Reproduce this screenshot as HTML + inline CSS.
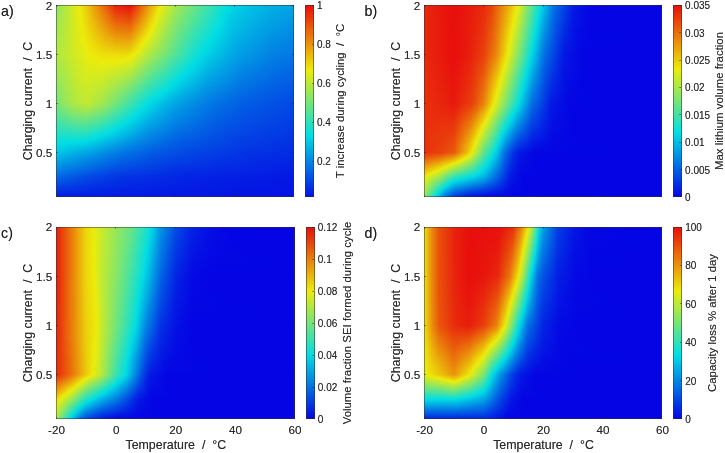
<!DOCTYPE html><html><head><meta charset="utf-8"><title>Figure</title><style>
html,body{margin:0;padding:0;background:#fff}
body{width:725px;height:453px;position:relative;overflow:hidden;text-shadow:0 0 .6px rgba(40,40,40,.55);font-family:"Liberation Sans",Arial,sans-serif;color:#262626}
.p{position:absolute;overflow:hidden;outline:1px solid rgba(50,50,50,.5);outline-offset:-1px}
.p i{display:block;height:1px;width:100%}
.cb{position:absolute;width:9px;outline:1px solid rgba(50,50,50,.55);outline-offset:-1px}
.t{position:absolute;font-size:11.7px;line-height:12px;white-space:nowrap;color:#2a2a2a}
.ct{font-size:10px}
.yt{text-align:right;width:30px}
.xt{text-align:center;width:40px}
.l{position:absolute;font-size:12.4px;line-height:14px;white-space:pre;color:#2a2a2a}

.cl{font-size:11.4px}
.yl{transform:translate(-50%,-50%) rotate(-90deg)}
.pl{position:absolute;font-size:14.2px;line-height:15px;color:#1a1a1a}
.tk{position:absolute;background:rgba(30,30,30,.45)}
</style></head><body>
<div class="pl" style="left:1.1px;top:3.9px">a)</div>
<div class="p" style="left:56.2px;top:5.2px;width:237.8px;height:191.8px">
<i style="background:linear-gradient(90deg,#8ce663,#e6ec0f 22px,#ecea0a 24px,#ebc20a 32px,#e8270c 59px,#e8170c 69px,#e8110c 74px,#e81c0c 76px,#ebb10b 96px,#ecea0a 104px,#c8ea2b 112px,#a3e84d 120px,#64e488 140px,#2fe1b8 157px,#00dee4 171px,#00cde4 183px,#01b2e4 213px,#01a4e4)"></i><i style="background:linear-gradient(90deg,#8ce662,#e6ec10 22px,#ecea0a 24px,#ebc30a 32px,#e92a0c 59px,#e8190c 71px,#e8150c 74px,#e8200c 76px,#ebac0b 95px,#ecec0a 104px,#a2e84f 120px,#62e48a 140px,#27e0c0 159px,#00dde4 171px,#00cce4 183px,#01b1e4 213px,#01a3e4)"></i><i style="background:linear-gradient(90deg,#8de662,#e6ec10 22px,#ecea0a 24px,#ebc40a 32px,#e92e0c 59px,#e8190c 74px,#e8250c 76px,#ebaf0b 95px,#eaec0c 104px,#a0e750 120px,#60e48b 140px,#1fe0c7 161px,#00dde4 171px,#00cbe4 183px,#01b0e4 213px,#01a2e4)"></i><i style="background:linear-gradient(90deg,#8ee661,#e5ec10 22px,#eceb0a 24px,#ebc50a 32px,#e9320c 59px,#e81d0c 74px,#e8290c 76px,#ebb20b 95px,#ece90a 103px,#e3eb12 105px,#9ee752 120px,#5ee48d 140px,#18dfce 163px,#01dee3 170px,#00cbe4 182px,#01afe4 213px,#01a1e4)"></i><i style="background:linear-gradient(90deg,#8ee660,#e5ec10 22px,#eceb0a 24px,#ebc60a 32px,#e9350c 59px,#e8210c 74px,#e92d0c 76px,#ebb40b 95px,#eceb0a 103px,#9ce753 120px,#5de48e 140px,#0ddfd8 166px,#00dee4 170px,#00cbe4 181px,#01aee4 213px,#01a0e4)"></i><i style="background:linear-gradient(90deg,#8fe660,#e9ec0d 23px,#ece70a 25px,#ebc20a 33px,#e9360c 60px,#e8260c 74px,#e9310c 76px,#ebb70a 95px,#ebec0b 103px,#d1ea23 108px,#9be755 120px,#5be390 140px,#00dde4 170px,#00cae4 181px,#01ade4 213px,#019fe4)"></i><i style="background:linear-gradient(90deg,#90e75f,#ecec0a 24px,#ebc30a 33px,#e93a0c 60px,#e82a0c 74px,#e9350c 76px,#ebba0a 95px,#ece80a 102px,#e9ec0d 103px,#cbea29 109px,#99e757 120px,#59e392 140px,#01dee3 169px,#00cbe4 179px,#01ace4 213px,#019ee4)"></i><i style="background:linear-gradient(90deg,#91e75e,#ecec0a 24px,#ebc40a 33px,#e93d0c 60px,#e92e0c 74px,#e9390c 76px,#ebb60a 94px,#ecea0a 102px,#c0e933 111px,#97e758 120px,#58e393 140px,#00dee4 169px,#00cce4 178px,#01abe4 213px,#019de4)"></i><i style="background:linear-gradient(90deg,#91e75e,#ebec0a 24px,#ebc50a 33px,#e9410c 60px,#e9320c 74px,#e93d0c 76px,#ebb80a 94px,#ecec0a 102px,#d9eb1b 105px,#96e75a 120px,#56e395 140px,#00dde4 169px,#00cbe4 178px,#01aae4 213px,#019ce4)"></i><i style="background:linear-gradient(90deg,#92e75d,#ebec0b 24px,#ebc60a 33px,#e9450c 60px,#e9360c 74px,#e9480b 77px,#ebbb0a 94px,#ece80a 101px,#eaec0c 102px,#d7eb1d 105px,#94e75b 120px,#54e396 140px,#01dee4 168px,#00cce4 177px,#01a9e4 213px,#019be4)"></i><i style="background:linear-gradient(90deg,#93e75c,#ebec0b 24px,#ebcb0a 32px,#e9490b 60px,#e93a0c 74px,#e94c0b 77px,#ebbe0a 94px,#ecea0a 101px,#ccea27 107px,#92e75d 120px,#52e398 140px,#00dde4 168px,#00cee4 175px,#01afe4 204px,#019ae4)"></i><i style="background:linear-gradient(90deg,#94e75c,#eaec0c 24px,#ebcc0a 32px,#e94c0b 60px,#e93f0c 74px,#e9500b 77px,#ebc10a 94px,#ecec0a 101px,#d3eb21 105px,#90e75f 120px,#51e39a 140px,#00dce4 168px,#00cbe4 176px,#01a8e4 212px,#019ae4)"></i><i style="background:linear-gradient(90deg,#94e75b,#eaec0c 24px,#ebcd0a 32px,#e9500b 60px,#e9430c 74px,#e9540b 77px,#ebc30a 94px,#ece80a 100px,#eaec0c 101px,#d1ea23 105px,#8fe660 120px,#4fe39b 140px,#00dee4 167px,#00cce4 175px,#01ade4 204px,#0199e4)"></i><i style="background:linear-gradient(90deg,#95e75a,#eaec0c 24px,#ecdb0a 29px,#e9560b 59px,#e9470b 74px,#e9580b 77px,#ebc60a 94px,#ecea0a 100px,#cbea29 106px,#8de662 120px,#4de39d 140px,#00dde4 167px,#00cbe4 175px,#01ace4 204px,#0198e4)"></i><i style="background:linear-gradient(90deg,#96e75a,#eceb0a 25px,#ebb40b 38px,#e9580b 60px,#e94b0b 74px,#e95c0b 77px,#ebc90a 94px,#ebec0b 100px,#cdea26 105px,#8be663 120px,#4be29e 140px,#01dee3 166px,#00cae4 175px,#01abe4 204px,#0197e4)"></i><i style="background:linear-gradient(90deg,#96e759,#eceb0a 25px,#ebb20b 39px,#e95b0b 60px,#e94f0b 74px,#e9600b 77px,#ebcb0a 94px,#ece90a 99px,#e3eb13 101px,#cbea28 105px,#86e668 121px,#4ae2a0 140px,#00dee4 166px,#00cbe4 174px,#01b9e4 189px,#01a3e4 214px,#0196e4)"></i><i style="background:linear-gradient(90deg,#97e758,#ecec0a 25px,#eba60b 42px,#e95f0b 60px,#e9540b 74px,#ea640b 77px,#ebc80a 93px,#eceb0a 99px,#c9ea2a 105px,#84e66a 121px,#48e2a1 140px,#00dde4 166px,#00c8e4 175px,#01a9e4 204px,#0195e4)"></i><i style="background:linear-gradient(90deg,#98e758,#ecec0a 25px,#ea630b 60px,#e9580b 74px,#ea680b 77px,#ebcb0a 93px,#eaec0c 99px,#c7ea2c 105px,#83e66b 121px,#46e2a3 140px,#00dee4 165px,#00c9e4 174px,#01b7e4 189px,#01a1e4 214px,#0194e4)"></i><i style="background:linear-gradient(90deg,#99e757,#ecec0a 25px,#ebb20b 40px,#ea660b 60px,#e95c0b 74px,#ea720b 78px,#ebce0a 93px,#ecea0a 98px,#c1e932 106px,#81e66d 121px,#45e2a5 140px,#00dde4 165px,#00c8e4 174px,#01b6e4 189px,#01a0e4 214px,#0193e4)"></i><i style="background:linear-gradient(90deg,#99e756,#ebec0b 25px,#ebbc0a 38px,#ea6a0b 60px,#e9600b 74px,#ea760b 78px,#ecd10a 93px,#ebec0b 98px,#c3ea30 105px,#7fe66e 121px,#43e2a6 140px,#00dee4 164px,#00c6e4 175px,#01a7e4 204px,#0192e4)"></i><i style="background:linear-gradient(90deg,#9ae756,#ebec0b 25px,#ebc50a 36px,#ea700b 59px,#ea640b 74px,#ea7a0b 78px,#ecd40a 93px,#ecea0a 97px,#d7eb1d 101px,#bde936 106px,#7de570 121px,#41e2a8 140px,#00dde4 164px,#00c5e4 175px,#01a6e4 204px,#0191e4)"></i><i style="background:linear-gradient(90deg,#9be755,#ecea0a 26px,#ea740b 59px,#ea690b 74px,#ea7e0b 78px,#ecd60a 93px,#ecec0a 97px,#bfe933 105px,#7ce572 121px,#3fe2a9 140px,#01dee4 163px,#00c4e4 175px,#01a5e4 204px,#0190e4)"></i><i style="background:linear-gradient(90deg,#9be754,#eceb0a 26px,#ea770b 59px,#ea6d0b 74px,#ea880b 79px,#ecd90a 93px,#ece90a 96px,#e4ec12 98px,#b9e939 106px,#7ae573 121px,#3ee2ab 140px,#00dde4 163px,#00c3e4 175px,#01a4e4 204px,#018fe4)"></i><i style="background:linear-gradient(90deg,#9ce754,#eceb0a 26px,#ea7e0b 58px,#ea780b 62px,#ea710b 74px,#ea8c0b 79px,#ecdc0a 93px,#ecec0a 96px,#b7e93b 106px,#78e575 121px,#3ce2ad 140px,#01dee3 162px,#01c2e4 175px,#01a3e4 204px,#018ee4)"></i><i style="background:linear-gradient(90deg,#9de753,#ecec0a 26px,#ea850b 57px,#ea7c0b 61px,#ea750b 74px,#ea960b 80px,#ecdf0a 93px,#eaec0c 96px,#b5e93d 106px,#77e576 121px,#3ae1ae 140px,#00dde4 162px,#01c1e4 175px,#01a2e4 204px,#018de4)"></i><i style="background:linear-gradient(90deg,#9ee752,#ecec0a 26px,#ea8c0b 56px,#ea810b 60px,#ea790b 74px,#eb990b 80px,#ece20a 93px,#ecec0a 95px,#b3e93f 106px,#75e578 121px,#38e1b0 140px,#00dee4 161px,#01c0e4 175px,#01a1e4 204px,#018ce4)"></i><i style="background:linear-gradient(90deg,#9ee752,#ebec0b 26px,#ea8f0b 56px,#ea840b 60px,#ea7d0b 74px,#eba30b 81px,#ece40a 93px,#e9ec0c 95px,#b1e841 106px,#73e57a 121px,#37e1b1 140px,#02dee2 160px,#01bce4 177px,#0199e4 213px,#028ce4)"></i><i style="background:linear-gradient(90deg,#9fe751,#ecea0a 27px,#eb9b0b 53px,#ea880b 60px,#ea820b 74px,#ebac0b 82px,#ece70a 93px,#ecec0a 94px,#afe842 106px,#71e57b 121px,#35e1b3 140px,#00dee4 160px,#01bde4 176px,#0199e4 212px,#028be4)"></i><i style="background:linear-gradient(90deg,#a0e750,#eceb0a 27px,#eba00b 52px,#ea8c0b 60px,#ea860b 74px,#ebb50a 83px,#ecea0a 93px,#a9e848 107px,#70e57d 121px,#33e1b5 140px,#01dee3 159px,#01bae4 177px,#0197e4 213px,#028ae4)"></i><i style="background:linear-gradient(90deg,#a0e850,#eceb0a 27px,#eba30b 52px,#ea900b 60px,#ea8a0b 74px,#ebc40a 85px,#ebec0b 93px,#a7e84a 107px,#6ee57e 121px,#32e1b6 140px,#02dee2 158px,#00d3e4 164px,#01b7e4 178px,#0197e4 213px,#0289e4)"></i><i style="background:linear-gradient(90deg,#a1e84f,#ecec0a 27px,#eba90b 51px,#ea930b 60px,#ea8e0b 74px,#ecd20a 87px,#eceb0a 92px,#a5e84c 107px,#6ce480 121px,#30e1b8 140px,#03dee1 157px,#00d6e4 162px,#01b8e4 177px,#0196e4 213px,#0288e4)"></i><i style="background:linear-gradient(90deg,#a2e84e,#ecec0a 27px,#ebac0b 51px,#ea970b 60px,#ea920b 74px,#ece90a 91px,#e0eb15 94px,#9fe751 108px,#67e485 122px,#2ee1b9 140px,#04dee0 156px,#00dbe4 159px,#01b7e4 177px,#0195e4 213px,#0287e4)"></i><i style="background:linear-gradient(90deg,#a3e84e,#ebec0b 27px,#ebae0b 51px,#eb9b0b 60px,#ea970b 74px,#ecec0a 91px,#9de753 108px,#65e486 122px,#2ce1bb 140px,#05dedf 155px,#00dce4 158px,#01b6e4 177px,#0194e4 213px,#0286e4)"></i><i style="background:linear-gradient(90deg,#a3e84d,#eceb0a 28px,#ebb30b 50px,#eb9f0b 60px,#eb9b0b 74px,#eceb0a 90px,#97e759 109px,#64e488 122px,#2be1bd 140px,#06dedf 154px,#00dbe4 158px,#01b5e4 177px,#0193e4 213px,#0285e4)"></i><i style="background:linear-gradient(90deg,#a4e84c,#eceb0a 28px,#ebb60a 50px,#eba20b 60px,#eb9f0b 74px,#ece90a 89px,#e1eb14 92px,#95e75a 109px,#62e48a 122px,#29e0be 140px,#04dee0 154px,#00dce4 157px,#01b3e4 178px,#0192e4 213px,#0284e4)"></i><i style="background:linear-gradient(90deg,#a5e84c,#ecec0a 28px,#ebb90a 50px,#eba60b 60px,#eba30b 74px,#ebec0b 89px,#8fe660 110px,#60e48b 122px,#27e0c0 140px,#05dee0 153px,#00dce4 156px,#01b2e4 178px,#0191e4 213px,#0283e4)"></i><i style="background:linear-gradient(90deg,#a6e84b,#ecec0a 28px,#ebbb0a 50px,#ebaa0b 60px,#eba70b 74px,#eceb0a 88px,#85e669 112px,#5be390 123px,#25e0c1 140px,#03dee1 153px,#00d7e4 158px,#01b0e4 179px,#0190e4 213px,#0282e4)"></i><i style="background:linear-gradient(90deg,#a6e84a,#ecea0a 29px,#ebc00a 49px,#ebad0b 61px,#ebab0b 74px,#eaec0c 88px,#87e667 111px,#59e391 123px,#24e0c3 140px,#02dee3 153px,#01afe4 179px,#018fe4 213px,#0281e4)"></i><i style="background:linear-gradient(90deg,#a7e84a,#eceb0a 29px,#ebc20a 49px,#ebb10b 61px,#ebb00b 74px,#ecec0a 87px,#81e66d 112px,#54e396 124px,#1fe0c7 141px,#00dee4 153px,#01aee4 179px,#018ee4 213px,#0280e4)"></i><i style="background:linear-gradient(90deg,#a8e849,#ecec0a 29px,#ebc50a 49px,#ebb50a 61px,#ebb40b 74px,#eceb0a 86px,#6be481 117px,#26e0c1 138px,#00dee4 152px,#01ade4 179px,#018de4 213px,#027fe4)"></i><i style="background:linear-gradient(90deg,#a8e848,#ecea0a 30px,#ebc70a 49px,#ebb90a 61px,#ebb80a 74px,#ecea0a 85px,#dbeb1a 89px,#58e393 122px,#1fe0c8 140px,#01dee3 151px,#01abe4 180px,#018ce4 213px,#027fe4)"></i><i style="background:linear-gradient(90deg,#a9e848,#eceb0a 30px,#ebca0a 49px,#ebbc0a 61px,#ebbc0a 74px,#ebec0b 85px,#c3ea30 94px,#56e395 122px,#1de0c9 140px,#00dde4 151px,#01abe4 179px,#028be4 213px,#027ee4)"></i><i style="background:linear-gradient(90deg,#aae847,#eceb0a 30px,#ebcd0a 49px,#ebc00a 61px,#ebc00a 74px,#ecec0a 84px,#c4ea2f 93px,#54e396 122px,#1be0cb 140px,#00dee4 150px,#01a9e4 180px,#028ae4 213px,#027de4)"></i><i style="background:linear-gradient(90deg,#abe846,#eceb0a 31px,#ebcf0a 49px,#ebc40a 61px,#ebc50a 74px,#eceb0a 83px,#bde935 94px,#4fe39b 123px,#19e0cd 140px,#00dee4 149px,#01a8e4 180px,#0289e4 213px,#027ce4)"></i><i style="background:linear-gradient(90deg,#abe846,#eceb0a 31px,#ecd20a 49px,#ebc80a 62px,#ebc90a 74px,#ecea0a 82px,#b7e93b 95px,#4de39d 123px,#18dfce 140px,#00dce4 149px,#01a7e4 180px,#0289e4 213px,#027be4)"></i><i style="background:linear-gradient(90deg,#ace845,#ecec0a 31px,#ecd40a 49px,#ebcc0a 62px,#ebcd0a 74px,#eaec0c 82px,#bfe934 92px,#48e2a1 124px,#13dfd2 141px,#00dde4 148px,#01a6e4 180px,#0288e4 213px,#027ae4)"></i><i style="background:linear-gradient(90deg,#ade844,#ecec0a 32px,#ecd70a 49px,#ebcf0a 62px,#ecd10a 74px,#ebec0b 81px,#bce936 92px,#43e2a6 125px,#0edfd7 142px,#00dee4 147px,#01a5e4 180px,#0287e4 213px,#0279e4)"></i><i style="background:linear-gradient(90deg,#ade844,#ecec0a 32px,#ecda0a 49px,#ecd30a 62px,#ecd50a 74px,#ebec0b 80px,#b9e939 92px,#69e483 114px,#24e0c3 134px,#00dde4 147px,#01a3e4 181px,#0286e4 213px,#0278e4)"></i><i style="background:linear-gradient(90deg,#aee843,#ecec0a 33px,#ecdc0a 49px,#ecd70a 63px,#ecda0a 74px,#ebec0a 79px,#b6e93c 92px,#72e57a 111px,#39e1af 127px,#02dee2 145px,#00d4e4 150px,#01a2e4 181px,#0285e4 213px,#0277e4)"></i><i style="background:linear-gradient(90deg,#aee843,#eaec0c 32px,#ece00a 45px,#ecdb0a 63px,#ecde0a 74px,#ecec0a 78px,#b6e93c 91px,#74e579 110px,#3ae1ae 126px,#06dede 143px,#00dce4 146px,#00c7e4 157px,#01a0e4 182px,#0284e4 213px,#0276e4)"></i><i style="background:linear-gradient(90deg,#ade844,#e9ec0d 32px,#ece80a 39px,#ece00a 51px,#ecde0a 64px,#ece10a 74px,#ecec0a 77px,#b2e93f 91px,#71e57c 110px,#38e1b1 126px,#04dee0 143px,#00dae4 146px,#00c5e4 157px,#019fe4 182px,#0283e4 213px,#0275e4)"></i><i style="background:linear-gradient(90deg,#ace845,#e8ec0e 32px,#ece90a 39px,#ece20a 51px,#ece10a 64px,#ece50a 74px,#eceb0a 76px,#afe843 91px,#6ae482 111px,#32e1b6 127px,#02dee2 143px,#00c7e4 155px,#019ee4 182px,#0282e4 213px,#0274e4)"></i><i style="background:linear-gradient(90deg,#abe846,#e6ec0f 31px,#ece90a 40px,#ece30a 52px,#ece40a 65px,#eceb0a 75px,#a8e849 92px,#63e489 112px,#2ce1bb 128px,#00dee4 143px,#00cae4 152px,#019ce4 182px,#0280e4 214px,#0273e4)"></i><i style="background:linear-gradient(90deg,#aae847,#e5ec10 31px,#ecea0a 41px,#ece50a 57px,#ecec0a 74px,#a4e84d 92px,#5ce38f 113px,#20e0c7 131px,#01dee3 142px,#00c8e4 152px,#019be4 182px,#027fe4 214px,#0272e4)"></i><i style="background:linear-gradient(90deg,#a9e848,#e5ec11 31px,#ece90a 43px,#ece90a 62px,#e8ec0e 74px,#a0e850 92px,#59e392 113px,#21e0c6 130px,#00dde4 142px,#00c7e4 152px,#019ae4 182px,#027ee4 214px,#0271e4)"></i><i style="background:linear-gradient(90deg,#a7e849,#e3eb12 30px,#ecea0a 44px,#eaec0c 66px,#e1eb14 75px,#a0e750 91px,#52e398 114px,#12dfd4 134px,#00dde4 141px,#00c5e4 152px,#0199e4 182px,#027de4 214px,#0271e4)"></i><i style="background:linear-gradient(90deg,#a6e84a,#e2eb13 30px,#eceb0a 47px,#e9ec0d 63px,#ddeb17 75px,#9ce754 91px,#4be29f 115px,#05dee0 138px,#00dbe4 141px,#00c3e4 152px,#0197e4 182px,#027ce4 214px,#0270e4)"></i><i style="background:linear-gradient(90deg,#a5e84c,#e1eb14 30px,#ebec0b 47px,#e6ec10 63px,#daeb1b 75px,#99e757 91px,#45e2a5 116px,#00dee4 139px,#00c3e4 151px,#0196e4 182px,#027be4 214px,#026fe4)"></i><i style="background:linear-gradient(90deg,#a4e84d,#dfeb16 29px,#e9ec0d 47px,#e3eb13 63px,#d6eb1f 75px,#95e75a 91px,#3be1ae 118px,#00dee4 138px,#01c0e4 152px,#0195e4 182px,#027ae4 214px,#026ee4)"></i><i style="background:linear-gradient(90deg,#a3e84e,#dbeb1a 27px,#e2eb14 33px,#e7ec0f 47px,#e0eb15 63px,#d2ea22 75px,#91e75e 91px,#23e0c4 125px,#01dee4 137px,#01bee4 152px,#0193e4 182px,#0279e4 214px,#026de4)"></i><i style="background:linear-gradient(90deg,#a2e84f,#d6eb1e 25px,#e0eb15 32px,#e5ec10 47px,#ddeb18 63px,#ceea26 75px,#8ee661 91px,#23e0c4 124px,#01dee3 136px,#01bce4 152px,#0192e4 182px,#0278e4 214px,#026ce4)"></i><i style="background:linear-gradient(90deg,#a0e850,#d3eb21 24px,#dfeb16 31px,#e3eb12 47px,#daeb1b 63px,#caea29 75px,#8ae664 91px,#20e0c6 124px,#00dde4 136px,#01bce4 151px,#0191e4 182px,#0277e4 214px,#026be4)"></i><i style="background:linear-gradient(90deg,#9fe751,#cfea25 22px,#deeb17 31px,#e2eb14 47px,#d6eb1e 63px,#c6ea2d 75px,#86e668 91px,#1de0c9 124px,#00dde4 135px,#01bae4 151px,#018fe4 182px,#0276e4 214px,#026ae4)"></i><i style="background:linear-gradient(90deg,#9ee752,#ceea26 22px,#ddeb18 31px,#e0eb15 47px,#d3eb21 63px,#c2ea31 75px,#83e66b 91px,#1ae0cc 124px,#00dde4 134px,#01b8e4 151px,#018ee4 182px,#0274e4 215px,#0269e4)"></i><i style="background:linear-gradient(90deg,#9de753,#ccea28 21px,#ddeb18 31px,#deeb17 47px,#d0ea24 63px,#bee934 75px,#7fe66f 91px,#18dfce 124px,#00dde4 133px,#01b7e4 151px,#018de4 182px,#0273e4 215px,#0268e4)"></i><i style="background:linear-gradient(90deg,#9ce754,#c9ea2a 20px,#dceb19 31px,#dceb19 47px,#cdea26 63px,#bbe938 75px,#7be572 91px,#18dfce 123px,#00dde4 132px,#01b5e4 151px,#028ce4 182px,#0272e4 215px,#0267e4)"></i><i style="background:linear-gradient(90deg,#9be755,#c8ea2b 20px,#dbeb1a 31px,#daeb1a 47px,#caea29 63px,#b7e93b 75px,#78e575 91px,#15dfd1 123px,#00dee4 131px,#01b3e4 151px,#028ae4 182px,#0271e4 215px,#0266e4)"></i><i style="background:linear-gradient(90deg,#9ae756,#c8ea2c 20px,#daeb1a 31px,#d8eb1c 47px,#c6ea2d 64px,#b3e93f 75px,#74e579 91px,#12dfd3 123px,#00dee4 130px,#01b1e4 151px,#0289e4 182px,#0270e4 215px,#0265e4)"></i><i style="background:linear-gradient(90deg,#98e757,#c5ea2e 19px,#d9eb1b 30px,#d7eb1e 47px,#c2ea30 64px,#afe842 75px,#71e57c 91px,#0fdfd6 123px,#00dee4 129px,#01b0e4 151px,#0288e4 182px,#026fe4 215px,#0264e4)"></i><i style="background:linear-gradient(90deg,#97e758,#c4ea2f 19px,#d9eb1c 30px,#d5eb1f 47px,#bfe933 64px,#abe846 75px,#6de47f 91px,#0cdfd9 123px,#00dee4 128px,#01aee4 151px,#0286e4 183px,#026ee4 215px,#0264e4)"></i><i style="background:linear-gradient(90deg,#96e759,#c3ea2f 19px,#d8eb1d 30px,#d4eb20 46px,#bce936 64px,#a7e84a 75px,#69e483 91px,#0adfdb 123px,#00dbe4 128px,#01ace4 151px,#0284e4 183px,#026de4 215px,#0263e4)"></i><i style="background:linear-gradient(90deg,#95e75a,#c1e932 18px,#d7eb1d 30px,#d2ea22 46px,#b9e939 64px,#a3e84d 75px,#66e486 91px,#07dede 123px,#00dbe4 127px,#01aae4 151px,#0283e4 183px,#026ce4 216px,#0262e4)"></i><i style="background:linear-gradient(90deg,#94e75b,#c0e933 18px,#d6eb1e 30px,#d1ea23 46px,#b6e93c 64px,#9fe751 75px,#62e48a 91px,#06dede 122px,#00dbe4 126px,#01a9e4 151px,#0282e4 183px,#026be4 216px,#0261e4)"></i><i style="background:linear-gradient(90deg,#93e75d,#bfe933 18px,#d6eb1f 30px,#cfea25 46px,#b3e93f 64px,#9ce754 75px,#5ee48d 91px,#04dee1 122px,#00d9e4 126px,#01a7e4 151px,#0280e4 183px,#026ae4 216px,#0260e4)"></i><i style="background:linear-gradient(90deg,#91e75e,#bfe934 18px,#d5eb1f 30px,#cdea27 46px,#b0e842 64px,#98e758 75px,#5be390 91px,#01dee3 122px,#01a5e4 151px,#027fe4 183px,#0268e4 216px,#025fe4)"></i><i style="background:linear-gradient(90deg,#90e75f,#bee935 18px,#d4eb20 30px,#cbea28 46px,#ade845 64px,#94e75b 75px,#57e394 91px,#00dee4 121px,#01a4e4 150px,#027ee4 183px,#0267e4 216px,#025ee4)"></i><i style="background:linear-gradient(90deg,#8fe660,#bde935 18px,#d3eb21 30px,#c9ea2a 46px,#a9e848 64px,#90e75f 75px,#53e397 91px,#00dee4 120px,#01a3e4 150px,#027de4 183px,#0266e4 216px,#025de4)"></i><i style="background:linear-gradient(90deg,#8ee661,#bbe938 17px,#d3eb21 30px,#c8ea2c 46px,#a6e84a 64px,#8ce663 75px,#50e39a 91px,#00dde4 119px,#01a1e4 150px,#027be4 183px,#0265e4 216px,#025ce4)"></i><i style="background:linear-gradient(90deg,#8de662,#bae938 17px,#d2ea22 30px,#c6ea2d 46px,#a3e84d 64px,#88e666 75px,#4ce39e 91px,#00dde4 118px,#01a0e4 149px,#027ae4 183px,#0264e4 217px,#025be4)"></i><i style="background:linear-gradient(90deg,#8ce663,#b9e939 17px,#d1ea23 30px,#c4ea2f 46px,#a0e750 64px,#80e66d 76px,#48e2a1 91px,#00dde4 117px,#019fe4 149px,#0279e4 183px,#0263e4 217px,#025ae4)"></i><i style="background:linear-gradient(90deg,#8be664,#b8e93a 17px,#d1ea23 30px,#c2ea30 46px,#9de753 64px,#7de571 76px,#45e2a4 91px,#00dde4 116px,#01a0e4 147px,#0277e4 183px,#0262e4 217px,#0259e4)"></i><i style="background:linear-gradient(90deg,#89e665,#b8e93a 17px,#d0ea24 30px,#c1e932 46px,#9ae756 64px,#79e575 76px,#41e2a8 91px,#00dce4 115px,#01b0e4 137px,#0196e4 153px,#0275e4 184px,#0261e4 217px,#0258e4)"></i><i style="background:linear-gradient(90deg,#88e666,#b7e93b 17px,#cfea25 30px,#bfe934 46px,#97e759 64px,#75e578 76px,#3de2ab 91px,#00dee4 113px,#01bee4 128px,#0196e4 152px,#0274e4 184px,#0260e4 217px,#0257e4)"></i><i style="background:linear-gradient(90deg,#87e667,#b6e93c 17px,#ceea25 30px,#bde935 46px,#93e75c 64px,#71e57c 76px,#3ae1af 91px,#00dee4 112px,#01c2e4 125px,#0194e4 152px,#0273e4 184px,#025ee4 218px,#0257e4)"></i><i style="background:linear-gradient(90deg,#86e668,#b6e93c 17px,#ceea26 30px,#bbe937 46px,#90e75f 64px,#69e483 77px,#36e1b2 91px,#00dde4 111px,#01c1e4 124px,#0192e4 152px,#0272e4 184px,#025de4 218px,#0356e4)"></i><i style="background:linear-gradient(90deg,#85e669,#b5e93d 17px,#cdea27 30px,#bae939 46px,#8de662 64px,#65e486 77px,#33e1b5 91px,#00dde4 110px,#01bee4 124px,#0191e4 152px,#0270e4 184px,#025ce4 218px,#0355e4)"></i><i style="background:linear-gradient(90deg,#84e66a,#b4e93e 17px,#ccea27 30px,#b8e93a 46px,#8ae664 64px,#62e48a 77px,#2fe1b9 91px,#00dee4 108px,#01bce4 124px,#018fe4 152px,#026fe4 184px,#025be4 218px,#0354e4)"></i><i style="background:linear-gradient(90deg,#83e66b,#b3e93e 17px,#cbea28 30px,#b6e93c 46px,#84e66a 65px,#5ae391 78px,#2be1bc 91px,#00dee4 107px,#01bbe4 123px,#018de4 152px,#026ee4 184px,#025ae4 219px,#0353e4)"></i><i style="background:linear-gradient(90deg,#81e66d,#b3e93f 17px,#cbea29 30px,#b4e93d 46px,#81e66d 65px,#53e398 79px,#28e0bf 91px,#00dde4 106px,#01b8e4 123px,#028be4 152px,#026ce4 184px,#0259e4 219px,#0352e4)"></i><i style="background:linear-gradient(90deg,#80e66e,#b0e841 16px,#caea29 30px,#b3e93f 46px,#7de570 65px,#47e2a2 81px,#21e0c5 92px,#00dee4 104px,#01b6e4 123px,#028ae4 152px,#026be4 185px,#0258e4 219px,#0351e4)"></i><i style="background:linear-gradient(90deg,#7fe66f,#afe842 16px,#c9ea2a 30px,#b1e841 46px,#7ae573 65px,#3ce2ac 83px,#1ee0c9 92px,#00dee4 103px,#01b5e4 122px,#0288e4 152px,#0269e4 185px,#0257e4 220px,#0350e4)"></i><i style="background:linear-gradient(90deg,#7ee570,#afe843 16px,#c8ea2b 30px,#afe842 46px,#77e576 65px,#1ae0cc 92px,#00dde4 102px,#01b2e4 122px,#0285e4 153px,#0268e4 185px,#0356e4 220px,#034fe4)"></i><i style="background:linear-gradient(90deg,#7de571,#aee843 16px,#c8ea2c 30px,#ade844 46px,#74e579 65px,#19dfcd 91px,#00dce4 101px,#01b0e4 122px,#0283e4 153px,#0267e4 185px,#0355e4 220px,#034ee4)"></i><i style="background:linear-gradient(90deg,#7ce572,#ade844 16px,#c7ea2c 30px,#ace846 46px,#71e57c 65px,#15dfd0 91px,#00dee4 99px,#01ade4 122px,#0282e4 153px,#0265e4 185px,#0353e4 221px,#034de4)"></i><i style="background:linear-gradient(90deg,#7ae573,#ace845 16px,#c6ea2d 30px,#aae847 46px,#6de47f 65px,#12dfd4 91px,#00dde4 98px,#01ace4 121px,#0280e4 153px,#0264e4 185px,#0352e4 221px,#034ce4)"></i><i style="background:linear-gradient(90deg,#79e574,#ace845 16px,#c6ea2e 30px,#a8e849 46px,#6ae482 65px,#0edfd7 91px,#00dce4 97px,#01ace4 119px,#027ee4 153px,#0262e4 186px,#0351e4 222px,#034be4)"></i><i style="background:linear-gradient(90deg,#78e575,#abe846 16px,#c5ea2e 30px,#a6e84a 46px,#67e485 65px,#0adfda 91px,#00dee4 95px,#01b1e4 115px,#0197e4 132px,#027ce4 154px,#0261e4 186px,#0350e4 222px,#034ae4)"></i><i style="background:linear-gradient(90deg,#77e576,#aae847 16px,#c4ea2f 30px,#a4e84c 46px,#64e488 65px,#07dede 91px,#00dbe4 95px,#01b1e4 114px,#019de4 126px,#027ae4 154px,#0260e4 186px,#034ee4 223px,#0349e4)"></i><i style="background:linear-gradient(90deg,#76e577,#a9e848 16px,#c3ea30 30px,#a2e84e 46px,#5de38e 66px,#03dee1 91px,#00d5e4 96px,#01aee4 114px,#019be4 126px,#0278e4 154px,#025fe4 186px,#034de4 224px,#0349e4)"></i><i style="background:linear-gradient(90deg,#73e57a,#a5e84c 16px,#bde935 30px,#9de753 46px,#58e392 66px,#00dee4 91px,#01b0e4 112px,#019ce4 124px,#0277e4 154px,#025ee4 186px,#034de4 224px,#0348e4)"></i><i style="background:linear-gradient(90deg,#70e57d,#a0e850 16px,#b8e93a 30px,#98e757 46px,#54e396 66px,#00dee4 90px,#01b0e4 111px,#019ae4 124px,#0276e4 154px,#025de4 186px,#034ce4 225px,#0347e4)"></i><i style="background:linear-gradient(90deg,#6de47f,#9ce754 16px,#b3e93f 30px,#93e75c 46px,#4de39d 67px,#00dee4 89px,#01aee4 111px,#0198e4 124px,#0274e4 155px,#025be4 187px,#034be4 226px,#0347e4)"></i><i style="background:linear-gradient(90deg,#6ae482,#98e758 16px,#aee843 30px,#8ee661 46px,#45e2a4 68px,#00dee4 88px,#01aee4 110px,#0198e4 123px,#0273e4 155px,#025be4 187px,#034ae4 227px,#0346e4)"></i><i style="background:linear-gradient(90deg,#67e485,#94e75c 16px,#a9e848 30px,#89e665 46px,#41e2a8 68px,#01dee4 87px,#01ade4 109px,#0196e4 123px,#0271e4 155px,#025ae4 187px,#0349e4 228px,#0346e4)"></i><i style="background:linear-gradient(90deg,#64e487,#8fe660 16px,#a4e84d 30px,#84e66a 46px,#39e1af 69px,#01dee3 86px,#01abe4 109px,#0194e4 123px,#0270e4 155px,#0259e4 187px,#0348e4 229px,#0345e4)"></i><i style="background:linear-gradient(90deg,#61e48a,#8be664 16px,#9ee752 30px,#7fe66f 46px,#32e1b6 70px,#01dee3 85px,#01b2e4 104px,#0193e4 123px,#026fe4 155px,#0258e4 187px,#0347e4 230px,#0344e4)"></i><i style="background:linear-gradient(90deg,#5fe48d,#87e668 16px,#99e756 30px,#7ae573 46px,#27e0c0 72px,#01dee3 84px,#01bfe4 97px,#0194e4 120px,#026ee4 155px,#0257e4 187px,#0346e4 231px,#0344e4)"></i><i style="background:linear-gradient(90deg,#5ce38f,#82e66c 16px,#94e75b 30px,#75e578 46px,#20e0c6 73px,#01dee3 83px,#01c1e4 95px,#0194e4 119px,#026de4 155px,#0256e4 187px,#0345e4 232px,#0343e4)"></i><i style="background:linear-gradient(90deg,#59e392,#7fe66f 17px,#8fe660 30px,#70e57d 46px,#00dee4 82px,#01c0e4 94px,#0195e4 117px,#026ce4 155px,#0355e4 187px,#0344e4 233px,#0343e4)"></i><i style="background:linear-gradient(90deg,#56e395,#7be573 17px,#8ae665 30px,#6be481 46px,#00dee4 81px,#01c0e4 93px,#0195e4 116px,#026be4 154px,#0355e4 187px,#0343e4 235px,#0342e4)"></i><i style="background:linear-gradient(90deg,#53e397,#76e577 17px,#85e66a 30px,#66e486 46px,#00dee4 80px,#01bde4 93px,#0192e4 117px,#0269e4 155px,#0354e4 187px,#0342e4 237px,#0341e4)"></i><i style="background:linear-gradient(90deg,#50e39a,#72e57b 17px,#7fe66e 30px,#61e48a 46px,#00dde4 79px,#01bae4 93px,#018ee4 118px,#0267e4 156px,#0352e4 188px,#0341e4)"></i><i style="background:linear-gradient(90deg,#4de39d,#6ee57f 17px,#7ae573 30px,#59e392 47px,#00dde4 78px,#01b8e4 93px,#028be4 119px,#0266e4 157px,#0351e4 188px,#0340e4)"></i><i style="background:linear-gradient(90deg,#4ae29f,#69e483 17px,#75e578 30px,#54e396 47px,#01dee3 76px,#01b5e4 93px,#0289e4 119px,#0264e4 157px,#0351e4 188px,#0340e4)"></i><i style="background:linear-gradient(90deg,#48e2a2,#65e487 17px,#70e57d 30px,#4fe39b 47px,#00dee4 75px,#01b5e4 92px,#0287e4 119px,#0263e4 157px,#0350e4 188px,#033fe4)"></i><i style="background:linear-gradient(90deg,#45e2a5,#61e48b 17px,#6be482 30px,#4ae2a0 47px,#00dde4 74px,#01b2e4 92px,#0285e4 119px,#0261e4 158px,#034fe4 189px,#033ee4)"></i><i style="background:linear-gradient(90deg,#42e2a7,#5ce38f 17px,#65e486 30px,#45e2a4 47px,#00dce4 73px,#01afe4 92px,#0284e4 119px,#0260e4 158px,#034ee4 189px,#033ee4)"></i><i style="background:linear-gradient(90deg,#3fe2aa,#58e393 17px,#60e48b 30px,#40e2a9 47px,#00dee4 71px,#01ade4 92px,#0282e4 119px,#025ee4 159px,#034de4 189px,#033de4)"></i><i style="background:linear-gradient(90deg,#3ce2ad,#53e397 17px,#5be390 30px,#3be2ad 47px,#00dde4 70px,#01aae4 92px,#027fe4 120px,#025de4 159px,#034ce4 189px,#033de4)"></i><i style="background:linear-gradient(90deg,#39e1af,#4fe39b 17px,#56e395 30px,#36e1b2 47px,#00dee4 68px,#01a7e4 92px,#027de4 120px,#025be4 160px,#034be4 190px,#033ce4)"></i><i style="background:linear-gradient(90deg,#36e1b2,#4be29f 18px,#51e399 30px,#31e1b7 47px,#00dce4 67px,#01a5e4 92px,#027ce4 120px,#025ae4 160px,#034ae4 190px,#033be4)"></i><i style="background:linear-gradient(90deg,#33e1b5,#47e2a3 18px,#4ce29e 30px,#2ae0bd 48px,#00dde4 65px,#01a2e4 92px,#027ae4 120px,#0259e4 161px,#0349e4 191px,#033be4)"></i><i style="background:linear-gradient(90deg,#30e1b7,#42e2a7 18px,#46e2a3 30px,#25e0c2 48px,#00dee4 63px,#01a0e4 92px,#0277e4 121px,#0257e4 162px,#0347e4 192px,#033ae4)"></i><i style="background:linear-gradient(90deg,#2ee1ba,#3ee2ab 18px,#41e2a8 30px,#20e0c7 48px,#00dce4 62px,#019de4 92px,#0275e4 121px,#0355e4 163px,#0346e4 193px,#033ae4)"></i><i style="background:linear-gradient(90deg,#2be1bd,#39e1af 18px,#3ce2ad 30px,#1be0cb 48px,#00dce4 60px,#019ae4 92px,#0274e4 121px,#0353e4 164px,#0345e4 194px,#0339e4)"></i><i style="background:linear-gradient(90deg,#28e0bf,#35e1b3 18px,#37e1b1 30px,#16dfd0 48px,#00dde4 58px,#0198e4 92px,#0271e4 122px,#0352e4 165px,#0344e4 196px,#0338e4)"></i><i style="background:linear-gradient(90deg,#25e0c2,#31e1b7 19px,#30e1b8 31px,#0fdfd6 49px,#00dde4 56px,#0195e4 92px,#026fe4 122px,#0350e4 166px,#0342e4 198px,#0338e4)"></i><i style="background:linear-gradient(90deg,#22e0c5,#2ce1bb 19px,#2be1bd 31px,#0adfdb 49px,#00dce4 54px,#0192e4 92px,#026de4 123px,#034ee4 168px,#033fe4 207px,#0337e4)"></i><i style="background:linear-gradient(90deg,#1fe0c7,#28e0bf 19px,#26e0c1 31px,#05dee0 49px,#00dce4 52px,#0190e4 92px,#026be4 123px,#034ce4 170px,#033be4 219px,#0337e4)"></i><i style="background:linear-gradient(90deg,#1ce0ca,#23e0c4 20px,#20e0c6 31px,#00dce4 50px,#018ee4 91px,#0269e4 123px,#0349e4 173px,#0336e4)"></i><i style="background:linear-gradient(90deg,#19e0cc,#1ee0c8 20px,#1be0cb 31px,#00dde4 47px,#028ce4 91px,#0268e4 123px,#0346e4 176px,#0335e4)"></i><i style="background:linear-gradient(90deg,#17dfcf,#1ae0cc 21px,#16dfd0 31px,#00dde4 45px,#028ae4 90px,#0266e4 123px,#0344e4 178px,#0335e4)"></i><i style="background:linear-gradient(90deg,#14dfd2,#15dfd1 21px,#11dfd4 31px,#00dde4 42px,#0286e4 91px,#0264e4 124px,#0343e4 179px,#0334e4)"></i><i style="background:linear-gradient(90deg,#11dfd4,#10dfd5 22px,#0cdfd9 31px,#00dde4 39px,#0284e4 91px,#0262e4 124px,#0342e4 180px,#0334e4)"></i><i style="background:linear-gradient(90deg,#0edfd7,#0bdfda 23px,#05dedf 32px,#00dbe4 37px,#0281e4 91px,#0260e4 124px,#0341e4 181px,#0333e4)"></i><i style="background:linear-gradient(90deg,#0bdfda,#06dedf 24px,#00dce4 33px,#01b2e4 58px,#027ce4 93px,#025ee4 124px,#033fe4 182px,#0332e4)"></i><i style="background:linear-gradient(90deg,#08dedc,#01dee3 25px,#00d9e4 32px,#027ee4 89px,#025de4 124px,#033ee4 184px,#0332e4)"></i><i style="background:linear-gradient(90deg,#05dedf,#00dce4 22px,#00d4e4 32px,#0283e4 84px,#0264e4 112px,#034de4 148px,#033ce4 189px,#0331e4)"></i><i style="background:linear-gradient(90deg,#02dee2,#00d7e4 22px,#00cee4 33px,#0287e4 79px,#0270e4 98px,#0258e4 126px,#033ce4 186px,#0331e4)"></i><i style="background:linear-gradient(90deg,#00dee4,#00cee4 30px,#0288e4 76px,#026fe4 96px,#0257e4 126px,#033be4 187px,#0330e4)"></i><i style="background:linear-gradient(90deg,#00dbe4,#00c7e4 31px,#0288e4 73px,#026de4 96px,#0355e4 126px,#033ae4 187px,#032fe4)"></i><i style="background:linear-gradient(90deg,#00d8e4,#01c3e4 31px,#0289e4 70px,#026ae4 96px,#0353e4 126px,#0339e4 187px,#032fe4)"></i><i style="background:linear-gradient(90deg,#00d6e4,#01bce4 32px,#0286e4 69px,#0268e4 96px,#0351e4 127px,#0338e4 188px,#032ee4)"></i><i style="background:linear-gradient(90deg,#00d3e4,#01b6e4 33px,#0284e4 68px,#0265e4 96px,#034fe4 127px,#0337e4 188px,#032ee4)"></i><i style="background:linear-gradient(90deg,#00d0e4,#01b1e4 33px,#0281e4 67px,#0263e4 96px,#034de4 128px,#0336e4 188px,#032de4)"></i><i style="background:linear-gradient(90deg,#00cee4,#01abe4 34px,#027ee4 66px,#0260e4 96px,#034ce4 128px,#0335e4 189px,#032ce4)"></i><i style="background:linear-gradient(90deg,#00cbe4,#01a5e4 35px,#027ce4 65px,#025de4 97px,#034ae4 129px,#0334e4 189px,#032ce4)"></i><i style="background:linear-gradient(90deg,#00c8e4,#019de4 37px,#0278e4 65px,#025be4 97px,#0348e4 129px,#0333e4 189px,#032be4)"></i><i style="background:linear-gradient(90deg,#00c4e4,#0198e4 38px,#0275e4 65px,#0259e4 97px,#0346e4 130px,#0332e4 190px,#032ae4)"></i><i style="background:linear-gradient(90deg,#01c0e4,#0193e4 39px,#0272e4 65px,#0256e4 98px,#0345e4 130px,#0331e4 191px,#032ae4)"></i><i style="background:linear-gradient(90deg,#01bce4,#018de4 41px,#026fe4 65px,#0353e4 99px,#0343e4 131px,#0330e4 191px,#0329e4)"></i><i style="background:linear-gradient(90deg,#01b8e4,#0288e4 42px,#026ce4 66px,#0352e4 99px,#0342e4 131px,#032fe4 192px,#0328e4)"></i><i style="background:linear-gradient(90deg,#01b4e4,#0281e4 45px,#0269e4 66px,#034fe4 100px,#0340e4 132px,#032ee4 193px,#0327e4)"></i><i style="background:linear-gradient(90deg,#01b0e4,#0279e4 49px,#0265e4 68px,#034ce4 102px,#033ee4 134px,#032de4 195px,#0326e4)"></i><i style="background:linear-gradient(90deg,#01ace4,#026de4 56px,#034ce4 98px,#033de4 132px,#032ce4 196px,#0326e4)"></i><i style="background:linear-gradient(90deg,#01a8e4,#0262e4 65px,#0348e4 103px,#033ae4 136px,#032be4 198px,#0325e4)"></i><i style="background:linear-gradient(90deg,#01a4e4,#025fe4 65px,#0345e4 105px,#0338e4 140px,#0329e4 201px,#0324e4)"></i><i style="background:linear-gradient(90deg,#01a0e4,#025ce4 65px,#0342e4 107px,#0334e4 150px,#0327e4 212px,#0323e4)"></i><i style="background:linear-gradient(90deg,#019ce4,#0259e4 65px,#033fe4 109px,#032ae4 181px,#0322e4)"></i><i style="background:linear-gradient(90deg,#0198e4,#0257e4 64px,#033de4 111px,#0327e4 196px,#0322e4)"></i><i style="background:linear-gradient(90deg,#0194e4,#0354e4 64px,#0339e4 115px,#0326e4 201px,#0321e4)"></i><i style="background:linear-gradient(90deg,#0191e4,#0352e4 64px,#0336e4 119px,#0324e4 211px,#0320e4)"></i><i style="background:linear-gradient(90deg,#018de4,#034fe4 64px,#0334e4 121px,#0322e4 218px,#031fe4)"></i><i style="background:linear-gradient(90deg,#0289e4,#034de4 62px,#0332e4 122px,#0320e4 227px,#041fe4)"></i><i style="background:linear-gradient(90deg,#0285e4,#034be4 60px,#0330e4 123px,#041ee4)"></i><i style="background:linear-gradient(90deg,#0281e4,#034ee4 53px,#033de4 83px,#032de4 131px,#041de4)"></i><i style="background:linear-gradient(90deg,#027de4,#034fe4 48px,#0341e4 69px,#032ce4 130px,#041ce4)"></i><i style="background:linear-gradient(90deg,#0279e4,#034fe4 44px,#0340e4 67px,#032ae4 130px,#041be4)"></i><i style="background:linear-gradient(90deg,#0275e4,#034de4 42px,#033de4 66px,#0329e4 131px,#041be4)"></i><i style="background:linear-gradient(90deg,#0271e4,#034be4 40px,#033ae4 66px,#0327e4 131px,#041ae4)"></i><i style="background:linear-gradient(90deg,#026de4,#0348e4 39px,#0338e4 66px,#0326e4 132px,#0419e4)"></i><i style="background:linear-gradient(90deg,#0269e4,#0345e4 38px,#0335e4 66px,#0324e4 133px,#0418e4)"></i><i style="background:linear-gradient(90deg,#0265e4,#0343e4 37px,#0333e4 66px,#0323e4 135px,#0418e4)"></i><i style="background:linear-gradient(90deg,#0261e4,#0340e4 38px,#0331e4 67px,#0322e4 136px,#0417e4)"></i><i style="background:linear-gradient(90deg,#025de4,#033ee4 39px,#0330e4 68px,#0321e4 137px,#0417e4)"></i><i style="background:linear-gradient(90deg,#0259e4,#033ce4 39px,#032ee4 68px,#0320e4 139px,#0417e4)"></i><i style="background:linear-gradient(90deg,#0355e4,#0339e4 40px,#032ce4 70px,#0320e4 141px,#0416e4)"></i><i style="background:linear-gradient(90deg,#0352e4,#0336e4 41px,#032be4 71px,#041fe4 144px,#0416e4)"></i><i style="background:linear-gradient(90deg,#034ee4,#0334e4 42px,#0329e4 73px,#041ee4 148px,#0416e4)"></i><i style="background:linear-gradient(90deg,#034ae4,#0331e4 44px,#0327e4 78px,#041ce4 155px,#0416e4)"></i><i style="background:linear-gradient(90deg,#0346e4,#032ee4 46px,#0324e4 88px,#041ae4 185px,#0415e4)"></i><i style="background:linear-gradient(90deg,#0342e4,#032be4 49px,#041de4 133px,#0415e4)"></i><i style="background:linear-gradient(90deg,#033ee4,#0329e4 52px,#041be4 148px,#0415e4)"></i><i style="background:linear-gradient(90deg,#033be4,#0325e4 58px,#0419e4 168px,#0415e4)"></i><i style="background:linear-gradient(90deg,#0337e4,#0323e4 61px,#0417e4 193px,#0414e4)"></i><i style="background:linear-gradient(90deg,#0333e4,#0321e4 64px,#0414e4)"></i><i style="background:linear-gradient(90deg,#032fe4,#031fe4 70px,#0414e4)"></i><i style="background:linear-gradient(90deg,#032be4,#041de4 80px,#0414e4)"></i><i style="background:linear-gradient(90deg,#0328e4,#041be4 93px,#0413e4)"></i><i style="background:linear-gradient(90deg,#0324e4,#0418e4 122px,#0413e4)"></i><i style="background:linear-gradient(90deg,#0320e4,#0413e4)"></i><i style="background:linear-gradient(90deg,#041ce4,#0412e4)"></i>
</div>
<div class="t yt" style="left:22.2px;top:-0.4px">2</div>
<div class="tk" style="left:56.2px;top:5.2px;width:2px;height:1px"></div>
<div class="tk" style="left:292px;top:5.2px;width:2px;height:1px"></div>
<div class="t yt" style="left:22.2px;top:48.7795px">1.5</div>
<div class="tk" style="left:56.2px;top:54px;width:2px;height:1px"></div>
<div class="tk" style="left:292px;top:54px;width:2px;height:1px"></div>
<div class="t yt" style="left:22.2px;top:97.959px">1</div>
<div class="tk" style="left:56.2px;top:103px;width:2px;height:1px"></div>
<div class="tk" style="left:292px;top:103px;width:2px;height:1px"></div>
<div class="t yt" style="left:22.2px;top:147.138px">0.5</div>
<div class="tk" style="left:56.2px;top:152px;width:2px;height:1px"></div>
<div class="tk" style="left:292px;top:152px;width:2px;height:1px"></div>
<div class="tk" style="left:56.2px;top:5.2px;width:1px;height:2px"></div>
<div class="tk" style="left:56.2px;top:195px;width:1px;height:2px"></div>
<div class="tk" style="left:115px;top:5.2px;width:1px;height:2px"></div>
<div class="tk" style="left:115px;top:195px;width:1px;height:2px"></div>
<div class="tk" style="left:175px;top:5.2px;width:1px;height:2px"></div>
<div class="tk" style="left:175px;top:195px;width:1px;height:2px"></div>
<div class="tk" style="left:234px;top:5.2px;width:1px;height:2px"></div>
<div class="tk" style="left:234px;top:195px;width:1px;height:2px"></div>
<div class="tk" style="left:293px;top:5.2px;width:1px;height:2px"></div>
<div class="tk" style="left:293px;top:195px;width:1px;height:2px"></div>
<div class="l yl" style="left:28.1px;top:100.6px">Charging current  /  C</div>
<div class="cb" style="left:304.9px;top:5.2px;width:9.1px;height:191.8px;background:linear-gradient(0deg,#040fe4 0.00%,#00dee4 32.22%,#ecec0a 66.11%,#e80e0c 100.00%)"></div>
<div class="t ct" style="left:316.9px;top:0.2px">1</div>
<div class="tk" style="left:311.5px;top:5.2px;width:2px;height:1px"></div>
<div class="t ct" style="left:316.9px;top:39.1996px">0.8</div>
<div class="tk" style="left:311.5px;top:43.6996px;width:2px;height:1px"></div>
<div class="t ct" style="left:316.9px;top:78.1992px">0.6</div>
<div class="tk" style="left:311.5px;top:82.6992px;width:2px;height:1px"></div>
<div class="t ct" style="left:316.9px;top:117.199px">0.4</div>
<div class="tk" style="left:311.5px;top:121.699px;width:2px;height:1px"></div>
<div class="t ct" style="left:316.9px;top:156.198px">0.2</div>
<div class="tk" style="left:311.5px;top:160.698px;width:2px;height:1px"></div>
<div class="l yl cl" style="left:340px;top:101.1px">T increase during cycling  /  °C</div>
<div class="pl" style="left:364.6px;top:4.4px">b)</div>
<div class="p" style="left:424.3px;top:5.2px;width:237.6px;height:191.8px">
<i style="background:linear-gradient(90deg,#e8290c,#e8140c 21px,#e80f0c 31px,#e81f0c 51px,#e92a0c 60px,#e9450c 68px,#eb9d0b 82px,#ece80a 93px,#e8ec0d 94px,#05dedf 116px,#00dae4 117px,#026fe4 130px,#0417e4 150px,#0404e4 168px,#0404e4)"></i><i style="background:linear-gradient(90deg,#e8290c,#e8140c 21px,#e80f0c 31px,#e81f0c 51px,#e92b0c 60px,#e9460b 68px,#eb9f0b 82px,#ecea0a 93px,#e6ec0f 94px,#03dee1 116px,#00d0e4 118px,#026fe4 130px,#0417e4 150px,#0404e4 168px,#0404e4)"></i><i style="background:linear-gradient(90deg,#e8290c,#e8140c 21px,#e80f0c 31px,#e81e0c 50px,#e92b0c 60px,#e9460b 68px,#eba00b 82px,#eceb0a 93px,#d0ea24 96px,#02dee2 116px,#026ee4 130px,#0417e4 150px,#0404e4 168px,#0404e4)"></i><i style="background:linear-gradient(90deg,#e8290c,#e8130c 22px,#e80f0c 31px,#e81f0c 50px,#e92c0c 60px,#e9470b 68px,#eba10b 82px,#ebec0b 93px,#84e66a 103px,#00dee4 116px,#026de4 130px,#0416e4 150px,#0404e4 168px,#0404e4)"></i><i style="background:linear-gradient(90deg,#e8290c,#e8130c 22px,#e80f0c 31px,#e81f0c 50px,#e92c0c 60px,#e9480b 68px,#eb9b0b 81px,#ece80a 92px,#e9ec0d 93px,#00dce4 116px,#026ce4 130px,#0419e4 149px,#0404e4 167px,#0404e4)"></i><i style="background:linear-gradient(90deg,#e8290c,#e8130c 22px,#e80f0c 31px,#e81e0c 49px,#e92d0c 60px,#e9490b 68px,#eb9d0b 81px,#ecea0a 92px,#dfeb16 94px,#06dede 115px,#00dbe4 116px,#0272e4 129px,#0355e4 135px,#0416e4 150px,#0404e4 168px,#0404e4)"></i><i style="background:linear-gradient(90deg,#e8290c,#e8130c 22px,#e80f0c 31px,#e81e0c 49px,#e92d0c 60px,#e94a0b 68px,#eb9e0b 81px,#ecec0a 92px,#d2ea22 95px,#05dee0 115px,#00d9e4 116px,#0271e4 129px,#0354e4 135px,#0416e4 150px,#0404e4 168px,#0404e4)"></i><i style="background:linear-gradient(90deg,#e8290c,#e8130c 23px,#e80f0c 31px,#e81e0c 49px,#e92d0c 60px,#e94a0b 68px,#eb9f0b 81px,#ebec0b 92px,#d0ea23 95px,#03dee1 115px,#00c6e4 118px,#0269e4 130px,#0324e4 146px,#0416e4 150px,#0404e4 168px,#0404e4)"></i><i style="background:linear-gradient(90deg,#e8290c,#e8130c 23px,#e80f0c 31px,#e81e0c 49px,#e92e0c 60px,#e94b0b 68px,#eba00b 81px,#ece80a 91px,#e9ec0d 92px,#ceea25 95px,#01dee3 115px,#0195e4 124px,#0268e4 130px,#0328e4 145px,#0415e4 150px,#0404e4 168px,#0404e4)"></i><i style="background:linear-gradient(90deg,#e8290c,#e8130c 23px,#e80f0c 31px,#e81e0c 49px,#e92e0c 60px,#e94c0b 68px,#eba20b 81px,#ecea0a 91px,#dfeb16 93px,#00dde4 115px,#01a3e4 122px,#0267e4 130px,#032be4 144px,#0415e4 150px,#0404e4 168px,#0404e4)"></i><i style="background:linear-gradient(90deg,#e8290c,#e8120c 24px,#e80f0c 31px,#e81d0c 48px,#e92f0c 60px,#e94d0b 68px,#eb9c0b 80px,#eceb0a 91px,#d5eb1f 94px,#08dedd 114px,#00dce4 115px,#01a1e4 122px,#0266e4 130px,#032ee4 143px,#0415e4 150px,#0404e4 168px,#0404e4)"></i><i style="background:linear-gradient(90deg,#e8290c,#e8120c 24px,#e80f0c 31px,#e81d0c 48px,#e92f0c 60px,#e94e0b 68px,#ea960b 79px,#ebec0b 91px,#c9ea2b 95px,#06dedf 114px,#00dae4 115px,#01a0e4 122px,#0266e4 130px,#032ee4 143px,#0415e4 150px,#0404e4 168px,#0404e4)"></i><i style="background:linear-gradient(90deg,#e8290c,#e8110c 25px,#e8100c 32px,#e81e0c 48px,#e9300c 60px,#e9540b 69px,#eba50b 81px,#ece70a 90px,#e9ec0d 91px,#c7ea2c 95px,#04dee0 114px,#00cfe4 116px,#0197e4 123px,#0265e4 130px,#032de4 143px,#0414e4 150px,#0404e4 168px,#0404e4)"></i><i style="background:linear-gradient(90deg,#e8290c,#e8110c 25px,#e8100c 32px,#e81e0c 48px,#e9300c 60px,#e9550b 69px,#eba70b 81px,#ece90a 90px,#e0eb15 92px,#c5ea2e 95px,#02dee2 114px,#019de4 122px,#0264e4 130px,#0330e4 142px,#0414e4 150px,#0404e4 168px,#0404e4)"></i><i style="background:linear-gradient(90deg,#e8290c,#e8110c 26px,#e8100c 32px,#e81e0c 48px,#e9300c 60px,#e9560b 69px,#eba00b 80px,#eceb0a 90px,#cdea26 94px,#00dee4 114px,#01a3e4 121px,#0263e4 130px,#032fe4 142px,#0414e4 150px,#0404e4 168px,#0404e4)"></i><i style="background:linear-gradient(90deg,#e8290c,#e8110c 26px,#e8100c 32px,#e81e0c 48px,#e9310c 60px,#e9570b 69px,#eba20b 80px,#ecec0a 90px,#c1e932 95px,#08dedc 113px,#00dde4 114px,#01a1e4 121px,#0262e4 130px,#032ee4 142px,#0414e4 150px,#0404e4 168px,#0404e4)"></i><i style="background:linear-gradient(90deg,#e8290c,#e8100c 27px,#e8100c 32px,#e81e0c 48px,#e9310c 60px,#e9580b 69px,#eb9b0b 79px,#eaec0c 90px,#bfe933 95px,#07dede 113px,#00dbe4 114px,#01a0e4 121px,#0261e4 130px,#032ee4 142px,#0414e4 150px,#0404e4 167px,#0404e4)"></i><i style="background:linear-gradient(90deg,#e8290c,#e80f0c 28px,#e8130c 36px,#e81e0c 48px,#e9320c 60px,#e9580b 69px,#ea950b 78px,#ece80a 89px,#e8ec0d 90px,#bde935 95px,#05dee0 113px,#00d9e4 114px,#019ee4 121px,#0260e4 130px,#032de4 142px,#0413e4 150px,#0404e4 167px,#0404e4)"></i><i style="background:linear-gradient(90deg,#e8290c,#e80f0c 28px,#e8130c 36px,#e81e0c 48px,#e9320c 60px,#e9590b 69px,#ea960b 78px,#ece90a 89px,#d6eb1e 92px,#b1e940 96px,#03dee1 113px,#00cee4 115px,#019ce4 121px,#025fe4 130px,#032fe4 141px,#0413e4 150px,#0404e4 167px,#0404e4)"></i><i style="background:linear-gradient(90deg,#e8290c,#e80f0c 29px,#e81d0c 47px,#e9330c 60px,#e95a0b 69px,#ea900b 77px,#eceb0a 89px,#c4ea2f 94px,#01dee3 113px,#019be4 121px,#025ee4 130px,#032fe4 141px,#0413e4 150px,#0404e4 167px,#0404e4)"></i><i style="background:linear-gradient(90deg,#e8290c,#e80f0c 29px,#e81d0c 47px,#e9330c 60px,#e95b0b 69px,#ea910b 77px,#ebec0b 89px,#b8e93a 95px,#09dfdc 112px,#00dde4 113px,#01a0e4 120px,#025ee4 130px,#032ee4 141px,#0413e4 150px,#0404e4 167px,#0404e4)"></i><i style="background:linear-gradient(90deg,#e8290c,#e80f0c 29px,#e81d0c 47px,#e9330c 60px,#e95c0b 69px,#ea8b0b 76px,#ece60a 88px,#eaec0c 89px,#b6e93c 95px,#07dedd 112px,#00dce4 113px,#019ee4 120px,#025de4 130px,#032de4 141px,#0412e4 150px,#0404e4 166px,#0404e4)"></i><i style="background:linear-gradient(90deg,#e8290c,#e80f0c 29px,#e81d0c 47px,#e9340c 60px,#e95c0b 69px,#ea8c0b 76px,#ece80a 88px,#e8ec0e 89px,#b4e93e 95px,#05dedf 112px,#00dae4 113px,#019de4 120px,#025ce4 130px,#032ce4 141px,#0411e4 151px,#0404e4 167px,#0404e4)"></i><i style="background:linear-gradient(90deg,#e8290c,#e80e0c 30px,#e81e0c 47px,#e9340c 60px,#e95d0b 69px,#ea860b 75px,#ecea0a 88px,#d6eb1f 91px,#a8e849 96px,#04dee1 112px,#00cfe4 114px,#019be4 120px,#025be4 130px,#032be4 141px,#0411e4 151px,#0404e4 166px,#0404e4)"></i><i style="background:linear-gradient(90deg,#e8290c,#e80e0c 30px,#e81e0c 47px,#e9350c 60px,#e95e0b 69px,#ea870b 75px,#eceb0a 88px,#b0e842 95px,#02dee2 112px,#0199e4 120px,#025ae4 130px,#032ae4 141px,#0411e4 151px,#0404e4 166px,#0404e4)"></i><i style="background:linear-gradient(90deg,#e8290c,#e80e0c 30px,#e81e0c 47px,#e9350c 60px,#e95f0b 69px,#ea880b 75px,#ebec0b 88px,#aee843 95px,#0adfdb 111px,#00dee4 112px,#0198e4 120px,#0355e4 131px,#032ae4 141px,#0410e4 151px,#0405e4 165px,#0404e4)"></i><i style="background:linear-gradient(90deg,#e8290c,#e80e0c 30px,#e81e0c 47px,#e9360c 60px,#e9600b 69px,#ea890b 75px,#ece60a 87px,#eaec0c 88px,#ace845 95px,#08dedd 111px,#00dce4 112px,#0196e4 120px,#0354e4 131px,#0329e4 141px,#0410e4 151px,#0405e4 165px,#0404e4)"></i><i style="background:linear-gradient(90deg,#e8290c,#e80e0c 30px,#e81e0c 47px,#e9360c 60px,#e9600b 69px,#ea820b 74px,#ece80a 87px,#e8ec0e 88px,#aae847 95px,#06dede 111px,#00dbe4 112px,#0194e4 120px,#0353e4 131px,#0328e4 141px,#0410e4 151px,#0405e4 164px,#0404e4)"></i><i style="background:linear-gradient(90deg,#e8290c,#e80e0c 30px,#e81e0c 47px,#e9370c 60px,#ea670b 70px,#eba10b 78px,#ece90a 87px,#deeb17 89px,#9ee752 96px,#04dee0 111px,#00d9e4 112px,#0193e4 120px,#0352e4 131px,#0327e4 141px,#0410e4 151px,#0405e4 164px,#0404e4)"></i><i style="background:linear-gradient(90deg,#e8290c,#e80e0c 30px,#e81e0c 47px,#e9370c 60px,#ea680b 70px,#eba30b 78px,#eceb0a 87px,#a6e84a 95px,#02dee2 111px,#01aae4 117px,#028be4 121px,#0351e4 131px,#0326e4 141px,#0410e4 151px,#0406e4 163px,#0404e4)"></i><i style="background:linear-gradient(90deg,#e8290c,#e80e0c 30px,#e81e0c 47px,#e9370c 60px,#ea690b 70px,#eb9c0b 77px,#ecec0a 87px,#9ae755 96px,#01dee4 111px,#0190e4 120px,#0350e4 131px,#0326e4 141px,#040fe4 151px,#0406e4 163px,#0404e4)"></i><i style="background:linear-gradient(90deg,#e8290c,#e80e0c 30px,#e81e0c 47px,#e9380c 60px,#ea690b 70px,#eb9d0b 77px,#eaec0c 87px,#98e757 96px,#08dedc 110px,#00dde4 111px,#018ee4 120px,#034fe4 131px,#0327e4 140px,#040fe4 151px,#0405e4 163px,#0404e4)"></i><i style="background:linear-gradient(90deg,#e8290c,#e80e0c 30px,#e81d0c 46px,#e9380c 60px,#ea6a0b 70px,#ea960b 76px,#ece70a 86px,#e9ec0d 87px,#97e759 96px,#06dede 110px,#00dbe4 111px,#028ce4 120px,#034ee4 131px,#0326e4 140px,#040fe4 151px,#0406e4 162px,#0404e4)"></i><i style="background:linear-gradient(90deg,#e8290c,#e80e0c 30px,#e81d0c 46px,#e9390c 60px,#ea710b 71px,#ece80a 86px,#e7ec0f 87px,#95e75b 96px,#05dee0 110px,#00d9e4 111px,#028be4 120px,#034de4 131px,#0325e4 140px,#040ee4 152px,#0405e4 163px,#0404e4)"></i><i style="background:linear-gradient(90deg,#e8290c,#e80e0c 30px,#e81d0c 46px,#e9390c 60px,#ea720b 71px,#ecea0a 86px,#cbea29 90px,#88e666 97px,#03dee1 110px,#00c6e4 113px,#0289e4 120px,#0348e4 132px,#0324e4 140px,#040de4 152px,#0405e4 163px,#0404e4)"></i><i style="background:linear-gradient(90deg,#e8290c,#e80e0c 30px,#e81d0c 46px,#e93a0c 60px,#ea720b 71px,#eceb0a 86px,#91e75e 96px,#01dee3 110px,#0287e4 120px,#0347e4 132px,#0324e4 140px,#040de4 152px,#0405e4 162px,#0404e4)"></i><i style="background:linear-gradient(90deg,#e8290c,#e80e0c 30px,#e81d0c 46px,#e93a0c 60px,#ea730b 71px,#ebec0b 86px,#8fe660 96px,#09dfdc 109px,#00dde4 110px,#0286e4 120px,#0346e4 132px,#0323e4 140px,#040de4 152px,#0405e4 162px,#0404e4)"></i><i style="background:linear-gradient(90deg,#e8290c,#e80e0c 30px,#e81d0c 46px,#e93a0c 60px,#ea740b 71px,#ece50a 85px,#eaec0c 86px,#8de662 96px,#07dede 109px,#00dbe4 110px,#0284e4 120px,#0345e4 132px,#0322e4 140px,#040ce4 153px,#0405e4 163px,#0404e4)"></i><i style="background:linear-gradient(90deg,#e8290c,#e80e0c 30px,#e81d0c 46px,#e93b0c 60px,#ea750b 71px,#ece70a 85px,#e8ec0d 86px,#81e66d 97px,#05dee0 109px,#00dae4 110px,#0282e4 120px,#0340e4 133px,#0321e4 140px,#040be4 153px,#0405e4 162px,#0404e4)"></i><i style="background:linear-gradient(90deg,#e8290c,#e80e0c 30px,#e81d0c 46px,#e93b0c 60px,#ea750b 71px,#ece80a 85px,#e7ec0f 86px,#7fe66f 97px,#03dee1 109px,#00c6e4 112px,#0281e4 120px,#033fe4 133px,#0320e4 140px,#040ae4 154px,#0405e4 164px,#0404e4)"></i><i style="background:linear-gradient(90deg,#e8290c,#e80e0c 30px,#e81e0c 46px,#e93c0c 60px,#ea760b 71px,#ecea0a 85px,#c9ea2a 89px,#73e57a 98px,#01dee3 109px,#027fe4 120px,#033ae4 134px,#041fe4 140px,#0409e4 155px,#0404e4 168px,#0404e4)"></i><i style="background:linear-gradient(90deg,#e8290c,#e80e0c 30px,#e81e0c 46px,#e93c0c 60px,#ea770b 71px,#eceb0a 85px,#7be572 97px,#00dde4 109px,#027de4 120px,#0334e4 135px,#041ee4 140px,#0407e4 156px,#0404e4 181px,#0404e4)"></i><i style="background:linear-gradient(90deg,#e8290c,#e80e0c 30px,#e81e0c 46px,#e93d0c 60px,#ea780b 71px,#ebec0a 85px,#79e574 97px,#07dede 108px,#00dbe4 109px,#027ce4 120px,#032fe4 136px,#041de4 140px,#0406e4 157px,#0404e4)"></i><i style="background:linear-gradient(90deg,#e8290c,#e80e0c 30px,#e81e0c 46px,#e93d0c 60px,#ea800b 72px,#eaec0c 85px,#6de47f 98px,#05dedf 108px,#00dae4 109px,#027ae4 120px,#0325e4 138px,#041be4 141px,#0405e4 158px,#0404e4)"></i><i style="background:linear-gradient(90deg,#e8290c,#e80e0c 30px,#e81e0c 46px,#e93d0c 60px,#ea810b 72px,#ece60a 84px,#e8ec0d 85px,#6be481 98px,#03dee1 108px,#00cfe4 110px,#0278e4 120px,#0320e4 139px,#0417e4 143px,#0405e4 159px,#0404e4)"></i><i style="background:linear-gradient(90deg,#e8290c,#e80e0c 30px,#e81e0c 46px,#e93e0c 60px,#ea810b 72px,#ece80a 84px,#e7ec0f 85px,#69e483 98px,#01dee3 108px,#0277e4 120px,#041be4 140px,#0405e4 159px,#0404e4)"></i><i style="background:linear-gradient(90deg,#e8290c,#e80e0c 30px,#e81e0c 46px,#e93e0c 60px,#ea820b 72px,#ece90a 84px,#dceb19 86px,#5de38e 99px,#00dde4 108px,#0275e4 120px,#041ae4 140px,#0404e4 159px,#0404e4)"></i><i style="background:linear-gradient(90deg,#e8290c,#e80e0c 30px,#e81e0c 46px,#e93f0c 60px,#ea830b 72px,#ecea0a 84px,#65e486 98px,#07dedd 107px,#00dbe4 108px,#0274e4 120px,#0419e4 140px,#0404e4 159px,#0404e4)"></i><i style="background:linear-gradient(90deg,#e8290c,#e80e0c 30px,#e81e0c 46px,#e93f0c 60px,#ea840b 72px,#ecec0a 84px,#59e392 99px,#05dedf 107px,#00dae4 108px,#0272e4 120px,#0418e4 140px,#0404e4 159px,#0404e4)"></i><i style="background:linear-gradient(90deg,#e8290c,#e80e0c 30px,#e81f0c 46px,#e9400c 60px,#ea850b 72px,#eaec0c 84px,#57e394 99px,#03dee1 107px,#00cfe4 109px,#0270e4 120px,#0417e4 140px,#0404e4 159px,#0404e4)"></i><i style="background:linear-gradient(90deg,#e8290c,#e80e0c 30px,#e81f0c 46px,#e9410c 60px,#ea880b 72px,#ece70a 83px,#e8ec0e 84px,#54e396 99px,#01dee3 107px,#026fe4 120px,#0417e4 140px,#0404e4 159px,#0404e4)"></i><i style="background:linear-gradient(90deg,#e8290c,#e80f0c 30px,#e8200c 46px,#e9430c 60px,#ea8a0b 72px,#ecea0a 83px,#d2ea22 86px,#52e399 99px,#00dce4 107px,#026ee4 120px,#0417e4 140px,#0404e4 159px,#0404e4)"></i><i style="background:linear-gradient(90deg,#e8290c,#e80f0c 30px,#e8200c 46px,#e9440c 60px,#ea8c0b 72px,#ecec0a 83px,#4fe39b 99px,#06dede 106px,#00dae4 107px,#026de4 120px,#0417e4 140px,#0404e4 159px,#0404e4)"></i><i style="background:linear-gradient(90deg,#e8290c,#e80f0c 30px,#e8210c 46px,#e9450c 60px,#ea8f0b 72px,#ece60a 82px,#e9ec0d 83px,#4ce39d 99px,#04dee0 106px,#00cfe4 108px,#026ce4 120px,#0416e4 140px,#0404e4 159px,#0404e4)"></i><i style="background:linear-gradient(90deg,#e8290c,#e80f0c 30px,#e8210c 46px,#e9470b 60px,#ea910b 72px,#ece80a 82px,#ddeb18 84px,#40e2a9 100px,#02dee3 106px,#026be4 120px,#0416e4 140px,#0404e4 159px,#0404e4)"></i><i style="background:linear-gradient(90deg,#e8290c,#e8100c 30px,#e8220c 46px,#e9480b 60px,#ea940b 72px,#eceb0a 82px,#47e2a2 99px,#00dde4 106px,#026ae4 120px,#0419e4 139px,#0411e4 144px,#0404e4 160px,#0404e4)"></i><i style="background:linear-gradient(90deg,#e82a0c,#e8100c 30px,#e8230c 46px,#e94a0b 60px,#ea960b 72px,#ebec0b 82px,#45e2a4 99px,#07dede 105px,#00dbe4 106px,#0268e4 120px,#0325e4 136px,#0415e4 140px,#0404e4 160px,#0404e4)"></i><i style="background:linear-gradient(90deg,#e92a0c,#e8100c 30px,#e8230c 46px,#e94b0b 60px,#ea990b 72px,#ece70a 81px,#e8ec0e 82px,#38e1b0 100px,#05dee0 105px,#00d9e4 106px,#0267e4 120px,#032ce4 134px,#0415e4 140px,#0404e4 160px,#0404e4)"></i><i style="background:linear-gradient(90deg,#e92a0c,#e8100c 30px,#e8240c 46px,#e94c0b 60px,#eb9b0b 72px,#ecea0a 81px,#d3ea21 84px,#2be1bc 101px,#02dee2 105px,#0266e4 120px,#032fe4 133px,#0415e4 140px,#0404e4 160px,#0404e4)"></i><i style="background:linear-gradient(90deg,#e92a0c,#e8100c 30px,#e8240c 46px,#e94e0b 60px,#eb9d0b 72px,#ecec0a 81px,#33e1b5 100px,#00dee4 105px,#01abe4 111px,#0265e4 120px,#0332e4 132px,#0415e4 140px,#0404e4 160px,#0404e4)"></i><i style="background:linear-gradient(90deg,#e92a0c,#e8110c 30px,#e8250c 46px,#e94f0b 60px,#eba00b 72px,#ece60a 80px,#e9ec0c 81px,#30e1b7 100px,#07dedd 104px,#00dbe4 105px,#01b1e4 110px,#0264e4 120px,#0335e4 131px,#0414e4 140px,#0404e4 160px,#0404e4)"></i><i style="background:linear-gradient(90deg,#e92a0c,#e8110c 30px,#e8250c 46px,#e94c0b 59px,#eba20b 72px,#ece80a 80px,#e7ec0f 81px,#2ee1ba 100px,#05dedf 104px,#00d9e4 105px,#01afe4 110px,#0263e4 120px,#0338e4 130px,#0414e4 140px,#0404e4 160px,#0404e4)"></i><i style="background:linear-gradient(90deg,#e92a0c,#e8110c 30px,#e8260c 46px,#e94d0b 59px,#eba50b 72px,#eceb0a 80px,#71e57c 93px,#02dee2 104px,#01bce4 108px,#0262e4 120px,#0337e4 130px,#0414e4 140px,#0404e4 160px,#0404e4)"></i><i style="background:linear-gradient(90deg,#e92b0c,#e8110c 30px,#e8260c 46px,#e94e0b 59px,#eba70b 72px,#ebec0b 80px,#29e0be 100px,#00dee4 104px,#01b2e4 109px,#0260e4 120px,#0336e4 130px,#0414e4 140px,#0404e4 160px,#0404e4)"></i><i style="background:linear-gradient(90deg,#e92b0c,#e8110c 30px,#e8270c 46px,#e9500b 59px,#ebaa0b 72px,#ece70a 79px,#e8ec0e 80px,#1ce0ca 101px,#00dce4 104px,#01b0e4 109px,#025fe4 120px,#0335e4 130px,#0413e4 140px,#0404e4 160px,#0404e4)"></i><i style="background:linear-gradient(90deg,#e92b0c,#e8120c 30px,#e8280c 46px,#e94a0b 57px,#e9560b 60px,#ebac0b 72px,#ece90a 79px,#d3eb21 82px,#0fdfd6 102px,#05dedf 103px,#00d9e4 104px,#01aee4 109px,#025ee4 120px,#0338e4 129px,#0413e4 140px,#0404e4 160px,#0404e4)"></i><i style="background:linear-gradient(90deg,#e92b0c,#e8120c 30px,#e8280c 46px,#e9440c 55px,#e9580b 60px,#ebae0b 72px,#ecec0a 79px,#17dfcf 101px,#03dee1 103px,#00c5e4 106px,#0196e4 112px,#025de4 120px,#0337e4 129px,#0413e4 140px,#0404e4 159px,#0404e4)"></i><i style="background:linear-gradient(90deg,#e92b0c,#e8120c 30px,#e8290c 46px,#e9420c 54px,#e9590b 60px,#ebba0a 73px,#ece50a 78px,#eaec0c 79px,#14dfd1 101px,#00dee4 103px,#01b1e4 108px,#025ce4 120px,#0335e4 129px,#0412e4 140px,#0404e4 159px,#0404e4)"></i><i style="background:linear-gradient(90deg,#e92b0c,#e8120c 30px,#e8290c 46px,#e93f0c 53px,#e95a0b 60px,#ebbc0a 73px,#ece80a 78px,#e7ec0f 79px,#12dfd4 101px,#00dce4 103px,#01afe4 108px,#025be4 120px,#0334e4 129px,#0412e4 140px,#0404e4 159px,#0404e4)"></i><i style="background:linear-gradient(90deg,#e92b0c,#e8120c 30px,#e92a0c 46px,#e9400c 53px,#e95c0b 60px,#ebbe0a 73px,#ecea0a 78px,#7be572 90px,#05dedf 102px,#00dae4 103px,#01ade4 108px,#025ae4 120px,#0333e4 129px,#0411e4 141px,#0404e4 160px,#0404e4)"></i><i style="background:linear-gradient(90deg,#e92c0c,#e8150c 27px,#e8140c 31px,#e92a0c 46px,#e93d0c 52px,#e95d0b 60px,#ebc10a 73px,#ebec0b 78px,#03dee1 102px,#00c5e4 105px,#01a4e4 109px,#0258e4 120px,#0332e4 129px,#0411e4 141px,#0404e4 159px,#0404e4)"></i><i style="background:linear-gradient(90deg,#e92c0c,#e8160c 26px,#e8140c 31px,#e92b0c 46px,#e93e0c 52px,#e95f0b 60px,#ebc30a 73px,#ece60a 77px,#e9ec0d 78px,#00dee4 102px,#01a8e4 108px,#0257e4 120px,#0334e4 128px,#0410e4 141px,#0404e4 159px,#0404e4)"></i><i style="background:linear-gradient(90deg,#e92c0c,#e8170c 25px,#e8130c 30px,#e92c0c 46px,#e93f0c 52px,#e9600b 60px,#ebc60a 73px,#ece90a 77px,#ddeb18 79px,#00dce4 102px,#01a6e4 108px,#0256e4 120px,#0333e4 128px,#0410e4 141px,#0404e4 159px,#0404e4)"></i><i style="background:linear-gradient(90deg,#e92c0c,#e8180c 25px,#e8130c 30px,#e92c0c 46px,#e9400c 52px,#ea610b 60px,#ecd10a 74px,#eceb0a 77px,#2de1ba 97px,#05dedf 101px,#00dae4 102px,#01a4e4 108px,#0350e4 121px,#0332e4 128px,#0410e4 141px,#0404e4 158px,#0404e4)"></i><i style="background:linear-gradient(90deg,#e92c0c,#e8190c 24px,#e8140c 30px,#e92d0c 46px,#e93c0c 51px,#ea630b 60px,#ecd30a 74px,#eaec0c 77px,#03dee2 101px,#00c5e4 104px,#01a2e4 108px,#034fe4 121px,#0331e4 128px,#0410e4 141px,#0404e4 158px,#0404e4)"></i><i style="background:linear-gradient(90deg,#e92c0c,#e81a0c 23px,#e8140c 30px,#e92d0c 46px,#e93d0c 51px,#ea640b 60px,#ecdf0a 75px,#ece70a 76px,#e7ec0e 77px,#00dee4 101px,#01a0e4 108px,#034ee4 121px,#0330e4 128px,#040fe4 141px,#0404e4 158px,#0404e4)"></i><i style="background:linear-gradient(90deg,#e92c0c,#e81a0c 23px,#e8140c 30px,#e92e0c 46px,#e93e0c 51px,#ea660b 60px,#ece10a 75px,#ecea0a 76px,#a3e84d 84px,#08dedd 100px,#00dce4 101px,#019ee4 108px,#034de4 121px,#032fe4 128px,#040fe4 141px,#0404e4 157px,#0404e4)"></i><i style="background:linear-gradient(90deg,#e92c0c,#e81c0c 22px,#e8140c 30px,#e92e0c 46px,#e93f0c 51px,#ea670b 60px,#ecec0a 76px,#05dedf 100px,#00d9e4 101px,#019be4 108px,#034ce4 121px,#032ee4 128px,#040fe4 141px,#0405e4 156px,#0404e4)"></i><i style="background:linear-gradient(90deg,#e92d0c,#e81c0c 22px,#e8140c 30px,#e92f0c 46px,#e93f0c 51px,#ea680b 60px,#ece60a 75px,#e9ec0d 76px,#02dee2 100px,#01b3e4 105px,#0199e4 108px,#034be4 121px,#032de4 128px,#040ee4 141px,#0405e4 155px,#0404e4)"></i><i style="background:linear-gradient(90deg,#e92d0c,#e81c0c 22px,#e8150c 30px,#e92f0c 46px,#e9400c 51px,#ea6a0b 60px,#ece80a 75px,#ddeb18 77px,#00dee4 100px,#0197e4 108px,#034ae4 121px,#032ce4 128px,#040ee4 141px,#0406e4 154px,#0404e4)"></i><i style="background:linear-gradient(90deg,#e92d0c,#e81d0c 21px,#e8150c 30px,#e9300c 46px,#e93c0c 50px,#ea6b0b 60px,#eceb0a 75px,#41e2a8 93px,#07dedd 99px,#00dce4 100px,#0195e4 108px,#0348e4 121px,#032ae4 128px,#040ee4 141px,#0405e4 154px,#0404e4)"></i><i style="background:linear-gradient(90deg,#e92d0c,#e81e0c 21px,#e8150c 30px,#e9310c 46px,#e93d0c 50px,#ea6d0b 60px,#ebec0b 75px,#05dee0 99px,#00d9e4 100px,#0193e4 108px,#0347e4 121px,#0329e4 128px,#040de4 142px,#0404e4 157px,#0404e4)"></i><i style="background:linear-gradient(90deg,#e92d0c,#e81e0c 21px,#e8150c 30px,#e9310c 46px,#e93e0c 50px,#ea6e0b 60px,#ece70a 74px,#e8ec0e 75px,#02dee2 99px,#0191e4 108px,#0346e4 121px,#0328e4 128px,#040ce4 142px,#0404e4 157px,#0404e4)"></i><i style="background:linear-gradient(90deg,#e92d0c,#e81e0c 21px,#e8150c 30px,#e9320c 46px,#e93f0c 50px,#ea6f0b 60px,#ece90a 74px,#d3ea21 77px,#00dde4 99px,#018fe4 108px,#0345e4 121px,#0327e4 128px,#040ce4 142px,#0405e4 155px,#0404e4)"></i><i style="background:linear-gradient(90deg,#e92d0c,#e81f0c 20px,#e8160c 30px,#e9320c 46px,#e93f0c 50px,#ea710b 60px,#ecec0a 74px,#07dede 98px,#00dbe4 99px,#018ce4 108px,#0344e4 121px,#0326e4 128px,#040ce4 142px,#0405e4 155px,#0404e4)"></i><i style="background:linear-gradient(90deg,#e92e0c,#e8200c 20px,#e8160c 30px,#e9330c 46px,#e9400c 50px,#ea720b 60px,#ece50a 73px,#eaec0c 74px,#04dee0 98px,#00d9e4 99px,#028ae4 108px,#033ee4 122px,#0325e4 128px,#040be4 142px,#0405e4 154px,#0404e4)"></i><i style="background:linear-gradient(90deg,#e92e0c,#e8200c 20px,#e8160c 30px,#e9330c 46px,#e9410c 50px,#ea740b 60px,#ece80a 73px,#e7ec0f 74px,#01dee3 98px,#0288e4 108px,#033de4 122px,#0324e4 128px,#040ae4 143px,#0404e4 160px,#0404e4)"></i><i style="background:linear-gradient(90deg,#e92e0c,#e8200c 20px,#e8160c 30px,#e9340c 46px,#e9410c 50px,#ea750b 60px,#ecea0a 73px,#4ce39e 90px,#00dde4 98px,#0286e4 108px,#033ce4 122px,#0323e4 128px,#040ae4 143px,#0404e4 160px,#0404e4)"></i><i style="background:linear-gradient(90deg,#e92e0c,#e8200c 20px,#e8160c 30px,#e9350c 46px,#e9420c 50px,#ea760b 60px,#ebec0b 73px,#06dedf 97px,#00dae4 98px,#0284e4 108px,#0336e4 123px,#0322e4 128px,#040ae4 143px,#0404e4 159px,#0404e4)"></i><i style="background:linear-gradient(90deg,#e92e0c,#e8220c 19px,#e8170c 30px,#e9350c 46px,#e9430c 50px,#ea780b 60px,#ece60a 72px,#e9ec0d 73px,#03dee1 97px,#00cfe4 99px,#0282e4 108px,#0335e4 123px,#0321e4 128px,#0408e4 144px,#0404e4 170px,#0404e4)"></i><i style="background:linear-gradient(90deg,#e92e0c,#e8220c 19px,#e8170c 30px,#e9360c 46px,#e9430c 50px,#ea790b 60px,#ece90a 72px,#ddeb18 74px,#01dee3 97px,#027fe4 108px,#0330e4 124px,#0320e4 128px,#0407e4 145px,#0404e4 186px,#0404e4)"></i><i style="background:linear-gradient(90deg,#e92e0c,#e8220c 19px,#e8170c 30px,#e9390c 47px,#e9440c 50px,#ea7b0b 60px,#eceb0a 72px,#00dce4 97px,#0284e4 107px,#0333e4 123px,#041ee4 128px,#0407e4 145px,#0404e4 197px,#0404e4)"></i><i style="background:linear-gradient(90deg,#e92f0c,#e8230c 19px,#e8170c 30px,#e93a0c 47px,#e9450c 50px,#ea7c0b 60px,#ece50a 71px,#eaec0b 72px,#05dee0 96px,#00dae4 97px,#0282e4 107px,#032de4 124px,#041de4 128px,#0406e4 146px,#0404e4)"></i><i style="background:linear-gradient(90deg,#e92f0c,#e8230c 19px,#e8170c 30px,#e93a0c 47px,#e9450c 50px,#ea7d0b 60px,#ece70a 71px,#e8ec0e 72px,#02dee2 96px,#019ae4 104px,#0279e4 108px,#041fe4 127px,#0405e4 146px,#0404e4)"></i><i style="background:linear-gradient(90deg,#e92f0c,#e8230c 19px,#e8180c 30px,#e93b0c 47px,#e9460b 50px,#ea7f0b 60px,#ecea0a 71px,#d2ea22 74px,#00dee4 96px,#027de4 107px,#0322e4 126px,#041ae4 129px,#0405e4 147px,#0404e4)"></i><i style="background:linear-gradient(90deg,#e92f0c,#e8230c 19px,#e8180c 30px,#e93b0c 47px,#e9470b 50px,#ea800b 60px,#ecec0a 71px,#06dede 95px,#00dbe4 96px,#027be4 107px,#041ce4 127px,#0405e4 146px,#0404e4)"></i><i style="background:linear-gradient(90deg,#e92f0c,#e8250c 18px,#e8180c 30px,#e93c0c 47px,#e9470b 50px,#ea820b 60px,#ece50a 70px,#e9ec0c 71px,#04dee1 95px,#00d0e4 97px,#0279e4 107px,#041be4 127px,#0404e4 147px,#0404e4)"></i><i style="background:linear-gradient(90deg,#e92f0c,#e8250c 18px,#e8180c 30px,#e93d0c 47px,#e9480b 50px,#ea830b 60px,#ece80a 70px,#e7ec0f 71px,#01dee3 95px,#0277e4 107px,#041ae4 127px,#0404e4 147px,#0404e4)"></i><i style="background:linear-gradient(90deg,#e92f0c,#e8250c 18px,#e8190c 30px,#e93e0c 47px,#e9490b 50px,#ea850b 60px,#ecea0a 70px,#12dfd4 93px,#00dce4 95px,#0274e4 107px,#0419e4 127px,#0404e4 147px,#0404e4)"></i><i style="background:linear-gradient(90deg,#e92f0c,#e8250c 19px,#e81a0c 30px,#e9410c 47px,#e94d0b 50px,#ea8a0b 60px,#ece50a 69px,#e9ec0d 70px,#03dee1 94px,#00d0e4 96px,#0272e4 107px,#0419e4 127px,#0404e4 147px,#0404e4)"></i><i style="background:linear-gradient(90deg,#e92f0c,#e8250c 19px,#e81b0c 30px,#e9410c 46px,#e9510b 50px,#ea8f0b 60px,#ece90a 69px,#dbeb1a 71px,#00dde4 94px,#0270e4 107px,#0418e4 127px,#0404e4 147px,#0404e4)"></i><i style="background:linear-gradient(90deg,#e92f0c,#e8260c 19px,#e81d0c 30px,#e9440c 46px,#e9540b 50px,#ea940b 60px,#eaec0c 69px,#04dee0 93px,#00d9e4 94px,#026ee4 107px,#0418e4 127px,#0404e4 147px,#0404e4)"></i><i style="background:linear-gradient(90deg,#e92f0c,#e8270c 19px,#e81e0c 30px,#e9470b 46px,#e9580b 50px,#ea980b 60px,#ece80a 68px,#e6ec10 69px,#09dfdc 92px,#00dee4 93px,#026ce4 107px,#0417e4 127px,#0404e4 147px,#0404e4)"></i><i style="background:linear-gradient(90deg,#e92f0c,#e8270c 20px,#e81f0c 30px,#e94a0b 46px,#e95c0b 50px,#eb9d0b 60px,#ebec0b 68px,#20e0c7 89px,#04dee0 92px,#00d9e4 93px,#0269e4 107px,#0417e4 127px,#0404e4 148px,#0404e4)"></i><i style="background:linear-gradient(90deg,#e92f0c,#e8270c 20px,#e8210c 30px,#e94e0b 46px,#e9600b 50px,#eba20b 60px,#ece70a 67px,#e7ec0f 68px,#2ee1ba 87px,#00dee4 92px,#0267e4 107px,#0416e4 127px,#0404e4 148px,#0404e4)"></i><i style="background:linear-gradient(90deg,#e92f0c,#e8270c 21px,#e8220c 30px,#e9510b 46px,#ea630b 50px,#eba70b 60px,#ecec0a 67px,#3ce2ad 85px,#04dee0 91px,#00d1e4 93px,#0265e4 107px,#0416e4 127px,#0404e4 148px,#0404e4)"></i><i style="background:linear-gradient(90deg,#e92f0c,#e8270c 22px,#e8230c 30px,#e9540b 46px,#ea670b 50px,#ebac0b 60px,#ece70a 66px,#e7ec0e 67px,#40e2a9 84px,#00dde4 91px,#0279e4 104px,#025de4 108px,#0414e4 128px,#0404e4 148px,#0404e4)"></i><i style="background:linear-gradient(90deg,#e92f0c,#e8280c 23px,#e8250c 30px,#e9570b 46px,#ea6b0b 50px,#ebb10b 60px,#eceb0a 66px,#3be1ae 84px,#03dee1 90px,#00d1e4 92px,#0260e4 107px,#0415e4 127px,#0404e4 148px,#0404e4)"></i><i style="background:linear-gradient(90deg,#e92f0c,#e8280c 24px,#e8260c 30px,#e95a0b 46px,#ea6f0b 50px,#ebb60a 60px,#ece60a 65px,#e8ec0e 66px,#3fe2aa 83px,#00dce4 90px,#0198e4 99px,#0259e4 108px,#0413e4 128px,#0404e4 148px,#0404e4)"></i><i style="background:linear-gradient(90deg,#e92f0c,#e8280c 26px,#e8270c 30px,#e95d0b 46px,#ea720b 50px,#ebba0a 60px,#eceb0a 65px,#3ae1ae 83px,#02dee2 89px,#01a9e4 96px,#0257e4 108px,#0413e4 128px,#0404e4 148px,#0404e4)"></i><i style="background:linear-gradient(90deg,#e92f0c,#e8280c 28px,#e8280c 30px,#e9610b 46px,#ea760b 50px,#ebbf0a 60px,#ece60a 64px,#e8ec0d 65px,#35e1b3 83px,#07dede 88px,#00dce4 89px,#0198e4 98px,#0355e4 108px,#0412e4 128px,#0404e4 148px,#0404e4)"></i><i style="background:linear-gradient(90deg,#e92f0c,#e92a0c 30px,#ea640b 46px,#ea7a0b 50px,#ebc40a 60px,#ecea0a 64px,#30e1b8 83px,#02dee2 88px,#0194e4 98px,#0353e4 108px,#0412e4 128px,#0404e4 148px,#0404e4)"></i><i style="background:linear-gradient(90deg,#e92f0c,#e92b0c 30px,#ea670b 46px,#ea7d0b 50px,#ebc90a 60px,#ece60a 63px,#e9ec0d 64px,#34e1b4 82px,#06dedf 87px,#00dbe4 88px,#0197e4 97px,#0351e4 108px,#0411e4 128px,#0404e4 149px,#0404e4)"></i><i style="background:linear-gradient(90deg,#e92f0c,#e92c0c 30px,#ea6a0b 46px,#ea810b 50px,#ebce0a 60px,#ecea0a 63px,#26e0c1 83px,#01dee3 87px,#0193e4 97px,#034fe4 108px,#0411e4 128px,#0404e4 149px,#0404e4)"></i><i style="background:linear-gradient(90deg,#e92f0c,#e92e0c 30px,#ea6d0b 46px,#ea850b 50px,#ecd30a 60px,#ece60a 62px,#e9ec0d 63px,#2ae0be 82px,#05dedf 86px,#00dae4 87px,#0196e4 96px,#034ce4 108px,#0411e4 128px,#0404e4 149px,#0404e4)"></i><i style="background:linear-gradient(90deg,#e92f0c,#e92f0c 30px,#ea700b 46px,#ea890b 50px,#ece10a 61px,#ecea0a 62px,#60e48b 76px,#1be0cb 83px,#00dee4 86px,#0198e4 95px,#034ae4 108px,#0410e4 128px,#0404e4 149px,#0404e4)"></i><i style="background:linear-gradient(90deg,#e92f0c,#e9300c 30px,#ea740b 46px,#ea8c0b 50px,#ece60a 61px,#e9ec0d 62px,#3ce2ac 79px,#04dee0 85px,#00d9e4 86px,#019ce4 94px,#0348e4 108px,#0410e4 128px,#0404e4 149px,#0404e4)"></i><i style="background:linear-gradient(90deg,#e92f0c,#e9320c 30px,#ea770b 46px,#ea900b 50px,#eceb0a 61px,#6be481 74px,#1ae0cc 82px,#00dde4 85px,#01a6e4 92px,#027fe4 98px,#0346e4 108px,#0410e4 128px,#0404e4 149px,#0404e4)"></i><i style="background:linear-gradient(90deg,#e92f0c,#e9330c 30px,#ea7a0b 46px,#ea940b 50px,#ece60a 60px,#e8ec0d 61px,#5ce38f 75px,#15dfd1 82px,#03dee1 84px,#00d0e4 86px,#019be4 93px,#0270e4 100px,#0344e4 108px,#040fe4 128px,#0404e4 149px,#0404e4)"></i><i style="background:linear-gradient(90deg,#e92f0c,#e9340c 30px,#ea7d0b 46px,#ea980b 50px,#eceb0a 60px,#62e48a 74px,#10dfd5 82px,#00dce4 84px,#01a4e4 91px,#027de4 97px,#0342e4 108px,#040fe4 128px,#0404e4 150px,#0404e4)"></i><i style="background:linear-gradient(90deg,#e92f0c,#e9360c 30px,#ea800b 46px,#eb9b0b 50px,#ece70a 59px,#e8ec0e 60px,#5de48e 74px,#0bdfda 82px,#02dee2 83px,#0199e4 92px,#0279e4 97px,#0340e4 108px,#040ee4 128px,#0404e4 150px,#0404e4)"></i><i style="background:linear-gradient(90deg,#e92f0c,#e9370c 30px,#ea830b 46px,#eb9f0b 50px,#ecec0a 59px,#63e489 73px,#0edfd7 81px,#00dbe4 83px,#019ce4 91px,#0276e4 97px,#033ee4 108px,#040ee4 128px,#0404e4 150px,#0404e4)"></i><i style="background:linear-gradient(90deg,#e92f0c,#e9380c 30px,#ea870b 46px,#eba30b 50px,#ece80a 58px,#e7ec0f 59px,#5ee48d 73px,#09dfdc 81px,#00dee4 82px,#0197e4 91px,#0272e4 97px,#033ce4 108px,#040ee4 128px,#0404e4 150px,#0404e4)"></i><i style="background:linear-gradient(90deg,#e92f0c,#e93a0c 30px,#ea8a0b 46px,#eba70b 50px,#ebec0b 58px,#59e392 73px,#04dee0 81px,#00d1e4 83px,#0193e4 91px,#0273e4 96px,#0339e4 108px,#040de4 128px,#0404e4 150px,#0404e4)"></i><i style="background:linear-gradient(90deg,#e92f0c,#e93b0c 30px,#ea860b 45px,#ebaa0b 50px,#ece80a 57px,#ddeb18 59px,#5fe48c 72px,#00dde4 81px,#0195e4 90px,#026fe4 96px,#0337e4 108px,#040de4 128px,#0404e4 151px,#0404e4)"></i><i style="background:linear-gradient(90deg,#e92f0c,#e93b0c 29px,#e9410c 31px,#ea890b 45px,#ebae0b 50px,#ebec0b 57px,#5ae391 72px,#03dee1 80px,#00d0e4 82px,#0191e4 90px,#026ce4 96px,#0335e4 108px,#040ce4 128px,#0404e4 151px,#0404e4)"></i><i style="background:linear-gradient(90deg,#e92f0c,#e93c0c 29px,#e9430c 31px,#ea8c0b 45px,#ebb20b 50px,#ece90a 56px,#dceb18 58px,#55e395 72px,#00dce4 80px,#018ce4 90px,#0268e4 96px,#0333e4 108px,#040ce4 128px,#0404e4 151px,#0404e4)"></i><i style="background:linear-gradient(90deg,#e92f0c,#e93d0c 29px,#e9440c 31px,#ea8f0b 45px,#ebb60a 50px,#ebec0b 56px,#51e399 72px,#04dee0 79px,#00d8e4 80px,#0288e4 90px,#0264e4 96px,#0331e4 108px,#040ce4 128px,#0404e4 152px,#0404e4)"></i><i style="background:linear-gradient(90deg,#e92f0c,#e93e0c 28px,#e9400c 30px,#ea920b 45px,#ebb90a 50px,#ece80a 55px,#e6ec0f 56px,#4ce39e 72px,#00dde4 79px,#01bae4 83px,#0283e4 90px,#0260e4 96px,#032fe4 108px,#040be4 128px,#0404e4 152px,#0404e4)"></i><i style="background:linear-gradient(90deg,#e92f0c,#e93d0c 25px,#e9410c 30px,#ea950b 45px,#ebbd0a 50px,#ecec0a 55px,#65e487 69px,#31e1b7 74px,#05dedf 78px,#00d8e4 79px,#01b5e4 83px,#027fe4 90px,#025ce4 96px,#032de4 108px,#040be4 128px,#0404e4 153px,#0404e4)"></i><i style="background:linear-gradient(90deg,#e92f0c,#e93d0c 24px,#e9430c 30px,#ea990b 45px,#ebc10a 50px,#ece70a 54px,#e7ec0f 55px,#86e669 65px,#42e2a7 72px,#00dee4 78px,#01b8e4 82px,#027ae4 90px,#0258e4 96px,#0328e4 109px,#040ae4 129px,#0404e4 154px,#0404e4)"></i><i style="background:linear-gradient(90deg,#e92f0c,#e93d0c 23px,#e9440c 30px,#eb9c0b 45px,#ebc50a 50px,#eceb0a 54px,#8ae664 64px,#3ee2ab 72px,#06dedf 77px,#00d9e4 78px,#01b3e4 82px,#0276e4 90px,#0354e4 96px,#0326e4 109px,#040ae4 129px,#0404e4 154px,#0404e4)"></i><i style="background:linear-gradient(90deg,#e92f0c,#e93d0c 22px,#e9450c 30px,#eb9f0b 45px,#ebc80a 50px,#ece60a 53px,#e8ec0e 54px,#98e758 62px,#39e1af 72px,#01dee3 77px,#01afe4 82px,#0272e4 90px,#0351e4 96px,#0324e4 109px,#0409e4 129px,#0404e4 155px,#0404e4)"></i><i style="background:linear-gradient(90deg,#e92f0c,#e93d0c 21px,#e9470b 30px,#eba20b 45px,#ebcc0a 50px,#ecea0a 53px,#89e665 63px,#34e1b4 72px,#07dedd 76px,#00dae4 77px,#01b2e4 81px,#026de4 90px,#034de4 96px,#0322e4 109px,#0409e4 129px,#0404e4 156px,#0404e4)"></i><i style="background:linear-gradient(90deg,#e92f0c,#e93d0c 20px,#e9480b 30px,#eba50b 45px,#ebd00a 50px,#eaec0c 53px,#97e759 61px,#2fe1b8 72px,#02dee2 76px,#01a5e4 82px,#0269e4 90px,#0349e4 96px,#0320e4 109px,#0409e4 129px,#0404e4 158px,#0404e4)"></i><i style="background:linear-gradient(90deg,#e92f0c,#e93d0c 20px,#e9490b 30px,#eba80b 45px,#ecd40a 50px,#ece80a 52px,#e5ec10 53px,#91e75e 61px,#36e1b2 71px,#09dfdc 75px,#00dbe4 76px,#01a8e4 81px,#0264e4 90px,#0345e4 96px,#041ee4 109px,#0408e4 129px,#0404e4 160px,#0404e4)"></i><i style="background:linear-gradient(90deg,#e92f0c,#e93d0c 19px,#e94b0b 30px,#ebab0b 45px,#ecd70a 50px,#ecec0a 52px,#95e75a 60px,#31e1b6 71px,#04dee1 75px,#00cce4 77px,#01a3e4 81px,#0260e4 90px,#0341e4 96px,#041ae4 110px,#0408e4 130px,#0404e4 164px,#0404e4)"></i><i style="background:linear-gradient(90deg,#e92f0c,#e93d0c 19px,#e94c0b 30px,#ebae0b 45px,#ecdb0a 50px,#ece60a 51px,#e8ec0e 52px,#90e75f 60px,#2de1bb 71px,#00dde4 75px,#019fe4 81px,#025be4 90px,#033de4 96px,#0418e4 110px,#0407e4 130px,#0404e4 168px,#0404e4)"></i><i style="background:linear-gradient(90deg,#e92f0c,#e93e0c 19px,#e94d0b 30px,#ebb10b 45px,#ecdf0a 50px,#ece90a 51px,#cdea26 54px,#8be663 60px,#28e0bf 71px,#05dedf 74px,#00d8e4 75px,#019ae4 81px,#0257e4 90px,#0339e4 96px,#0416e4 110px,#0407e4 131px,#0404e4 179px,#0404e4)"></i><i style="background:linear-gradient(90deg,#e92f0c,#e93d0c 18px,#e94f0b 30px,#ebb40b 45px,#ebec0b 51px,#86e668 60px,#23e0c3 71px,#01dee3 74px,#0195e4 81px,#0352e4 90px,#0336e4 96px,#0414e4 110px,#0407e4 131px,#0404e4 198px,#0404e4)"></i><i style="background:linear-gradient(90deg,#e92f0c,#e93e0c 18px,#e9500b 30px,#ebb70a 45px,#ece60a 50px,#e7ec0f 51px,#81e66d 60px,#1fe0c8 71px,#07dedd 73px,#00dae4 74px,#0190e4 81px,#034ee4 90px,#0332e4 96px,#0412e4 110px,#0406e4 132px,#0404e4)"></i><i style="background:linear-gradient(90deg,#e92f0c,#e93f0c 18px,#e9510b 30px,#ebba0a 45px,#ecea0a 50px,#7ce572 60px,#1ae0cc 71px,#03dee2 73px,#01b5e4 77px,#028be4 81px,#0349e4 90px,#032ee4 96px,#0410e4 110px,#0406e4 133px,#0404e4)"></i><i style="background:linear-gradient(90deg,#e92f0c,#e93f0c 18px,#e9530b 30px,#ebbd0a 45px,#eaec0c 50px,#76e577 60px,#15dfd0 71px,#00dce4 73px,#0287e4 81px,#0345e4 90px,#032ae4 96px,#040ee4 111px,#0405e4 136px,#0404e4)"></i><i style="background:linear-gradient(90deg,#e92f0c,#e9400c 18px,#e9540b 30px,#ebc00a 45px,#ece60a 49px,#e6ec0f 50px,#71e57b 60px,#10dfd5 71px,#05dee0 72px,#00d7e4 73px,#0282e4 81px,#0340e4 90px,#0326e4 96px,#040ce4 111px,#0405e4 140px,#0404e4)"></i><i style="background:linear-gradient(90deg,#e92f0c,#e9400c 18px,#e9550b 30px,#ebc30a 45px,#ecea0a 49px,#6ce480 60px,#0cdfd9 71px,#00dee4 72px,#027de4 81px,#033ce4 90px,#0322e4 96px,#040ae4 111px,#0404e4 148px,#0404e4)"></i><i style="background:linear-gradient(90deg,#e92f0c,#e93f0c 17px,#e9560b 30px,#ebc60a 45px,#eaec0c 49px,#67e485 60px,#07dede 71px,#00dae4 72px,#0278e4 81px,#0338e4 90px,#041ee4 96px,#0408e4 111px,#0404e4 172px,#0404e4)"></i><i style="background:linear-gradient(90deg,#e92f0c,#e9400c 17px,#e9580b 30px,#ebc90a 45px,#ece60a 48px,#e6ec0f 49px,#62e48a 60px,#02dee2 71px,#019ee4 77px,#0273e4 81px,#0333e4 90px,#041de4 95px,#0406e4 111px,#0404e4)"></i><i style="background:linear-gradient(90deg,#e92f0c,#e9400c 17px,#e9590b 30px,#ebcc0a 45px,#ecea0a 48px,#caea2a 51px,#5de38e 60px,#00dce4 71px,#026fe4 81px,#032fe4 90px,#0419e4 95px,#0404e4 111px,#0404e4)"></i><i style="background:linear-gradient(90deg,#e9370c,#e94a0b 17px,#ea660b 30px,#ecd60a 45px,#ece90a 47px,#e5ec11 48px,#57e394 60px,#02dee2 70px,#00d7e4 71px,#026ce4 81px,#032de4 90px,#0416e4 96px,#0404e4 111px,#0404e4)"></i><i style="background:linear-gradient(90deg,#e93e0c,#e9550b 17px,#ea730b 30px,#ece00a 45px,#ecea0a 46px,#dbeb1a 48px,#51e399 60px,#06dedf 69px,#00dbe4 70px,#0193e4 77px,#026ae4 81px,#0331e4 89px,#0417e4 95px,#0404e4 111px,#0404e4)"></i><i style="background:linear-gradient(90deg,#e9460b,#e95f0b 17px,#ea800b 30px,#ecea0a 45px,#c6ea2d 49px,#4ce29e 60px,#01dee3 69px,#00c4e4 72px,#0268e4 81px,#0330e4 89px,#0415e4 96px,#0404e4 111px,#0404e4)"></i><i style="background:linear-gradient(90deg,#e94e0b,#ea670b 16px,#ea8e0b 30px,#ebec0b 44px,#bce936 49px,#46e2a3 60px,#04dee0 68px,#00dae4 69px,#01c0e4 72px,#0265e4 81px,#032ee4 89px,#0414e4 96px,#0404e4 112px,#0404e4)"></i><i style="background:linear-gradient(90deg,#e9550b,#ea710b 16px,#eb9b0b 30px,#ecea0a 42px,#d8eb1c 45px,#a8e849 50px,#40e2a9 60px,#00dde4 68px,#01bce4 72px,#0263e4 81px,#032de4 89px,#0414e4 96px,#0404e4 112px,#0404e4)"></i><i style="background:linear-gradient(90deg,#e95d0b,#ea7b0b 16px,#eba80b 30px,#ece80a 40px,#e9ec0d 41px,#c4ea2f 46px,#80e66d 53px,#3ae1ae 60px,#02dee2 67px,#01c2e4 71px,#0261e4 81px,#032ce4 89px,#0413e4 96px,#0404e4 112px,#0404e4)"></i><i style="background:linear-gradient(90deg,#ea650b,#ea850b 16px,#ebb50a 30px,#ebec0b 39px,#bae938 46px,#65e487 55px,#2de1bb 61px,#05dee0 66px,#00dbe4 67px,#01b4e4 72px,#025fe4 81px,#032ae4 89px,#0412e4 96px,#0404e4 112px,#0404e4)"></i><i style="background:linear-gradient(90deg,#ea6c0b,#ea8f0b 16px,#ebc20a 30px,#ebec0b 37px,#afe842 46px,#4ae29f 57px,#17dfce 63px,#00dee4 66px,#01afe4 72px,#025ce4 81px,#032fe4 88px,#0414e4 95px,#0404e4 111px,#0404e4)"></i><i style="background:linear-gradient(90deg,#ea740b,#eb9a0b 16px,#ebd00a 30px,#ebec0b 35px,#a5e84c 46px,#21e0c5 61px,#02dee2 65px,#01b4e4 71px,#025ae4 81px,#032de4 88px,#0413e4 95px,#0404e4 111px,#0404e4)"></i><i style="background:linear-gradient(90deg,#ea7c0b,#eba40b 16px,#ece20a 31px,#eaec0c 33px,#9ae755 46px,#14dfd1 62px,#05dee0 64px,#00dbe4 65px,#01a7e4 72px,#0258e4 81px,#0331e4 87px,#041ce4 92px,#040fe4 97px,#0404e4 112px,#0404e4)"></i><i style="background:linear-gradient(90deg,#ea830b,#ebae0b 16px,#ecea0a 30px,#97e758 45px,#4fe39b 54px,#00dde4 64px,#01a3e4 72px,#0355e4 81px,#032fe4 87px,#041be4 92px,#040ee4 97px,#0404e4 113px,#0404e4)"></i><i style="background:linear-gradient(90deg,#ea8b0b,#ebb80a 16px,#ecea0a 27px,#e0eb15 30px,#85e669 46px,#01dee3 63px,#019fe4 72px,#0353e4 81px,#032de4 87px,#0417e4 93px,#040ce4 98px,#0404e4 113px,#0404e4)"></i><i style="background:linear-gradient(90deg,#ea930b,#ebc20a 16px,#ebec0b 25px,#7be573 46px,#03dee1 62px,#00d3e4 64px,#019be4 72px,#034ae4 82px,#032be4 87px,#0413e4 94px,#040ae4 100px,#0404e4 114px,#0404e4)"></i><i style="background:linear-gradient(90deg,#eb9a0b,#ebcc0a 16px,#ecea0a 22px,#70e57c 46px,#00dce4 62px,#0197e4 72px,#0348e4 82px,#0329e4 87px,#0410e4 95px,#0407e4 104px,#0404e4 118px,#0404e4)"></i><i style="background:linear-gradient(90deg,#eba20b,#ecd10a 15px,#eceb0a 20px,#98e757 36px,#66e486 46px,#00dee4 61px,#028ae4 73px,#0346e4 82px,#0328e4 87px,#040fe4 95px,#0408e4 103px,#0404e4 118px,#0404e4)"></i><i style="background:linear-gradient(90deg,#ebaa0b,#ecdb0a 15px,#eceb0a 18px,#9ee752 32px,#5be390 46px,#01dee3 60px,#0287e4 73px,#0344e4 82px,#0326e4 87px,#040de4 96px,#0404e4 111px,#0404e4)"></i><i style="background:linear-gradient(90deg,#ebb10b,#ece50a 15px,#eceb0a 16px,#95e75a 31px,#51e39a 46px,#02dee2 59px,#01b2e4 66px,#0274e4 75px,#033be4 83px,#0324e4 87px,#040be4 97px,#0404e4 115px,#0404e4)"></i><i style="background:linear-gradient(90deg,#ebb90a,#eceb0a 14px,#e3eb13 16px,#8ce663 30px,#41e2a8 47px,#02dee2 58px,#00cee4 61px,#0277e4 74px,#0339e4 83px,#0322e4 87px,#040ae4 97px,#0404e4 116px,#0404e4)"></i><i style="background:linear-gradient(90deg,#ebc10a,#ebec0b 12px,#d8eb1d 16px,#7ee570 30px,#36e1b2 47px,#01dee3 57px,#01c2e4 62px,#0266e4 76px,#0324e4 86px,#040de4 95px,#0407e4 101px,#0404e4 135px,#0404e4)"></i><i style="background:linear-gradient(90deg,#ebc80a,#eceb0a 9px,#d4eb20 15px,#70e57d 30px,#2ce1bb 47px,#00dde4 56px,#00c4e4 61px,#034ee4 79px,#0322e4 86px,#040ae4 96px,#0406e4 104px,#0404e4)"></i><i style="background:linear-gradient(90deg,#ebd00a,#ecec0a 7px,#c9ea2a 15px,#61e48a 30px,#22e0c5 47px,#02dee2 54px,#00c5e4 60px,#0320e4 86px,#0408e4 97px,#0404e4 122px,#0404e4)"></i><i style="background:linear-gradient(90deg,#ecd80a,#ebec0a 5px,#bfe934 15px,#53e397 30px,#14dfd2 48px,#00dce4 53px,#01bfe4 60px,#041ee4 86px,#0406e4 98px,#0404e4)"></i><i style="background:linear-gradient(90deg,#ecdf0a,#ecec0a 3px,#b4e93e 15px,#45e2a4 30px,#0adfdb 48px,#00dce4 51px,#01bae4 60px,#041ce4 86px,#0405e4 99px,#0404e4)"></i><i style="background:linear-gradient(90deg,#ece70a,#eceb0a 1px,#aae847 15px,#37e1b1 30px,#00dee4 48px,#01b5e4 60px,#041ae4 86px,#0404e4 99px,#0404e4)"></i><i style="background:linear-gradient(90deg,#ebec0b,#9fe751 15px,#2ae1bd 30px,#00dde4 45px,#01aee4 60px,#0419e4 86px,#0404e4 99px,#0404e4)"></i><i style="background:linear-gradient(90deg,#e6ec0f,#94e75b 15px,#1fe0c8 30px,#00dde4 41px,#01a5e4 60px,#0418e4 86px,#0404e4 99px,#0404e4)"></i><i style="background:linear-gradient(90deg,#e2eb13,#8ae665 15px,#21e0c5 28px,#13dfd2 30px,#00dde4 37px,#019de4 60px,#0417e4 86px,#0404e4 99px,#0404e4)"></i><i style="background:linear-gradient(90deg,#deeb17,#7fe66f 15px,#35e1b3 24px,#08dedd 30px,#00dae4 34px,#0194e4 60px,#0416e4 86px,#0404e4 99px,#0404e4)"></i><i style="background:linear-gradient(90deg,#daeb1b,#6be481 16px,#30e1b7 23px,#03dee2 29px,#00d2e4 33px,#028be4 60px,#0414e4 86px,#0404e4 99px,#0404e4)"></i><i style="background:linear-gradient(90deg,#d6eb1f,#60e48b 16px,#25e0c2 23px,#00dde4 28px,#00d0e4 30px,#0282e4 60px,#0413e4 86px,#0404e4 100px,#0404e4)"></i><i style="background:linear-gradient(90deg,#d1ea23,#55e395 16px,#20e0c6 22px,#02dee2 26px,#00c5e4 30px,#0279e4 60px,#0412e4 86px,#0404e4 100px,#0404e4)"></i><i style="background:linear-gradient(90deg,#cdea26,#5ce38f 14px,#14dfd1 22px,#00dce4 25px,#01bbe4 30px,#028be4 49px,#026de4 61px,#0410e4 87px,#0404e4 100px,#0404e4)"></i><i style="background:linear-gradient(90deg,#c9ea2a,#51e399 14px,#09dfdc 22px,#01dee3 23px,#01b0e4 30px,#0288e4 46px,#0264e4 61px,#040fe4 87px,#0404e4 100px,#0404e4)"></i><i style="background:linear-gradient(90deg,#c5ea2e,#4fe39b 13px,#17dfcf 19px,#04dee0 21px,#00dbe4 22px,#01a5e4 30px,#027fe4 45px,#025ce4 61px,#040ee4 87px,#0404e4 101px,#0404e4)"></i><i style="background:linear-gradient(90deg,#c1e932,#45e2a4 13px,#02dee2 20px,#019be4 30px,#0277e4 44px,#0350e4 62px,#040de4 87px,#0404e4 101px,#0404e4)"></i><i style="background:linear-gradient(90deg,#bce936,#3be2ad 13px,#00dee4 19px,#00c5e4 22px,#0190e4 30px,#026ce4 44px,#0343e4 64px,#040ce4 87px,#0404e4 102px,#0404e4)"></i><i style="background:linear-gradient(90deg,#b8e93a,#3ae1ae 12px,#00dde4 18px,#01c1e4 21px,#0285e4 30px,#0262e4 44px,#0335e4 67px,#040be4 87px,#0404e4 102px,#0404e4)"></i><i style="background:linear-gradient(90deg,#b4e93e,#31e1b7 12px,#00dce4 17px,#01b6e4 21px,#027be4 30px,#0259e4 43px,#040ae4 87px,#0404e4 104px,#0404e4)"></i><i style="background:linear-gradient(90deg,#b0e842,#27e0c0 12px,#00dce4 16px,#01abe4 21px,#0270e4 30px,#034ee4 43px,#0409e4 88px,#0404e4 106px,#0404e4)"></i><i style="background:linear-gradient(90deg,#ace846,#1de0c9 12px,#00dce4 15px,#01a0e4 21px,#0265e4 30px,#0344e4 43px,#0413e4 78px,#0407e4 89px,#0404e4 112px,#0404e4)"></i><i style="background:linear-gradient(90deg,#a7e849,#14dfd2 12px,#00dce4 14px,#0195e4 21px,#025be4 30px,#0339e4 43px,#041be4 66px,#0407e4 89px,#0404e4 135px,#0404e4)"></i><i style="background:linear-gradient(90deg,#a3e84d,#0adfdb 12px,#00dde4 13px,#0289e4 21px,#0350e4 30px,#032fe4 43px,#0416e4 63px,#0405e4 91px,#0404e4)"></i><i style="background:linear-gradient(90deg,#9fe751,#00dee4 12px,#027ee4 21px,#0345e4 30px,#0324e4 43px,#040fe4 62px,#0404e4 96px,#0404e4)"></i><i style="background:linear-gradient(90deg,#9be755,#03dee2 11px,#01c0e4 14px,#0273e4 21px,#033be4 30px,#0419e4 43px,#0407e4 61px,#0404e4 232px,#0404e4)"></i>
</div>
<div class="t yt" style="left:390.3px;top:-0.4px">2</div>
<div class="tk" style="left:424.3px;top:5.2px;width:2px;height:1px"></div>
<div class="tk" style="left:659.9px;top:5.2px;width:2px;height:1px"></div>
<div class="t yt" style="left:390.3px;top:48.7795px">1.5</div>
<div class="tk" style="left:424.3px;top:54px;width:2px;height:1px"></div>
<div class="tk" style="left:659.9px;top:54px;width:2px;height:1px"></div>
<div class="t yt" style="left:390.3px;top:97.959px">1</div>
<div class="tk" style="left:424.3px;top:103px;width:2px;height:1px"></div>
<div class="tk" style="left:659.9px;top:103px;width:2px;height:1px"></div>
<div class="t yt" style="left:390.3px;top:147.138px">0.5</div>
<div class="tk" style="left:424.3px;top:152px;width:2px;height:1px"></div>
<div class="tk" style="left:659.9px;top:152px;width:2px;height:1px"></div>
<div class="tk" style="left:424.3px;top:5.2px;width:1px;height:2px"></div>
<div class="tk" style="left:424.3px;top:195px;width:1px;height:2px"></div>
<div class="tk" style="left:483px;top:5.2px;width:1px;height:2px"></div>
<div class="tk" style="left:483px;top:195px;width:1px;height:2px"></div>
<div class="tk" style="left:543px;top:5.2px;width:1px;height:2px"></div>
<div class="tk" style="left:543px;top:195px;width:1px;height:2px"></div>
<div class="tk" style="left:602px;top:5.2px;width:1px;height:2px"></div>
<div class="tk" style="left:602px;top:195px;width:1px;height:2px"></div>
<div class="tk" style="left:660.9px;top:5.2px;width:1px;height:2px"></div>
<div class="tk" style="left:660.9px;top:195px;width:1px;height:2px"></div>
<div class="l yl" style="left:396.2px;top:100.6px">Charging current  /  C</div>
<div class="cb" style="left:673.1px;top:5.2px;width:8.8px;height:191.8px;background:linear-gradient(0deg,#0404e4 0.00%,#00dee4 33.33%,#ecec0a 66.67%,#e80e0c 100.00%)"></div>
<div class="t ct" style="left:685.1px;top:0.2px">0.035</div>
<div class="tk" style="left:679.4px;top:5.2px;width:2px;height:1px"></div>
<div class="t ct" style="left:685.1px;top:27.6px">0.03</div>
<div class="tk" style="left:679.4px;top:32.1px;width:2px;height:1px"></div>
<div class="t ct" style="left:685.1px;top:55px">0.025</div>
<div class="tk" style="left:679.4px;top:59.5px;width:2px;height:1px"></div>
<div class="t ct" style="left:685.1px;top:82.4px">0.02</div>
<div class="tk" style="left:679.4px;top:86.9px;width:2px;height:1px"></div>
<div class="t ct" style="left:685.1px;top:109.8px">0.015</div>
<div class="tk" style="left:679.4px;top:114.3px;width:2px;height:1px"></div>
<div class="t ct" style="left:685.1px;top:137.2px">0.01</div>
<div class="tk" style="left:679.4px;top:141.7px;width:2px;height:1px"></div>
<div class="t ct" style="left:685.1px;top:164.6px">0.005</div>
<div class="tk" style="left:679.4px;top:169.1px;width:2px;height:1px"></div>
<div class="t ct" style="left:685.1px;top:192px">0</div>
<div class="tk" style="left:679.4px;top:196px;width:2px;height:1px"></div>
<div class="l yl cl" style="left:719px;top:101.1px">Max lithium volume fraction</div>
<div class="pl" style="left:1.1px;top:225.7px">c)</div>
<div class="p" style="left:56.2px;top:227px;width:238.6px;height:192px">
<i style="background:linear-gradient(90deg,#e81b0c,#ecd60a 30px,#eceb0a 37px,#c0e932 48px,#61e48a 76px,#1ee0c8 90px,#04dee0 94px,#00dbe4 95px,#0191e4 105px,#034ae4 120px,#0322e4 136px,#040fe4 153px,#0406e4 172px,#0404e4)"></i><i style="background:linear-gradient(90deg,#e81b0c,#ecd60a 30px,#eceb0a 37px,#c0e933 48px,#61e48b 76px,#1de0c9 90px,#03dee1 94px,#00d3e4 96px,#0190e4 105px,#0349e4 120px,#0322e4 136px,#040ee4 153px,#0406e4 172px,#0404e4)"></i><i style="background:linear-gradient(90deg,#e81b0c,#ecd60a 30px,#eceb0a 37px,#c0e933 48px,#60e48c 76px,#1ce0ca 90px,#02dee2 94px,#01b4e4 100px,#018fe4 105px,#0349e4 120px,#0321e4 136px,#040ee4 153px,#0405e4 173px,#0404e4)"></i><i style="background:linear-gradient(90deg,#e81b0c,#ecd60a 30px,#eceb0a 37px,#c0e933 48px,#5fe48c 76px,#1be0cb 90px,#01dee4 94px,#018fe4 105px,#0348e4 120px,#0321e4 136px,#040ee4 153px,#0405e4 173px,#0404e4)"></i><i style="background:linear-gradient(90deg,#e81b0c,#ecd60a 30px,#eaec0c 38px,#c3ea30 47px,#5ee48d 76px,#1ae0cc 90px,#00dde4 94px,#018ee4 105px,#0347e4 120px,#0320e4 136px,#040ee4 153px,#0405e4 173px,#0404e4)"></i><i style="background:linear-gradient(90deg,#e81b0c,#ecd60a 30px,#eaec0c 38px,#c3ea30 47px,#5ee48e 76px,#19dfcd 90px,#00dce4 94px,#018de4 105px,#0346e4 120px,#0320e4 136px,#040ee4 153px,#0405e4 174px,#0404e4)"></i><i style="background:linear-gradient(90deg,#e81b0c,#ecd60a 30px,#eaec0c 38px,#c3ea30 47px,#5de48e 76px,#18dfce 90px,#04dee0 93px,#00d5e4 95px,#028ce4 105px,#0346e4 120px,#031fe4 136px,#040de4 153px,#0405e4 174px,#0404e4)"></i><i style="background:linear-gradient(90deg,#e81b0c,#ecd60a 30px,#eaec0c 38px,#c6ea2d 46px,#5ce38f 76px,#17dfcf 90px,#03dee1 93px,#00d4e4 95px,#028be4 105px,#0345e4 120px,#041fe4 136px,#040de4 153px,#0405e4 175px,#0404e4)"></i><i style="background:linear-gradient(90deg,#e81b0c,#ecd60a 30px,#eaec0c 38px,#c6ea2d 46px,#5be390 76px,#16dfd0 90px,#02dee2 93px,#00c4e4 97px,#028ae4 105px,#0344e4 120px,#041ee4 136px,#040de4 153px,#0405e4 175px,#0404e4)"></i><i style="background:linear-gradient(90deg,#e81b0c,#ecd60a 30px,#eaec0c 38px,#c6ea2e 46px,#5fe48c 75px,#15dfd1 90px,#01dee3 93px,#01a5e4 101px,#0289e4 105px,#0343e4 120px,#041ee4 136px,#040de4 153px,#0405e4 176px,#0404e4)"></i><i style="background:linear-gradient(90deg,#e81b0c,#ecd60a 30px,#eaec0b 38px,#c5ea2e 46px,#5fe48c 75px,#14dfd2 90px,#00dee4 93px,#0288e4 105px,#0342e4 120px,#041de4 136px,#040ce4 153px,#0405e4 176px,#0404e4)"></i><i style="background:linear-gradient(90deg,#e81b0c,#ecd60a 30px,#ebec0b 38px,#c5ea2e 46px,#5ee48d 75px,#13dfd3 90px,#00dde4 93px,#0287e4 105px,#0342e4 120px,#041de4 136px,#040ce4 153px,#0404e4 177px,#0404e4)"></i><i style="background:linear-gradient(90deg,#e81b0c,#ecd60a 30px,#ebec0b 38px,#c5ea2e 46px,#5de48e 75px,#12dfd3 90px,#00dce4 93px,#0286e4 105px,#0341e4 120px,#041ce4 136px,#040ce4 153px,#0404e4 178px,#0404e4)"></i><i style="background:linear-gradient(90deg,#e81b0c,#ecd60a 30px,#ebec0b 38px,#c5ea2e 46px,#61e48b 74px,#11dfd4 90px,#03dee1 92px,#00d4e4 94px,#0285e4 105px,#0340e4 120px,#041ce4 136px,#040be4 154px,#0404e4 180px,#0404e4)"></i><i style="background:linear-gradient(90deg,#e81b0c,#ecd60a 30px,#ebec0b 38px,#c5ea2e 46px,#60e48b 74px,#10dfd5 90px,#02dee2 92px,#00c5e4 96px,#0284e4 105px,#033fe4 120px,#041be4 136px,#040be4 154px,#0404e4 180px,#0404e4)"></i><i style="background:linear-gradient(90deg,#e81b0c,#ecd60a 30px,#ebec0b 38px,#c5ea2e 46px,#63e489 73px,#0fdfd6 90px,#01dee3 92px,#01b6e4 98px,#0283e4 105px,#033ee4 120px,#041be4 136px,#040be4 154px,#0404e4 181px,#0404e4)"></i><i style="background:linear-gradient(90deg,#e81b0c,#ecd60a 30px,#ebec0b 38px,#c4ea2f 46px,#6ae482 71px,#4be29e 78px,#0edfd7 90px,#00dee4 92px,#0282e4 105px,#033ee4 120px,#041ae4 136px,#040be4 154px,#0404e4 182px,#0404e4)"></i><i style="background:linear-gradient(90deg,#e81b0c,#ecd60a 30px,#ebec0b 38px,#c4ea2f 46px,#6de47f 70px,#50e39a 77px,#0ddfd8 90px,#00dde4 92px,#0282e4 105px,#033de4 120px,#041ae4 136px,#040ae4 154px,#0404e4 182px,#0404e4)"></i><i style="background:linear-gradient(90deg,#e81b0c,#ecd60a 30px,#ebec0b 38px,#c4ea2f 46px,#70e57c 69px,#4fe39b 77px,#0cdfd9 90px,#00dce4 92px,#0281e4 105px,#033ce4 120px,#0419e4 136px,#040ae4 154px,#0404e4 183px,#0404e4)"></i><i style="background:linear-gradient(90deg,#e81b0c,#ecd60a 30px,#ebec0b 38px,#c4ea2f 46px,#74e579 68px,#4ee39c 77px,#0bdfda 90px,#00dbe4 92px,#0280e4 105px,#033be4 120px,#0419e4 136px,#040ae4 154px,#0404e4 184px,#0404e4)"></i><i style="background:linear-gradient(90deg,#e81b0c,#ecd60a 30px,#ebec0b 38px,#c4ea2f 46px,#73e57a 68px,#4de39c 77px,#0adfdb 90px,#03dee1 91px,#00cde4 94px,#027fe4 105px,#033ae4 120px,#0418e4 136px,#040ae4 154px,#0404e4 185px,#0404e4)"></i><i style="background:linear-gradient(90deg,#e81b0c,#ecd60a 30px,#ecec0a 38px,#c4ea2f 46px,#77e576 67px,#4de39d 77px,#09dfdc 90px,#02dee2 91px,#01b7e4 97px,#027ee4 105px,#033ae4 120px,#0418e4 136px,#040ae4 154px,#0404e4 186px,#0404e4)"></i><i style="background:linear-gradient(90deg,#e81b0c,#ecd60a 30px,#ecec0a 38px,#c4ea2f 46px,#76e577 67px,#4ce39e 77px,#08dedd 90px,#01dee3 91px,#01a0e4 100px,#027de4 105px,#0339e4 120px,#0417e4 136px,#0409e4 154px,#0404e4 188px,#0404e4)"></i><i style="background:linear-gradient(90deg,#e81b0c,#ecd60a 30px,#ecec0a 38px,#c3ea30 46px,#7ae574 66px,#4be29f 77px,#07dede 90px,#00dee4 91px,#027ce4 105px,#0338e4 120px,#0417e4 136px,#0409e4 154px,#0404e4 189px,#0404e4)"></i><i style="background:linear-gradient(90deg,#e81b0c,#ecd60a 30px,#ecec0a 38px,#c3ea30 46px,#79e574 66px,#4ae29f 77px,#06dedf 90px,#00dde4 91px,#027be4 105px,#0337e4 120px,#0416e4 136px,#0409e4 154px,#0404e4 191px,#0404e4)"></i><i style="background:linear-gradient(90deg,#e81b0c,#ecd60a 30px,#ecec0a 38px,#c3ea30 46px,#7de571 65px,#4ae2a0 77px,#05dee0 90px,#00dce4 91px,#027ae4 105px,#0337e4 120px,#0416e4 136px,#0409e4 154px,#0404e4 193px,#0404e4)"></i><i style="background:linear-gradient(90deg,#e81b0c,#ecd60a 30px,#ecec0a 38px,#c3ea30 46px,#7ce571 65px,#49e2a1 77px,#04dee1 90px,#00d4e4 92px,#0279e4 105px,#0336e4 120px,#0415e4 136px,#0409e4 154px,#0404e4 196px,#0404e4)"></i><i style="background:linear-gradient(90deg,#e81b0c,#ecd60a 30px,#ecec0a 38px,#c3ea30 46px,#7ce572 65px,#48e2a1 77px,#03dee2 90px,#00cde4 93px,#0278e4 105px,#0335e4 120px,#0415e4 136px,#0408e4 154px,#0404e4 200px,#0404e4)"></i><i style="background:linear-gradient(90deg,#e81b0c,#ecd60a 30px,#ecec0a 38px,#c3ea30 46px,#7be572 65px,#47e2a2 77px,#02dee2 90px,#01a1e4 99px,#0277e4 105px,#0334e4 120px,#0414e4 136px,#0408e4 154px,#0404e4 201px,#0404e4)"></i><i style="background:linear-gradient(90deg,#e81b0c,#ecd60a 30px,#ecec0a 38px,#d1ea23 43px,#c2ea30 46px,#7fe66f 64px,#47e2a3 77px,#07dedd 89px,#01dee3 90px,#028be4 102px,#0272e4 106px,#0333e4 120px,#0414e4 136px,#0408e4 154px,#0404e4 204px,#0404e4)"></i><i style="background:linear-gradient(90deg,#e81b0c,#ecd60a 30px,#ecec0a 38px,#d7eb1d 42px,#c2ea31 46px,#7fe66f 64px,#46e2a3 77px,#00dee4 90px,#0276e4 105px,#0333e4 120px,#0413e4 136px,#0408e4 154px,#0404e4 207px,#0404e4)"></i><i style="background:linear-gradient(90deg,#e81b0c,#ecd60a 30px,#eceb0a 38px,#ddeb18 41px,#c2ea31 46px,#7ee56f 64px,#45e2a4 77px,#00dde4 90px,#0275e4 105px,#0332e4 120px,#0413e4 136px,#0407e4 155px,#0404e4 214px,#0404e4)"></i><i style="background:linear-gradient(90deg,#e81b0c,#ecd60a 30px,#eceb0a 38px,#ddeb18 41px,#c2ea31 46px,#7ee570 64px,#44e2a5 77px,#00dce4 90px,#0274e4 105px,#0331e4 120px,#0412e4 136px,#0407e4 155px,#0404e4 220px,#0404e4)"></i><i style="background:linear-gradient(90deg,#e81b0c,#ecd60a 30px,#eceb0a 38px,#e3eb12 40px,#c2e931 46px,#7ee570 64px,#44e2a6 77px,#03dee1 89px,#00d4e4 91px,#0273e4 105px,#0330e4 120px,#0412e4 136px,#0407e4 155px,#0404e4 228px,#0404e4)"></i><i style="background:linear-gradient(90deg,#e81b0c,#ecd60a 30px,#eceb0a 38px,#e3eb12 40px,#c2e931 46px,#81e66c 63px,#43e2a6 77px,#02dee2 89px,#00c6e4 93px,#0272e4 105px,#032fe4 120px,#0411e4 136px,#0407e4 155px,#0404e4)"></i><i style="background:linear-gradient(90deg,#e81b0c,#ecd60a 30px,#eceb0a 38px,#e3eb12 40px,#c2e931 46px,#81e66d 63px,#42e2a7 77px,#01dee3 89px,#0193e4 100px,#0271e4 105px,#032fe4 120px,#0411e4 136px,#0407e4 155px,#0404e4)"></i><i style="background:linear-gradient(90deg,#e81b0c,#ecd60a 30px,#eceb0a 38px,#e3eb12 40px,#c1e931 46px,#81e66d 63px,#41e2a8 77px,#00dee4 89px,#0270e4 105px,#032ee4 120px,#0410e4 136px,#0406e4 155px,#0404e4)"></i><i style="background:linear-gradient(90deg,#e81b0c,#ecd60a 30px,#eceb0a 38px,#e3eb12 40px,#c5ea2e 45px,#80e66d 63px,#41e2a8 77px,#00dde4 89px,#026fe4 105px,#032de4 120px,#0410e4 136px,#0406e4 155px,#0404e4)"></i><i style="background:linear-gradient(90deg,#e81b0c,#ecd60a 30px,#eceb0a 38px,#eaec0c 39px,#c5ea2e 45px,#80e66e 63px,#40e2a9 77px,#00dce4 89px,#026ee4 105px,#032ce4 120px,#040fe4 136px,#0406e4 155px,#0404e4)"></i><i style="background:linear-gradient(90deg,#e81b0c,#ecd60a 30px,#eaec0c 39px,#c5ea2e 45px,#80e66e 63px,#3fe2aa 77px,#04dee1 88px,#00d5e4 90px,#026de4 105px,#032be4 120px,#040fe4 136px,#0406e4 155px,#0404e4)"></i><i style="background:linear-gradient(90deg,#e81b0c,#ecd60a 30px,#eaec0c 39px,#c4ea2f 45px,#7fe66f 63px,#3ee2aa 77px,#03dee1 88px,#00cde4 91px,#026ce4 105px,#032be4 120px,#040ee4 136px,#0406e4 155px,#0404e4)"></i><i style="background:linear-gradient(90deg,#e81b0c,#ecd60a 30px,#eaec0c 39px,#c4ea2f 45px,#83e66b 62px,#3ee2ab 77px,#02dee2 88px,#01b8e4 94px,#026be4 105px,#032ae4 120px,#040ee4 136px,#0405e4 155px,#0404e4)"></i><i style="background:linear-gradient(90deg,#e81b0c,#ecd60a 30px,#eaec0c 39px,#c4ea2f 45px,#83e66b 62px,#3de2ac 77px,#01dee3 88px,#0286e4 101px,#026ae4 105px,#0329e4 120px,#040de4 136px,#0405e4 155px,#0404e4)"></i><i style="background:linear-gradient(90deg,#e81b0c,#ecd60a 30px,#eaec0b 39px,#c4ea2f 45px,#83e66b 62px,#3ce2ac 77px,#00dee4 88px,#0269e4 105px,#0328e4 120px,#040de4 136px,#0405e4 156px,#0404e4)"></i><i style="background:linear-gradient(90deg,#e81b0c,#ecd60a 30px,#ebec0b 39px,#c4ea2f 45px,#82e66c 62px,#36e1b2 78px,#00dde4 88px,#0269e4 105px,#0328e4 120px,#040ce4 136px,#0405e4 156px,#0404e4)"></i><i style="background:linear-gradient(90deg,#e81b0c,#ecd60a 30px,#ebec0b 39px,#c4ea2f 45px,#82e66c 62px,#35e1b3 78px,#00dce4 88px,#0268e4 105px,#0327e4 120px,#040ce4 136px,#0405e4 156px,#0404e4)"></i><i style="background:linear-gradient(90deg,#e81b0c,#ecd60a 30px,#ebec0b 39px,#c4ea2f 45px,#82e66c 62px,#34e1b4 78px,#04dee1 87px,#00d5e4 89px,#0267e4 105px,#0326e4 120px,#040be4 136px,#0404e4 156px,#0404e4)"></i><i style="background:linear-gradient(90deg,#e81b0c,#ecd60a 30px,#ebec0b 39px,#c3ea2f 45px,#81e66d 62px,#34e1b4 78px,#03dee2 87px,#00cee4 90px,#0266e4 105px,#0325e4 120px,#040be4 136px,#0404e4 156px,#0404e4)"></i><i style="background:linear-gradient(90deg,#e81b0c,#ecd60a 30px,#ebec0b 39px,#c3ea30 45px,#81e66d 62px,#33e1b5 78px,#02dee2 87px,#01b8e4 93px,#0265e4 105px,#0324e4 120px,#040ae4 136px,#0404e4 156px,#0404e4)"></i><i style="background:linear-gradient(90deg,#e81b0c,#ecd60a 30px,#ebec0b 39px,#c3ea30 45px,#80e66d 62px,#32e1b6 78px,#01dee3 87px,#0194e4 98px,#0264e4 105px,#0324e4 120px,#040ae4 136px,#0404e4 156px,#0404e4)"></i><i style="background:linear-gradient(90deg,#e81b0c,#ecd60a 30px,#ebec0b 39px,#c3ea30 45px,#80e66e 62px,#31e1b6 78px,#00dde4 87px,#0263e4 105px,#0323e4 120px,#040ae4 136px,#0404e4 156px,#0404e4)"></i><i style="background:linear-gradient(90deg,#e81c0c,#ecd60a 30px,#ebec0a 39px,#c3ea2f 45px,#7fe66e 62px,#31e1b7 78px,#00dce4 87px,#0262e4 105px,#0323e4 120px,#040ae4 136px,#0404e4 157px,#0404e4)"></i><i style="background:linear-gradient(90deg,#e81c0c,#ecd60a 30px,#ecec0a 39px,#c4ea2f 45px,#7fe66f 62px,#30e1b8 78px,#02dee2 86px,#00cee4 89px,#0261e4 105px,#0323e4 120px,#0409e4 136px,#0404e4 157px,#0404e4)"></i><i style="background:linear-gradient(90deg,#e81c0c,#ecd60a 30px,#ecec0a 39px,#c4ea2f 45px,#7fe66f 62px,#2fe1b9 78px,#01dee3 86px,#01aae4 94px,#0260e4 105px,#0322e4 120px,#0409e4 136px,#0404e4 157px,#0404e4)"></i><i style="background:linear-gradient(90deg,#e81c0c,#ecd50a 30px,#ecec0a 39px,#c4ea2f 45px,#7ee570 62px,#2ee1b9 78px,#00dde4 86px,#025fe4 105px,#0322e4 120px,#0409e4 136px,#0404e4 158px,#0404e4)"></i><i style="background:linear-gradient(90deg,#e81c0c,#ecd50a 30px,#ecec0a 39px,#c4ea2f 45px,#7ee570 62px,#2de1ba 78px,#00dce4 86px,#025ee4 105px,#0321e4 120px,#0409e4 136px,#0404e4 158px,#0404e4)"></i><i style="background:linear-gradient(90deg,#e81c0c,#ecd50a 30px,#ecec0a 39px,#c4ea2f 45px,#7de570 62px,#2de1bb 78px,#03dee1 85px,#00cfe4 88px,#025de4 105px,#0321e4 120px,#0409e4 136px,#0404e4 158px,#0404e4)"></i><i style="background:linear-gradient(90deg,#e81c0c,#ecd50a 30px,#ecec0a 39px,#c4ea2f 45px,#78e575 63px,#2ce1bc 78px,#02dee3 85px,#01c0e4 90px,#025ce4 105px,#0321e4 120px,#0409e4 136px,#0404e4 159px,#0404e4)"></i><i style="background:linear-gradient(90deg,#e81d0c,#ecd50a 30px,#ecec0a 39px,#c4ea2f 45px,#77e576 63px,#2be1bc 78px,#00dee4 85px,#0274e4 101px,#025be4 105px,#0320e4 120px,#0409e4 136px,#0404e4 159px,#0404e4)"></i><i style="background:linear-gradient(90deg,#e81d0c,#ecd50a 30px,#eceb0a 39px,#c5ea2e 45px,#77e576 63px,#2ae1bd 78px,#00dde4 85px,#0259e4 105px,#0320e4 120px,#0409e4 136px,#0404e4 160px,#0404e4)"></i><i style="background:linear-gradient(90deg,#e81d0c,#ecd50a 30px,#eceb0a 39px,#d3eb21 43px,#c0e932 46px,#76e577 63px,#29e0be 78px,#00dce4 85px,#0258e4 105px,#031fe4 120px,#0409e4 136px,#0404e4 160px,#0404e4)"></i><i style="background:linear-gradient(90deg,#e81d0c,#ecd40a 30px,#eceb0a 39px,#d3eb21 43px,#c1e932 46px,#76e577 63px,#29e0be 78px,#03dee1 84px,#00d5e4 86px,#0257e4 105px,#041fe4 120px,#0408e4 136px,#0404e4 161px,#0404e4)"></i><i style="background:linear-gradient(90deg,#e81d0c,#ecd40a 30px,#eceb0a 39px,#dbeb1a 42px,#c5ea2e 45px,#75e578 63px,#28e0bf 78px,#02dee2 84px,#01b9e4 90px,#0256e4 105px,#041fe4 120px,#0408e4 136px,#0404e4 161px,#0404e4)"></i><i style="background:linear-gradient(90deg,#e81d0c,#ecd40a 30px,#eceb0a 39px,#dbeb1a 42px,#c5ea2e 45px,#75e578 63px,#27e0c0 78px,#01dee3 84px,#0355e4 105px,#041ee4 120px,#0408e4 136px,#0404e4 162px,#0404e4)"></i><i style="background:linear-gradient(90deg,#e81d0c,#ecd40a 30px,#eceb0a 39px,#dbeb19 42px,#c5ea2e 45px,#74e579 63px,#26e0c1 78px,#00dde4 84px,#0354e4 105px,#041ee4 120px,#0408e4 136px,#0404e4 163px,#0404e4)"></i><i style="background:linear-gradient(90deg,#e81e0c,#ecd40a 30px,#eceb0a 39px,#dceb19 42px,#c5ea2e 45px,#6fe57e 64px,#25e0c1 78px,#00dce4 84px,#0353e4 105px,#041de4 120px,#0408e4 136px,#0404e4 164px,#0404e4)"></i><i style="background:linear-gradient(90deg,#e81e0c,#ecd40a 30px,#ecea0a 39px,#dceb19 42px,#c6ea2e 45px,#6ee57e 64px,#25e0c2 78px,#04dee0 83px,#00dbe4 84px,#0352e4 105px,#041de4 120px,#0408e4 136px,#0404e4 165px,#0404e4)"></i><i style="background:linear-gradient(90deg,#e81e0c,#ecd40a 30px,#ecea0a 39px,#dceb19 42px,#c6ea2d 45px,#6ee57f 64px,#24e0c3 78px,#03dee1 83px,#00cde4 86px,#0351e4 105px,#041de4 120px,#0408e4 136px,#0404e4 166px,#0404e4)"></i><i style="background:linear-gradient(90deg,#e81e0c,#ecd40a 30px,#ecea0a 39px,#dceb18 42px,#c6ea2d 45px,#6de47f 64px,#23e0c4 78px,#02dee2 83px,#0350e4 105px,#041ce4 120px,#0408e4 136px,#0404e4 167px,#0404e4)"></i><i style="background:linear-gradient(90deg,#e81e0c,#ecd30a 30px,#ecea0a 39px,#e4ec11 41px,#c6ea2d 45px,#6de480 64px,#22e0c4 78px,#01dee3 83px,#034fe4 105px,#041ce4 120px,#0407e4 136px,#0404e4 169px,#0404e4)"></i><i style="background:linear-gradient(90deg,#e81e0c,#ecd30a 30px,#ecea0a 39px,#e4ec11 41px,#c6ea2d 45px,#67e485 65px,#21e0c5 78px,#00dee4 83px,#026de4 100px,#034ee4 105px,#041ce4 120px,#0407e4 136px,#0404e4 171px,#0404e4)"></i><i style="background:linear-gradient(90deg,#e81e0c,#ecd30a 30px,#ecea0a 39px,#e5ec11 41px,#c6ea2d 45px,#66e485 65px,#21e0c6 78px,#00dde4 83px,#027fe4 97px,#034de4 105px,#041be4 120px,#0407e4 136px,#0404e4 173px,#0404e4)"></i><i style="background:linear-gradient(90deg,#e81e0c,#ecd30a 30px,#ecea0a 39px,#e5ec11 41px,#c6ea2d 45px,#66e486 65px,#20e0c7 78px,#00dce4 83px,#028ae4 95px,#034ce4 105px,#041be4 120px,#0407e4 136px,#0404e4 175px,#0404e4)"></i><i style="background:linear-gradient(90deg,#e81f0c,#ecd30a 30px,#eaec0c 40px,#d6eb1e 43px,#c2e931 46px,#60e48b 66px,#1fe0c7 78px,#04dee1 82px,#00d4e4 84px,#018fe4 94px,#034be4 105px,#041ae4 120px,#0407e4 136px,#0404e4 178px,#0404e4)"></i><i style="background:linear-gradient(90deg,#e81f0c,#ecd30a 30px,#eaec0c 40px,#deeb17 42px,#c7ea2d 45px,#60e48c 66px,#1ee0c8 78px,#03dee1 82px,#00cce4 85px,#018ee4 94px,#034ae4 105px,#041ae4 120px,#0407e4 136px,#0404e4 182px,#0404e4)"></i><i style="background:linear-gradient(90deg,#e81f0c,#ecd30a 30px,#eaec0c 40px,#deeb17 42px,#c7ea2c 45px,#5fe48c 66px,#1ee0c9 78px,#02dee2 82px,#018de4 94px,#0349e4 105px,#041ae4 120px,#0407e4 136px,#0404e4 188px,#0404e4)"></i><i style="background:linear-gradient(90deg,#e81f0c,#ecd20a 30px,#ebec0b 40px,#dfeb16 42px,#c7ea2c 45px,#59e392 67px,#1de0c9 78px,#01dee3 82px,#0192e4 93px,#0348e4 105px,#0419e4 120px,#0407e4 136px,#0404e4 195px,#0404e4)"></i><i style="background:linear-gradient(90deg,#e81f0c,#ecd20a 30px,#ebec0b 40px,#dfeb16 42px,#c7ea2c 45px,#59e392 67px,#1ce0ca 78px,#00dee4 82px,#0197e4 92px,#0347e4 105px,#0419e4 120px,#0406e4 136px,#0404e4 206px,#0404e4)"></i><i style="background:linear-gradient(90deg,#e81f0c,#ecd20a 30px,#ebec0b 40px,#dfeb16 42px,#c7ea2c 45px,#53e397 68px,#15dfd1 79px,#00dde4 82px,#0195e4 92px,#0346e4 105px,#0418e4 120px,#0406e4 136px,#0404e4 224px,#0404e4)"></i><i style="background:linear-gradient(90deg,#e81f0c,#ecd20a 30px,#ebec0b 40px,#e0eb15 42px,#c7ea2c 45px,#52e398 68px,#14dfd1 79px,#00dce4 82px,#019ae4 91px,#0345e4 105px,#0418e4 120px,#0406e4 136px,#0404e4)"></i><i style="background:linear-gradient(90deg,#e8200c,#ecd20a 30px,#ebec0a 40px,#e0eb15 42px,#c7ea2c 45px,#4ce39d 69px,#13dfd2 79px,#00dbe4 82px,#0199e4 91px,#0344e4 105px,#0418e4 120px,#0406e4 136px,#0404e4)"></i><i style="background:linear-gradient(90deg,#e8200c,#ecd20a 30px,#ecec0a 40px,#e0eb15 42px,#c8ea2c 45px,#46e2a3 70px,#13dfd3 79px,#04dee0 81px,#00d2e4 83px,#0197e4 91px,#0343e4 105px,#0417e4 120px,#0406e4 136px,#0404e4)"></i><i style="background:linear-gradient(90deg,#e8200c,#ecd20a 30px,#ecec0a 40px,#e0eb15 42px,#c8ea2c 45px,#40e2a9 71px,#0bdfda 80px,#03dee1 81px,#00cae4 84px,#0196e4 91px,#0341e4 105px,#0417e4 120px,#0406e4 136px,#0404e4)"></i><i style="background:linear-gradient(90deg,#e8200c,#ecd10a 30px,#ecec0a 40px,#e1eb14 42px,#c8ea2b 45px,#35e1b3 73px,#0adfdb 80px,#02dee2 81px,#0194e4 91px,#0340e4 105px,#0416e4 120px,#0406e4 136px,#0404e4)"></i><i style="background:linear-gradient(90deg,#e8200c,#ecd10a 30px,#ecec0a 40px,#e9ec0d 41px,#c8ea2b 45px,#2fe1b9 74px,#09dfdb 80px,#01dee3 81px,#0193e4 91px,#033fe4 105px,#0416e4 120px,#0406e4 136px,#0404e4)"></i><i style="background:linear-gradient(90deg,#e8200c,#ecd10a 30px,#eceb0a 40px,#e9ec0d 41px,#c8ea2b 45px,#28e0bf 75px,#00dee4 81px,#0191e4 91px,#033ee4 105px,#0416e4 120px,#0406e4 136px,#0404e4)"></i><i style="background:linear-gradient(90deg,#e8200c,#ecd10a 30px,#eceb0a 40px,#e9ec0d 41px,#c8ea2b 45px,#28e0bf 75px,#00dde4 81px,#0196e4 90px,#033de4 105px,#0415e4 120px,#0405e4 136px,#0404e4)"></i><i style="background:linear-gradient(90deg,#e8200c,#ecd10a 30px,#eceb0a 40px,#e9ec0c 41px,#c8ea2b 45px,#27e0c0 75px,#00dce4 81px,#0195e4 90px,#033ce4 105px,#0415e4 120px,#0405e4 136px,#0404e4)"></i><i style="background:linear-gradient(90deg,#e8210c,#ecd10a 30px,#eceb0a 40px,#eaec0c 41px,#c9ea2b 45px,#20e0c7 76px,#00dbe4 81px,#0193e4 90px,#033be4 105px,#0415e4 120px,#0405e4 136px,#0404e4)"></i><i style="background:linear-gradient(90deg,#e8210c,#ecd10a 30px,#eaec0c 41px,#c9ea2b 45px,#1fe0c7 76px,#05dedf 80px,#00dbe4 81px,#0192e4 90px,#033ae4 105px,#0414e4 120px,#0405e4 136px,#0404e4)"></i><i style="background:linear-gradient(90deg,#e8210c,#ecd10a 30px,#eaec0b 41px,#c9ea2b 45px,#1ee0c8 76px,#04dee0 80px,#00dae4 81px,#0190e4 90px,#0339e4 105px,#0414e4 120px,#0405e4 137px,#0404e4)"></i><i style="background:linear-gradient(90deg,#e8210c,#ecd00a 30px,#ebec0b 41px,#c9ea2a 45px,#17dfcf 77px,#03dee1 80px,#00d1e4 82px,#018fe4 90px,#0338e4 105px,#0412e4 121px,#0405e4 137px,#0404e4)"></i><i style="background:linear-gradient(90deg,#e8210c,#ecd00a 30px,#ebec0b 41px,#c9ea2a 45px,#16dfcf 77px,#03dee2 80px,#01bfe4 84px,#018de4 90px,#0337e4 105px,#0412e4 121px,#0405e4 137px,#0404e4)"></i><i style="background:linear-gradient(90deg,#e8210c,#ebd00a 30px,#ebec0b 41px,#c9ea2a 45px,#16dfd0 77px,#02dee2 80px,#028ce4 90px,#0336e4 105px,#0412e4 121px,#0405e4 137px,#0404e4)"></i><i style="background:linear-gradient(90deg,#e8210c,#ebd00a 30px,#ecec0a 41px,#c9ea2a 45px,#15dfd1 77px,#01dee3 80px,#028ae4 90px,#0335e4 105px,#0411e4 121px,#0404e4 137px,#0404e4)"></i><i style="background:linear-gradient(90deg,#e8220c,#ebd00a 30px,#ecec0a 41px,#c9ea2a 45px,#14dfd1 77px,#00dee4 80px,#0289e4 90px,#0334e4 105px,#0411e4 121px,#0404e4 137px,#0404e4)"></i><i style="background:linear-gradient(90deg,#e8220c,#ebd00a 30px,#ecec0a 41px,#caea2a 45px,#13dfd2 77px,#00dde4 80px,#0288e4 90px,#0333e4 105px,#0410e4 121px,#0404e4 137px,#0404e4)"></i><i style="background:linear-gradient(90deg,#e8220c,#ebd00a 30px,#eceb0a 41px,#caea2a 45px,#13dfd3 77px,#00dce4 80px,#0286e4 90px,#0332e4 105px,#0410e4 121px,#0404e4 137px,#0404e4)"></i><i style="background:linear-gradient(90deg,#e8220c,#ebcf0a 30px,#eceb0a 41px,#caea2a 45px,#12dfd4 77px,#00dce4 80px,#0285e4 90px,#0331e4 105px,#0410e4 121px,#0404e4 137px,#0404e4)"></i><i style="background:linear-gradient(90deg,#e8220c,#ebcf0a 30px,#ecec0a 41px,#caea2a 45px,#10dfd5 77px,#03dee1 79px,#00dae4 80px,#0283e4 90px,#0330e4 105px,#0410e4 121px,#0404e4 137px,#0404e4)"></i><i style="background:linear-gradient(90deg,#e8220c,#ebcf0a 30px,#ecec0a 41px,#c9ea2a 45px,#0edfd7 77px,#01dee3 79px,#00c6e4 82px,#0281e4 90px,#032fe4 105px,#040fe4 121px,#0404e4 137px,#0404e4)"></i><i style="background:linear-gradient(90deg,#e8220c,#ebcf0a 30px,#ebec0b 41px,#c9ea2a 45px,#13dfd2 76px,#00dde4 79px,#027fe4 90px,#032ee4 105px,#040fe4 121px,#0404e4 137px,#0404e4)"></i><i style="background:linear-gradient(90deg,#e8230c,#ebcf0a 30px,#ebec0b 41px,#c9ea2b 45px,#11dfd4 76px,#04dee1 78px,#00d4e4 80px,#027ee4 90px,#032ee4 105px,#040fe4 121px,#0404e4 137px,#0404e4)"></i><i style="background:linear-gradient(90deg,#e8230c,#ebcf0a 30px,#eaec0c 41px,#c8ea2b 45px,#10dfd6 76px,#02dee2 78px,#00d3e4 80px,#027ce4 90px,#032de4 105px,#040fe4 121px,#0404e4 137px,#0404e4)"></i><i style="background:linear-gradient(90deg,#e8230c,#ebcf0a 30px,#eceb0a 40px,#eaec0c 41px,#c2ea31 46px,#0edfd7 76px,#00dee4 78px,#00c8e4 81px,#027ae4 90px,#032ce4 105px,#040ee4 121px,#0404e4 137px,#0404e4)"></i><i style="background:linear-gradient(90deg,#e8230c,#ebcf0a 30px,#ecec0a 40px,#e9ec0c 41px,#c2e931 46px,#13dfd2 75px,#00dce4 78px,#00c6e4 81px,#0279e4 90px,#032fe4 104px,#040fe4 120px,#0404e4 137px,#0404e4)"></i><i style="background:linear-gradient(90deg,#e8230c,#ebbd0a 27px,#ebce0a 30px,#ecec0a 40px,#e9ec0d 41px,#c1e931 46px,#3de2ac 68px,#03dee1 77px,#00d4e4 79px,#0277e4 90px,#032ee4 104px,#040fe4 120px,#0404e4 137px,#0404e4)"></i><i style="background:linear-gradient(90deg,#e8230c,#ebb10b 25px,#ebce0a 30px,#ecec0a 40px,#e8ec0d 41px,#c1e932 46px,#42e2a7 67px,#02dee3 77px,#00cbe4 80px,#0275e4 90px,#0337e4 102px,#032ae4 105px,#040ee4 121px,#0404e4 138px,#0404e4)"></i><i style="background:linear-gradient(90deg,#e8230c,#eba50b 23px,#ebce0a 30px,#ebec0b 40px,#e8ec0e 41px,#c1e932 46px,#46e2a3 66px,#07dede 76px,#00dee4 77px,#01c1e4 81px,#0273e4 90px,#0340e4 100px,#0329e4 105px,#040de4 121px,#0404e4 138px,#0404e4)"></i><i style="background:linear-gradient(90deg,#e8230c,#eb9f0b 22px,#ebce0a 30px,#ebec0b 40px,#e0eb15 42px,#c0e932 46px,#4be29f 65px,#0cdfd9 75px,#00dce4 77px,#01bfe4 81px,#0272e4 90px,#0343e4 99px,#0328e4 105px,#040de4 121px,#0404e4 138px,#0404e4)"></i><i style="background:linear-gradient(90deg,#e8240c,#eb990b 21px,#ebce0a 30px,#eaec0c 40px,#dfeb16 42px,#c0e933 46px,#4fe39b 64px,#12dfd4 74px,#03dee1 76px,#00d4e4 78px,#01b4e4 82px,#0270e4 90px,#0342e4 99px,#0328e4 105px,#040de4 121px,#0404e4 138px,#0404e4)"></i><i style="background:linear-gradient(90deg,#e8240c,#ea930b 20px,#ebce0a 30px,#eaec0c 40px,#dfeb16 42px,#c0e933 46px,#4ee39c 64px,#10dfd5 74px,#02dee2 76px,#00c4e4 80px,#026ee4 90px,#0345e4 98px,#0327e4 105px,#040de4 121px,#0404e4 138px,#0404e4)"></i><i style="background:linear-gradient(90deg,#e8240c,#ea930b 20px,#ebce0a 30px,#eceb0a 39px,#e6ec10 41px,#bfe933 46px,#4de39d 64px,#15dfd0 73px,#00dee4 76px,#01b9e4 81px,#026ce4 90px,#0344e4 98px,#0326e4 105px,#040ce4 121px,#0404e4 138px,#0404e4)"></i><i style="background:linear-gradient(90deg,#e8240c,#ea8d0b 19px,#ebce0a 30px,#eceb0a 39px,#e5ec10 41px,#b8e93a 47px,#52e399 63px,#1ae0cc 72px,#00dce4 76px,#01b7e4 81px,#026be4 90px,#0347e4 97px,#0325e4 105px,#040ce4 121px,#0404e4 138px,#0404e4)"></i><i style="background:linear-gradient(90deg,#e8240c,#ea8c0b 19px,#ebcd0a 30px,#ecec0a 39px,#e5ec11 41px,#b8e93a 47px,#50e39a 63px,#19dfcd 72px,#04dee0 75px,#00dbe4 76px,#01b6e4 81px,#0269e4 90px,#0345e4 97px,#0324e4 105px,#040ce4 121px,#0404e4 139px,#0404e4)"></i><i style="background:linear-gradient(90deg,#e8240c,#ea8c0b 19px,#ebcd0a 30px,#ecec0a 39px,#e4ec11 41px,#b7e93b 47px,#4fe39b 63px,#18dfce 72px,#02dee2 75px,#01bde4 80px,#0267e4 90px,#0344e4 97px,#0324e4 105px,#040ce4 121px,#0404e4 139px,#0404e4)"></i><i style="background:linear-gradient(90deg,#e8240c,#ea860b 18px,#ebcd0a 30px,#ecec0a 39px,#e4ec12 41px,#b0e841 48px,#4ee39c 63px,#16dfd0 72px,#01dee3 75px,#01b2e4 81px,#0266e4 90px,#0342e4 97px,#0323e4 105px,#040ce4 120px,#0404e4 139px,#0404e4)"></i><i style="background:linear-gradient(90deg,#e8250c,#ea860b 18px,#ebcd0a 30px,#ebec0b 39px,#e3eb12 41px,#a9e848 49px,#53e398 62px,#1ce0ca 71px,#00dde4 75px,#01b0e4 81px,#0264e4 90px,#0345e4 96px,#0322e4 105px,#040ce4 120px,#0404e4 139px,#0404e4)"></i><i style="background:linear-gradient(90deg,#e8250c,#ea850b 18px,#ebcd0a 30px,#ebec0b 39px,#e3eb13 41px,#a2e84f 50px,#52e399 62px,#1ae0cc 71px,#00dbe4 75px,#01aee4 81px,#0262e4 90px,#0343e4 96px,#0321e4 105px,#040be4 120px,#0404e4 139px,#0404e4)"></i><i style="background:linear-gradient(90deg,#e8250c,#ea850b 18px,#ebcd0a 30px,#ebec0b 39px,#dbeb1a 42px,#9ae756 51px,#50e39a 62px,#19dfcd 71px,#03dee1 74px,#00d3e4 76px,#01a4e4 82px,#0260e4 90px,#0342e4 96px,#0321e4 105px,#040be4 120px,#0404e4 140px,#0404e4)"></i><i style="background:linear-gradient(90deg,#e8250c,#ea850b 18px,#ebcd0a 30px,#eaec0c 39px,#dbeb1a 42px,#77e576 56px,#43e2a6 64px,#18dfce 71px,#01dee3 74px,#01abe4 81px,#025fe4 90px,#0340e4 96px,#0320e4 105px,#040be4 120px,#0404e4 140px,#0404e4)"></i><i style="background:linear-gradient(90deg,#e8250c,#ea7f0b 17px,#ebcc0a 30px,#eaec0c 39px,#daeb1a 42px,#5ae391 60px,#16dfcf 71px,#00dee4 74px,#01a9e4 81px,#025de4 90px,#033fe4 96px,#041fe4 105px,#040ce4 119px,#0404e4 140px,#0404e4)"></i><i style="background:linear-gradient(90deg,#e8250c,#ea7e0b 17px,#ebcc0a 30px,#ecea0a 38px,#e1eb14 41px,#53e397 61px,#15dfd1 71px,#00dce4 74px,#01a7e4 81px,#025be4 90px,#033de4 96px,#041ee4 105px,#040be4 119px,#0404e4 140px,#0404e4)"></i><i style="background:linear-gradient(90deg,#e8250c,#ea7e0b 17px,#ebcc0a 30px,#eceb0a 38px,#e0eb15 41px,#52e399 61px,#14dfd2 71px,#04dee0 73px,#00dbe4 74px,#019ce4 82px,#025ae4 90px,#033ce4 96px,#041ce4 106px,#040ae4 120px,#0404e4 141px,#0404e4)"></i><i style="background:linear-gradient(90deg,#e8260c,#ea7e0b 17px,#ebcc0a 30px,#eceb0a 38px,#e0eb15 41px,#51e39a 61px,#12dfd3 71px,#03dee1 73px,#00cbe4 76px,#0192e4 83px,#0258e4 90px,#033ae4 96px,#041be4 106px,#040be4 119px,#0404e4 141px,#0404e4)"></i><i style="background:linear-gradient(90deg,#e8260c,#ea7e0b 17px,#ebcc0a 30px,#eceb0a 38px,#d8eb1c 42px,#4fe39b 61px,#19dfcd 70px,#01dee3 73px,#01a1e4 81px,#0256e4 90px,#0338e4 96px,#041ae4 106px,#040ae4 119px,#0404e4 141px,#0404e4)"></i><i style="background:linear-gradient(90deg,#e8260c,#ea7d0b 17px,#ebcc0a 30px,#eceb0a 38px,#d8eb1d 42px,#4ee39c 61px,#17dfce 70px,#00dee4 73px,#0197e4 82px,#0354e4 90px,#0337e4 96px,#041ae4 106px,#040ae4 119px,#0404e4 142px,#0404e4)"></i><i style="background:linear-gradient(90deg,#e8260c,#ea7d0b 17px,#ebcc0a 30px,#ecec0a 38px,#d7eb1d 42px,#4de39d 61px,#16dfd0 70px,#00dce4 73px,#0195e4 82px,#0353e4 90px,#0335e4 96px,#0419e4 106px,#040be4 118px,#0404e4 141px,#0404e4)"></i><i style="background:linear-gradient(90deg,#e8260c,#ea7d0b 17px,#ebcc0a 30px,#ecec0a 38px,#d7eb1d 42px,#4ce39e 61px,#15dfd1 70px,#05dee0 72px,#00dbe4 73px,#0193e4 82px,#0351e4 90px,#0337e4 95px,#0418e4 106px,#040be4 117px,#0404e4 141px,#0404e4)"></i><i style="background:linear-gradient(90deg,#e8260c,#ea7d0b 17px,#ebcf0a 31px,#ecec0a 38px,#d7eb1e 42px,#4be29f 61px,#14dfd2 70px,#03dee1 72px,#00d2e4 74px,#0281e4 84px,#034fe4 90px,#0335e4 95px,#0417e4 106px,#040be4 117px,#0404e4 141px,#0404e4)"></i><i style="background:linear-gradient(90deg,#e8260c,#ea760b 16px,#ebcf0a 31px,#ebec0a 38px,#d6eb1e 42px,#4ae2a0 61px,#12dfd3 70px,#02dee2 72px,#0198e4 81px,#034de4 90px,#0334e4 95px,#0417e4 106px,#040ae4 117px,#0404e4 142px,#0404e4)"></i><i style="background:linear-gradient(90deg,#e8260c,#ea760b 16px,#ebcf0a 31px,#ebec0b 38px,#d6eb1f 42px,#48e2a1 61px,#11dfd4 70px,#00dee4 72px,#0285e4 83px,#034ce4 90px,#0332e4 95px,#0416e4 106px,#040be4 116px,#0404e4 142px,#0404e4)"></i><i style="background:linear-gradient(90deg,#e8270c,#ea760b 16px,#ebcf0a 31px,#ebec0b 38px,#d5eb1f 42px,#47e2a2 61px,#10dfd6 70px,#00dde4 72px,#026ae4 86px,#034ae4 90px,#0330e4 95px,#0414e4 107px,#0409e4 118px,#0404e4 145px,#0404e4)"></i><i style="background:linear-gradient(90deg,#e8270c,#ea760b 16px,#ebcf0a 31px,#ebec0b 38px,#d5eb20 42px,#46e2a3 61px,#0edfd7 70px,#00dce4 72px,#0348e4 90px,#032fe4 95px,#0413e4 107px,#0409e4 118px,#0404e4 146px,#0404e4)"></i><i style="background:linear-gradient(90deg,#e8270c,#ea750b 16px,#ebcf0a 31px,#eaec0c 38px,#cdea26 43px,#45e2a4 61px,#0ddfd8 70px,#05dee0 71px,#00dae4 72px,#0347e4 90px,#032de4 95px,#0412e4 107px,#0409e4 117px,#0404e4 146px,#0404e4)"></i><i style="background:linear-gradient(90deg,#e8270c,#ea750b 16px,#ebcf0a 31px,#eaec0c 38px,#cdea27 43px,#44e2a5 61px,#0cdfd9 70px,#03dee1 71px,#00d1e4 73px,#0345e4 90px,#032be4 95px,#0411e4 107px,#0409e4 117px,#0404e4 148px,#0404e4)"></i><i style="background:linear-gradient(90deg,#e8270c,#ea750b 16px,#ebcf0a 31px,#eaec0c 38px,#ccea27 43px,#43e2a6 61px,#0adfda 70px,#02dee2 71px,#0274e4 84px,#0343e4 90px,#032ae4 95px,#040fe4 108px,#0407e4 121px,#0404e4 176px,#0404e4)"></i><i style="background:linear-gradient(90deg,#e8270c,#ea750b 16px,#ebcf0a 31px,#ece90a 37px,#dfeb16 40px,#b6e93c 46px,#41e2a8 61px,#09dfdc 70px,#00dee4 71px,#0341e4 90px,#0328e4 95px,#040ee4 108px,#0407e4 120px,#0404e4 183px,#0404e4)"></i><i style="background:linear-gradient(90deg,#e8270c,#ea740b 16px,#ebcf0a 31px,#ecea0a 37px,#d9eb1c 41px,#aee843 47px,#40e2a9 61px,#08dedd 70px,#00dde4 71px,#0340e4 90px,#0326e4 95px,#040ce4 109px,#0405e4 129px,#0404e4)"></i><i style="background:linear-gradient(90deg,#e8280c,#ea740b 16px,#ebcf0a 31px,#ecea0a 37px,#d8eb1c 41px,#aee844 47px,#45e2a4 60px,#00dce4 71px,#033ee4 90px,#0325e4 95px,#040ae4 110px,#0404e4 139px,#0404e4)"></i><i style="background:linear-gradient(90deg,#e8280c,#ea740b 16px,#ebcf0a 31px,#ecea0a 37px,#d1ea23 42px,#ade844 47px,#44e2a5 60px,#05dedf 70px,#00dbe4 71px,#033ce4 90px,#0323e4 95px,#040ae4 110px,#0404e4 143px,#0404e4)"></i><i style="background:linear-gradient(90deg,#e8280c,#ea730b 16px,#ebcf0a 31px,#ecea0a 37px,#caea29 43px,#a5e84c 48px,#43e2a6 60px,#04dee0 70px,#00d9e4 71px,#033be4 90px,#0321e4 95px,#0408e4 111px,#0404e4 158px,#0404e4)"></i><i style="background:linear-gradient(90deg,#e8280c,#ea730b 16px,#ebce0a 31px,#ecea0a 37px,#c4ea2f 44px,#42e2a7 60px,#03dee1 70px,#00c7e4 73px,#0340e4 89px,#0320e4 95px,#0407e4 111px,#0404e4 170px,#0404e4)"></i><i style="background:linear-gradient(90deg,#e8280c,#ea730b 16px,#ebce0a 31px,#eceb0a 37px,#bce936 45px,#41e2a8 60px,#01dee3 70px,#033ee4 89px,#041ee4 95px,#0407e4 111px,#0404e4 203px,#0404e4)"></i><i style="background:linear-gradient(90deg,#e8280c,#ea730b 16px,#ebce0a 31px,#eceb0a 37px,#bce936 45px,#3fe2a9 60px,#00dee4 70px,#0345e4 88px,#0330e4 91px,#041de4 95px,#0406e4 112px,#0404e4)"></i><i style="background:linear-gradient(90deg,#e8280c,#ea720b 16px,#ebce0a 31px,#eceb0a 37px,#bce936 45px,#3ee2aa 60px,#00dde4 70px,#034be4 87px,#0334e4 90px,#041be4 95px,#0405e4 112px,#0404e4)"></i><i style="background:linear-gradient(90deg,#e8280c,#ea720b 16px,#ebce0a 31px,#eceb0a 37px,#bce937 45px,#3de2ab 60px,#00dce4 70px,#0352e4 86px,#0332e4 90px,#0419e4 95px,#0405e4 112px,#0404e4)"></i><i style="background:linear-gradient(90deg,#e8290c,#ea720b 16px,#ebce0a 31px,#ecec0a 37px,#bbe937 45px,#3ce2ad 60px,#04dee0 69px,#00dbe4 70px,#0258e4 85px,#0330e4 90px,#0418e4 95px,#0404e4 112px,#0404e4)"></i><i style="background:linear-gradient(90deg,#e92e0c,#ea780b 16px,#ecd50a 31px,#eaec0c 36px,#b4e93e 45px,#36e1b2 60px,#00dde4 69px,#034de4 86px,#032fe4 90px,#0417e4 95px,#0404e4 112px,#0404e4)"></i><i style="background:linear-gradient(90deg,#e9350c,#ea810b 16px,#ecdf0a 31px,#ebec0b 34px,#aae847 45px,#30e1b8 60px,#00dde4 68px,#00c8e4 71px,#0353e4 85px,#032de4 90px,#0416e4 95px,#0404e4 112px,#0404e4)"></i><i style="background:linear-gradient(90deg,#e93c0c,#ea890b 16px,#ece80a 31px,#ebec0b 32px,#b3e93f 42px,#99e757 46px,#29e0be 60px,#00dce4 67px,#01c2e4 71px,#0257e4 84px,#032ce4 90px,#0415e4 95px,#0404e4 112px,#0404e4)"></i><i style="background:linear-gradient(90deg,#e9430c,#ea910b 16px,#ecec0a 30px,#afe842 41px,#8fe760 46px,#1de0ca 61px,#00dce4 66px,#00c5e4 70px,#0354e4 84px,#032ae4 90px,#0414e4 95px,#0404e4 112px,#0404e4)"></i><i style="background:linear-gradient(90deg,#e94a0b,#eb990b 16px,#ece80a 28px,#e2eb13 30px,#a6e84b 41px,#86e668 46px,#16dfd0 61px,#00dce4 65px,#01bfe4 70px,#0351e4 84px,#0329e4 90px,#0414e4 95px,#0404e4 112px,#0404e4)"></i><i style="background:linear-gradient(90deg,#e9510b,#eba10b 16px,#eceb0a 27px,#c9ea2b 33px,#84e66a 45px,#0fdfd6 61px,#00dce4 64px,#01b9e4 70px,#034ee4 84px,#0327e4 90px,#0413e4 95px,#0404e4 113px,#0404e4)"></i><i style="background:linear-gradient(90deg,#e9590b,#ebaa0b 16px,#ebec0b 26px,#c9ea2a 31px,#87e667 43px,#41e2a8 53px,#03dee1 62px,#00d0e4 65px,#01b4e4 70px,#034be4 84px,#0326e4 90px,#0412e4 95px,#0404e4 113px,#0404e4)"></i><i style="background:linear-gradient(90deg,#e9600b,#ebb20b 16px,#ece80a 24px,#e1eb14 26px,#c0e933 31px,#77e576 44px,#02dee2 61px,#01bfe4 67px,#01a7e4 71px,#034ee4 83px,#0325e4 90px,#0411e4 95px,#0404e4 113px,#0404e4)"></i><i style="background:linear-gradient(90deg,#ea670b,#ebba0a 16px,#ecea0a 23px,#b6e93c 31px,#68e484 45px,#02dee2 60px,#01a8e4 70px,#034be4 83px,#031fe4 91px,#0411e4 95px,#0404e4 113px,#0404e4)"></i><i style="background:linear-gradient(90deg,#ea6e0b,#ebc20a 16px,#ecec0a 22px,#ace845 31px,#5ee48d 45px,#01dee3 59px,#01a3e4 70px,#0348e4 83px,#041ee4 91px,#040fe4 96px,#0404e4 113px,#0404e4)"></i><i style="background:linear-gradient(90deg,#ea750b,#ebca0a 16px,#eaec0c 21px,#a7e849 30px,#55e395 45px,#01dee3 58px,#019de4 70px,#0344e4 83px,#041de4 91px,#040ee4 96px,#0404e4 114px,#0404e4)"></i><i style="background:linear-gradient(90deg,#ea7c0b,#ecd30a 16px,#ece80a 19px,#e9ec0d 20px,#9ee752 30px,#4ce29e 45px,#00dee4 57px,#0191e4 71px,#0341e4 83px,#041be4 91px,#040de4 96px,#0404e4 114px,#0404e4)"></i><i style="background:linear-gradient(90deg,#ea830b,#ecdb0a 16px,#ece90a 18px,#e0eb15 20px,#94e75b 30px,#3ce2ad 46px,#00dde4 56px,#028be4 71px,#033ee4 83px,#041ae4 91px,#040de4 96px,#0404e4 115px,#0404e4)"></i><i style="background:linear-gradient(90deg,#ea8a0b,#ece30a 16px,#ecea0a 17px,#8ae664 30px,#27e0c0 48px,#00dce4 55px,#0286e4 71px,#033ae4 83px,#0419e4 91px,#040ce4 96px,#0404e4 115px,#0404e4)"></i><i style="background:linear-gradient(90deg,#ea910b,#eceb0a 16px,#80e66d 30px,#02dee2 53px,#0280e4 71px,#0337e4 83px,#0415e4 92px,#040be4 96px,#0404e4 116px,#0404e4)"></i><i style="background:linear-gradient(90deg,#ea980b,#ecec0a 15px,#77e577 30px,#00dde4 52px,#027be4 71px,#0334e4 83px,#0413e4 92px,#040ae4 96px,#0404e4 117px,#0404e4)"></i><i style="background:linear-gradient(90deg,#eb9f0b,#ece90a 13px,#e3eb12 15px,#6de480 30px,#02dee2 50px,#0281e4 69px,#0331e4 83px,#0410e4 93px,#0409e4 97px,#0404e4 119px,#0404e4)"></i><i style="background:linear-gradient(90deg,#eba60b,#eceb0a 12px,#d3ea21 16px,#63e489 30px,#04dee1 48px,#00d8e4 50px,#0275e4 70px,#032de4 83px,#040fe4 93px,#0409e4 97px,#0404e4 121px,#0404e4)"></i><i style="background:linear-gradient(90deg,#ebad0b,#ebec0b 11px,#caea29 16px,#59e392 30px,#00dee4 47px,#0289e4 65px,#032ae4 83px,#040be4 94px,#0406e4 104px,#0404e4)"></i><i style="background:linear-gradient(90deg,#ebb40b,#ece90a 9px,#e3eb13 11px,#c1e931 16px,#4fe39b 30px,#00dee4 45px,#018de4 63px,#0327e4 83px,#0408e4 95px,#0404e4 123px,#0404e4)"></i><i style="background:linear-gradient(90deg,#ebbb0a,#eceb0a 8px,#b9e939 16px,#46e2a4 30px,#01dee3 43px,#0287e4 63px,#0323e4 83px,#0408e4 95px,#0404e4 129px,#0404e4)"></i><i style="background:linear-gradient(90deg,#ebc20a,#ecec0a 7px,#b0e842 16px,#3ce2ad 30px,#02dee2 41px,#0286e4 62px,#0323e4 82px,#0407e4 95px,#0404e4 143px,#0404e4)"></i><i style="background:linear-gradient(90deg,#ebc90a,#eaec0c 6px,#a7e84a 16px,#32e1b6 30px,#03dee1 39px,#00d7e4 41px,#01b8e4 48px,#0280e4 62px,#0320e4 82px,#0405e4 96px,#0404e4)"></i><i style="background:linear-gradient(90deg,#ebd00a,#ece90a 4px,#e2eb13 6px,#9ee752 16px,#28e0bf 30px,#00dde4 38px,#01b4e4 47px,#027fe4 61px,#0325e4 80px,#0419e4 83px,#0405e4 96px,#0404e4)"></i><i style="background:linear-gradient(90deg,#ecd70a,#ece90a 3px,#dbeb1a 6px,#96e75a 16px,#1ee0c8 30px,#00dde4 36px,#01afe4 46px,#0279e4 61px,#0326e4 79px,#0417e4 83px,#0404e4 97px,#0404e4)"></i><i style="background:linear-gradient(90deg,#ecdb0a,#e9ec0c 3px,#8ce662 16px,#14dfd1 30px,#00dee4 34px,#01a7e4 46px,#0273e4 61px,#0324e4 79px,#0416e4 83px,#0404e4 97px,#0404e4)"></i><i style="background:linear-gradient(90deg,#ecdf0a,#ebec0b 2px,#83e66b 16px,#0adfda 30px,#00dee4 32px,#019fe4 46px,#0269e4 62px,#041fe4 80px,#0413e4 84px,#0404e4 97px,#0404e4)"></i><i style="background:linear-gradient(90deg,#ece30a,#ecea0a 1px,#9ae756 12px,#71e57b 17px,#00dee4 30px,#0197e4 46px,#0263e4 62px,#041de4 80px,#0413e4 84px,#0404e4 97px,#0404e4)"></i><i style="background:linear-gradient(90deg,#ece70a,#eaec0c 1px,#71e57c 16px,#07dede 28px,#00dce4 29px,#00cce4 32px,#0190e4 46px,#0259e4 63px,#0418e4 81px,#040fe4 86px,#0404e4 97px,#0404e4)"></i><i style="background:linear-gradient(90deg,#eceb0a,#5fe48d 17px,#05dee0 27px,#00dbe4 28px,#00cce4 30px,#0288e4 46px,#0350e4 64px,#0414e4 82px,#0404e4 97px,#0404e4)"></i><i style="background:linear-gradient(90deg,#e9ec0d,#4ce39e 18px,#03dee1 26px,#00d1e4 28px,#01c2e4 30px,#0280e4 46px,#0348e4 65px,#0413e4 82px,#0404e4 97px,#0404e4)"></i><i style="background:linear-gradient(90deg,#e5ec11,#39e1af 19px,#01dee3 25px,#01b9e4 30px,#0278e4 46px,#0337e4 69px,#0410e4 83px,#0404e4 98px,#0404e4)"></i><i style="background:linear-gradient(90deg,#e0eb15,#1ce0ca 21px,#00dde4 24px,#01b0e4 30px,#0270e4 46px,#0411e4 82px,#0404e4 98px,#0404e4)"></i><i style="background:linear-gradient(90deg,#dceb19,#00dde4 23px,#01a7e4 30px,#0268e4 46px,#040fe4 82px,#0404e4 98px,#0404e4)"></i><i style="background:linear-gradient(90deg,#d8eb1d,#00dde4 22px,#01ace4 28px,#019de4 30px,#0261e4 46px,#040ee4 82px,#0404e4 98px,#0404e4)"></i><i style="background:linear-gradient(90deg,#d3eb21,#09dfdc 20px,#00dde4 21px,#01b9e4 25px,#0194e4 30px,#0259e4 46px,#0413e4 79px,#040ae4 86px,#0404e4 100px,#0404e4)"></i><i style="background:linear-gradient(90deg,#cfea25,#1ee0c9 17px,#00dde4 20px,#01b0e4 25px,#028be4 30px,#0351e4 46px,#041de4 72px,#040be4 84px,#0404e4 101px,#0404e4)"></i><i style="background:linear-gradient(90deg,#cbea29,#1fe0c8 16px,#00dee4 19px,#01a6e4 25px,#0281e4 30px,#0349e4 46px,#0323e4 66px,#040ae4 84px,#0404e4 102px,#0404e4)"></i><i style="background:linear-gradient(90deg,#c6ea2d,#20e0c7 15px,#00dee4 18px,#019de4 25px,#0278e4 30px,#0341e4 46px,#0321e4 64px,#0408e4 85px,#0404e4 105px,#0404e4)"></i><i style="background:linear-gradient(90deg,#c2ea31,#17dfcf 15px,#02dee2 17px,#0194e4 25px,#026fe4 30px,#0339e4 46px,#041de4 63px,#0408e4 85px,#0404e4 109px,#0404e4)"></i><i style="background:linear-gradient(90deg,#bee935,#0edfd7 15px,#03dee1 16px,#00cde4 18px,#0192e4 24px,#0266e4 30px,#0331e4 46px,#0418e4 62px,#0407e4 86px,#0404e4 132px,#0404e4)"></i><i style="background:linear-gradient(90deg,#b9e939,#0fdfd6 14px,#05dee0 15px,#00d8e4 16px,#0288e4 24px,#025ce4 30px,#032ae4 46px,#0412e4 62px,#0405e4 89px,#0404e4)"></i><i style="background:linear-gradient(90deg,#b5e93d,#07dede 14px,#00dae4 15px,#027fe4 24px,#0353e4 30px,#0322e4 46px,#040de4 61px,#0404e4 96px,#0404e4)"></i><i style="background:linear-gradient(90deg,#b1e841,#0adfdb 13px,#00dce4 14px,#0275e4 24px,#034ae4 30px,#041ae4 46px,#0407e4 61px,#0404e4 165px,#0404e4)"></i>
</div>
<div class="t yt" style="left:22.2px;top:221.4px">2</div>
<div class="tk" style="left:56.2px;top:227px;width:2px;height:1px"></div>
<div class="tk" style="left:292.8px;top:227px;width:2px;height:1px"></div>
<div class="t yt" style="left:22.2px;top:270.631px">1.5</div>
<div class="tk" style="left:56.2px;top:276px;width:2px;height:1px"></div>
<div class="tk" style="left:292.8px;top:276px;width:2px;height:1px"></div>
<div class="t yt" style="left:22.2px;top:319.862px">1</div>
<div class="tk" style="left:56.2px;top:325px;width:2px;height:1px"></div>
<div class="tk" style="left:292.8px;top:325px;width:2px;height:1px"></div>
<div class="t yt" style="left:22.2px;top:369.092px">0.5</div>
<div class="tk" style="left:56.2px;top:374px;width:2px;height:1px"></div>
<div class="tk" style="left:292.8px;top:374px;width:2px;height:1px"></div>
<div class="tk" style="left:56.2px;top:227px;width:1px;height:2px"></div>
<div class="tk" style="left:56.2px;top:417px;width:1px;height:2px"></div>
<div class="tk" style="left:115px;top:227px;width:1px;height:2px"></div>
<div class="tk" style="left:115px;top:417px;width:1px;height:2px"></div>
<div class="tk" style="left:175px;top:227px;width:1px;height:2px"></div>
<div class="tk" style="left:175px;top:417px;width:1px;height:2px"></div>
<div class="tk" style="left:235px;top:227px;width:1px;height:2px"></div>
<div class="tk" style="left:235px;top:417px;width:1px;height:2px"></div>
<div class="tk" style="left:293.8px;top:227px;width:1px;height:2px"></div>
<div class="tk" style="left:293.8px;top:417px;width:1px;height:2px"></div>
<div class="l yl" style="left:28.1px;top:322.5px">Charging current  /  C</div>
<div class="t xt" style="left:36.5px;top:423.7px">-20</div>
<div class="t xt" style="left:96.15px;top:423.7px">0</div>
<div class="t xt" style="left:155.8px;top:423.7px">20</div>
<div class="t xt" style="left:215.45px;top:423.7px">40</div>
<div class="t xt" style="left:275.1px;top:423.7px">60</div>
<div class="l" style="left:175.8px;top:437.9px;transform:translateX(-50%)">Temperature  /  °C</div>
<div class="cb" style="left:305.8px;top:227px;width:9.1px;height:192px;background:linear-gradient(0deg,#0404e4 0.00%,#00dee4 33.33%,#ecec0a 66.67%,#e80e0c 100.00%)"></div>
<div class="t ct" style="left:317.8px;top:222px">0.12</div>
<div class="tk" style="left:312.4px;top:227px;width:2px;height:1px"></div>
<div class="t ct" style="left:317.8px;top:254px">0.1</div>
<div class="tk" style="left:312.4px;top:258.5px;width:2px;height:1px"></div>
<div class="t ct" style="left:317.8px;top:286px">0.08</div>
<div class="tk" style="left:312.4px;top:290.5px;width:2px;height:1px"></div>
<div class="t ct" style="left:317.8px;top:318px">0.06</div>
<div class="tk" style="left:312.4px;top:322.5px;width:2px;height:1px"></div>
<div class="t ct" style="left:317.8px;top:350px">0.04</div>
<div class="tk" style="left:312.4px;top:354.5px;width:2px;height:1px"></div>
<div class="t ct" style="left:317.8px;top:382px">0.02</div>
<div class="tk" style="left:312.4px;top:386.5px;width:2px;height:1px"></div>
<div class="t ct" style="left:317.8px;top:414px">0</div>
<div class="tk" style="left:312.4px;top:418px;width:2px;height:1px"></div>
<div class="l yl cl" style="left:347.2px;top:323px">Volume fraction SEI formed during cycle</div>
<div class="pl" style="left:364.6px;top:226.2px">d)</div>
<div class="p" style="left:424.3px;top:227px;width:237.8px;height:192px">
<i style="background:linear-gradient(90deg,#ece30a,#ea880b 8px,#e9500b 15px,#e8200c 31px,#e80e0c 46px,#e8100c 75px,#e9300c 89px,#ea760b 96px,#ece40a 104px,#e4ec11 105px,#7ce572 110px,#14dfd1 114px,#00dae4 115px,#01a0e4 119px,#033ee4 134px,#0416e4 150px,#0407e4 166px,#0404e4 215px,#0404e4)"></i><i style="background:linear-gradient(90deg,#ece30a,#ea880b 8px,#e9500b 15px,#e8200c 31px,#e80e0c 46px,#e8100c 75px,#e9320c 89px,#ea790b 96px,#ece70a 104px,#e0eb15 105px,#78e575 110px,#12dfd4 114px,#00d8e4 115px,#019fe4 119px,#033ee4 134px,#0416e4 150px,#0407e4 166px,#0404e4 218px,#0404e4)"></i><i style="background:linear-gradient(90deg,#ece30a,#ea880b 8px,#e9500b 15px,#e8200c 31px,#e80e0c 46px,#e8110c 75px,#e9340c 89px,#ea7c0b 96px,#eceb0a 104px,#dceb18 105px,#74e578 110px,#0fdfd6 114px,#00d6e4 115px,#019de4 119px,#033de4 134px,#0416e4 150px,#0407e4 166px,#0404e4 221px,#0404e4)"></i><i style="background:linear-gradient(90deg,#ece30a,#ea880b 8px,#e9500b 15px,#e8210c 31px,#e80e0c 46px,#e8110c 75px,#e9370c 89px,#ea7e0b 96px,#ece00a 103px,#e9ec0d 104px,#d8eb1c 105px,#71e57c 110px,#0cdfd9 114px,#00d3e4 115px,#019be4 119px,#033ce4 134px,#0415e4 150px,#0407e4 166px,#0404e4 226px,#0404e4)"></i><i style="background:linear-gradient(90deg,#ece30a,#ea880b 8px,#e9500b 15px,#e8210c 31px,#e80e0c 46px,#e8120c 75px,#e9390c 89px,#ea810b 96px,#ece40a 103px,#e5ec10 104px,#d4eb20 105px,#6de47f 110px,#09dfdc 114px,#00d1e4 115px,#019ae4 119px,#033ce4 134px,#0415e4 150px,#0406e4 166px,#0404e4 231px,#0404e4)"></i><i style="background:linear-gradient(90deg,#ece30a,#ea880b 8px,#e9500b 15px,#e8210c 31px,#e80e0c 46px,#e8130c 75px,#e93b0c 89px,#ea840b 96px,#ece70a 103px,#e1eb14 104px,#bbe937 106px,#69e483 110px,#06dede 114px,#00cfe4 115px,#0198e4 119px,#033be4 134px,#0415e4 150px,#0406e4 166px,#0404e4 237px,#0404e4)"></i><i style="background:linear-gradient(90deg,#ece30a,#ea880b 8px,#e9500b 15px,#e8210c 31px,#e80e0c 46px,#e8130c 75px,#e93d0c 89px,#ea870b 96px,#eceb0a 103px,#ccea27 105px,#66e486 110px,#03dee1 114px,#00cce4 115px,#0197e4 119px,#033ae4 134px,#0415e4 150px,#0406e4 166px,#0404e4)"></i><i style="background:linear-gradient(90deg,#ece30a,#ea880b 8px,#e9500b 15px,#e8210c 31px,#e80e0c 46px,#e8140c 75px,#e93c0c 88px,#e9400c 89px,#ea8a0b 96px,#ece00a 102px,#e9ec0c 103px,#c8ea2b 105px,#62e48a 110px,#00dee4 114px,#00cae4 115px,#0195e4 119px,#033ae4 134px,#0414e4 150px,#0406e4 166px,#0404e4)"></i><i style="background:linear-gradient(90deg,#ece30a,#ea880b 8px,#e9500b 15px,#e8210c 31px,#e80e0c 46px,#e8140c 75px,#e93e0c 88px,#e9420c 89px,#ea8d0b 96px,#ece30a 102px,#e6ec10 103px,#c4ea2f 105px,#5ee48d 110px,#16dfd0 113px,#00dce4 114px,#00c8e4 115px,#0193e4 119px,#0339e4 134px,#0414e4 150px,#0406e4 166px,#0404e4)"></i><i style="background:linear-gradient(90deg,#ece30a,#ea880b 8px,#e9500b 15px,#e8210c 31px,#e80e0c 46px,#e8130c 74px,#e93b0c 87px,#e9440c 89px,#ea8f0b 96px,#ece60a 102px,#e2eb13 103px,#c0e932 105px,#5ae391 110px,#12dfd3 113px,#00d9e4 114px,#00c5e4 115px,#0192e4 119px,#0338e4 134px,#0414e4 150px,#0406e4 166px,#0404e4)"></i><i style="background:linear-gradient(90deg,#ece30a,#ea880b 8px,#e9500b 15px,#e8210c 31px,#e80e0c 46px,#e8140c 74px,#e93d0c 87px,#e9460b 89px,#ea920b 96px,#ecea0a 102px,#ceea26 104px,#a7e84a 106px,#57e394 110px,#0fdfd6 113px,#00d6e4 114px,#00c3e4 115px,#0190e4 119px,#0338e4 134px,#0414e4 150px,#0406e4 166px,#0404e4)"></i><i style="background:linear-gradient(90deg,#ece30a,#ea880b 8px,#e9500b 15px,#e8210c 31px,#e80e0c 46px,#e8140c 74px,#e93f0c 87px,#e9480b 89px,#ea950b 96px,#ebec0b 102px,#b8e93a 105px,#3ce2ac 111px,#0cdfd9 113px,#00d4e4 114px,#01c1e4 115px,#018fe4 119px,#0337e4 134px,#0413e4 150px,#0406e4 166px,#0404e4)"></i><i style="background:linear-gradient(90deg,#ece30a,#ea880b 8px,#e9500b 15px,#e8210c 31px,#e80e0c 46px,#e8150c 74px,#e9410c 87px,#e94b0b 89px,#ea980b 96px,#ece10a 101px,#e7ec0e 102px,#b4e93d 105px,#39e1b0 111px,#09dfdc 113px,#00d1e4 114px,#01bee4 115px,#018de4 119px,#0336e4 134px,#0413e4 150px,#0406e4 167px,#0404e4)"></i><i style="background:linear-gradient(90deg,#ece30a,#ea880b 8px,#e9500b 15px,#e8210c 31px,#e80e0c 46px,#e8150c 74px,#e9420c 87px,#e94d0b 89px,#eb9b0b 96px,#ece40a 101px,#e4ec12 102px,#b0e841 105px,#35e1b3 111px,#06dedf 113px,#00cee4 114px,#01bce4 115px,#028be4 119px,#0336e4 134px,#0413e4 150px,#0406e4 167px,#0404e4)"></i><i style="background:linear-gradient(90deg,#ece30a,#ea880b 8px,#e9500b 15px,#e8210c 31px,#e80e0c 46px,#e8160c 74px,#e9440c 87px,#e94f0b 89px,#eb9d0b 96px,#ece70a 101px,#e0eb15 102px,#ace845 105px,#32e1b6 111px,#03dee2 113px,#01bae4 115px,#028ae4 119px,#0335e4 134px,#0413e4 150px,#0406e4 167px,#0404e4)"></i><i style="background:linear-gradient(90deg,#ece30a,#ea880b 8px,#e9500b 15px,#e8210c 31px,#e80e0c 46px,#e8160c 74px,#e9460b 87px,#e9510b 89px,#eba00b 96px,#eceb0a 101px,#a8e849 105px,#2ee1b9 111px,#00dde4 113px,#01b8e4 115px,#0288e4 119px,#0334e4 134px,#0412e4 150px,#0406e4 167px,#0404e4)"></i><i style="background:linear-gradient(90deg,#ece30a,#ea880b 8px,#e9500b 15px,#e8210c 31px,#e80e0c 46px,#e8160c 73px,#e81d0c 76px,#e9480b 87px,#e9540b 89px,#eba30b 96px,#eaec0c 101px,#a4e84c 105px,#2be1bd 111px,#00dbe4 113px,#01b5e4 115px,#0287e4 119px,#0334e4 134px,#0412e4 150px,#0406e4 167px,#0404e4)"></i><i style="background:linear-gradient(90deg,#ece30a,#ea880b 8px,#e9500b 15px,#e8210c 31px,#e80e0c 46px,#e8160c 72px,#e81a0c 75px,#e94a0b 87px,#e9560b 89px,#eba60b 96px,#ece20a 100px,#e6ec0f 101px,#a0e850 105px,#27e0c0 111px,#10dfd5 112px,#00d8e4 113px,#01b3e4 115px,#0285e4 119px,#0333e4 134px,#0412e4 150px,#0406e4 167px,#0404e4)"></i><i style="background:linear-gradient(90deg,#ece30a,#ea880b 8px,#e9500b 15px,#e8210c 31px,#e80e0c 46px,#e8160c 70px,#e81a0c 75px,#e94b0b 87px,#e9580b 89px,#eba90b 96px,#ece50a 100px,#e3eb12 101px,#9ce754 105px,#23e0c3 111px,#0ddfd8 112px,#00d5e4 113px,#01b1e4 115px,#0283e4 119px,#0332e4 134px,#0412e4 150px,#0406e4 167px,#0404e4)"></i><i style="background:linear-gradient(90deg,#ece30a,#ea880b 8px,#e9500b 15px,#e8220c 31px,#e80e0c 46px,#e8160c 69px,#e81b0c 75px,#e94d0b 87px,#e95a0b 89px,#ebac0b 96px,#ece80a 100px,#e0eb15 101px,#98e757 105px,#48e2a1 109px,#09dfdb 112px,#00d2e4 113px,#01aee4 115px,#0282e4 119px,#0332e4 134px,#0411e4 150px,#0406e4 167px,#0404e4)"></i><i style="background:linear-gradient(90deg,#ece30a,#ea880b 8px,#e9500b 15px,#e8220c 31px,#e80e0c 46px,#e8160c 68px,#e81c0c 75px,#e94f0b 87px,#e95d0b 89px,#ebae0b 96px,#eceb0a 100px,#94e75b 105px,#44e2a5 109px,#06dedf 112px,#00cfe4 113px,#01ace4 115px,#0280e4 119px,#0331e4 134px,#0411e4 150px,#0405e4 167px,#0404e4)"></i><i style="background:linear-gradient(90deg,#ece30a,#ea880b 8px,#e9500b 15px,#e8220c 31px,#e80e0c 46px,#e8160c 68px,#e81c0c 75px,#e9510b 87px,#e95f0b 89px,#ebb10b 96px,#ecdf0a 99px,#e9ec0d 100px,#90e75f 105px,#41e2a8 109px,#03dee2 112px,#01b9e4 114px,#01aae4 115px,#027fe4 119px,#0330e4 134px,#0411e4 150px,#0405e4 167px,#0404e4)"></i><i style="background:linear-gradient(90deg,#ece30a,#ea880b 8px,#e9500b 15px,#e8220c 31px,#e80e0c 46px,#e8160c 67px,#e81a0c 74px,#e94c0b 86px,#e9610b 89px,#ebb40b 96px,#ece20a 99px,#e6ec10 100px,#8ce663 105px,#3de2ac 109px,#00dde4 112px,#01b6e4 114px,#01a7e4 115px,#027de4 119px,#0330e4 134px,#0411e4 150px,#0405e4 167px,#0404e4)"></i><i style="background:linear-gradient(90deg,#ece30a,#ea880b 8px,#e9500b 15px,#e8220c 31px,#e80e0c 46px,#e8160c 67px,#e81a0c 74px,#e94e0b 86px,#ea630b 89px,#ebb70a 96px,#ece50a 99px,#e2eb13 100px,#88e666 105px,#4ce29e 108px,#12dfd4 111px,#00dae4 112px,#01b4e4 114px,#01a5e4 115px,#027be4 119px,#032fe4 134px,#0410e4 150px,#0405e4 167px,#0404e4)"></i><i style="background:linear-gradient(90deg,#ece30a,#ea880b 8px,#e9500b 15px,#e8220c 31px,#e80e0c 46px,#e8160c 66px,#e81b0c 74px,#e94f0b 86px,#ea660b 89px,#ebac0b 95px,#ece80a 99px,#ceea25 101px,#84e66a 105px,#48e2a2 108px,#0edfd7 111px,#00d7e4 112px,#01b1e4 114px,#01a3e4 115px,#027ae4 119px,#032ee4 134px,#0410e4 150px,#0405e4 167px,#0404e4)"></i><i style="background:linear-gradient(90deg,#ece30a,#ea880b 8px,#e9500b 15px,#e8220c 31px,#e80e0c 45px,#e8150c 65px,#e81c0c 74px,#e9510b 86px,#ea680b 89px,#ebae0b 95px,#eceb0a 99px,#a6e84b 103px,#31e1b6 109px,#0adfda 111px,#00d4e4 112px,#01aee4 114px,#0196e4 116px,#0278e4 119px,#032ee4 134px,#0410e4 150px,#0405e4 167px,#0404e4)"></i><i style="background:linear-gradient(90deg,#ece30a,#ea880b 8px,#e9500b 15px,#e8220c 31px,#e80e0c 45px,#e8160c 65px,#e81c0c 74px,#e9520b 86px,#ea6a0b 89px,#ebb10b 95px,#ecdf0a 98px,#e9ec0c 99px,#90e75f 104px,#40e2a9 108px,#07dede 111px,#00d1e4 112px,#01ace4 114px,#0194e4 116px,#0277e4 119px,#032de4 134px,#0410e4 150px,#0405e4 167px,#0404e4)"></i><i style="background:linear-gradient(90deg,#ece30a,#ea880b 8px,#e9500b 15px,#e8220c 31px,#e80e0c 45px,#e8160c 65px,#e81d0c 74px,#e9540b 86px,#ea6c0b 89px,#ebb40b 95px,#ece20a 98px,#e6ec10 99px,#9fe752 103px,#3ce2ac 108px,#03dee1 111px,#01bae4 113px,#01a9e4 114px,#0192e4 116px,#0275e4 119px,#032ce4 134px,#040fe4 150px,#0405e4 167px,#0404e4)"></i><i style="background:linear-gradient(90deg,#ece30a,#ea880b 8px,#e9500b 15px,#e8220c 31px,#e80e0c 45px,#e8160c 65px,#e81d0c 74px,#e9560b 86px,#ea6f0b 89px,#ebb60a 95px,#ece50a 98px,#e3eb13 99px,#9be755 103px,#38e1b0 108px,#00dee4 111px,#01a6e4 114px,#0190e4 116px,#0274e4 119px,#032ce4 134px,#040fe4 150px,#0405e4 168px,#0404e4)"></i><i style="background:linear-gradient(90deg,#ece30a,#ea880b 8px,#e9500b 15px,#e8220c 31px,#e80e0c 45px,#e8160c 64px,#e81e0c 74px,#e9570b 86px,#ea710b 89px,#ebb90a 95px,#ece80a 98px,#dfeb16 99px,#97e758 103px,#34e1b4 108px,#10dfd5 110px,#00dae4 111px,#01a4e4 114px,#018ee4 116px,#0272e4 119px,#032be4 134px,#040fe4 150px,#0405e4 168px,#0404e4)"></i><i style="background:linear-gradient(90deg,#ece30a,#ea880b 8px,#e9500b 15px,#e8220c 31px,#e80e0c 45px,#e8160c 64px,#e81e0c 74px,#e9590b 86px,#ea7e0b 90px,#ebbc0a 95px,#eceb0a 98px,#a7e84a 102px,#30e1b7 108px,#0cdfd9 110px,#00d7e4 111px,#01a1e4 114px,#028ce4 116px,#0270e4 119px,#032ae4 134px,#040fe4 150px,#0405e4 168px,#0404e4)"></i><i style="background:linear-gradient(90deg,#ece30a,#ea880b 8px,#e9500b 15px,#e8220c 31px,#e80e0c 45px,#e8160c 64px,#e81f0c 74px,#e95a0b 86px,#ea810b 90px,#ebbe0a 95px,#eaec0c 98px,#a3e84d 102px,#2ce1bb 108px,#08dedc 110px,#00d4e4 111px,#019ee4 114px,#0281e4 117px,#026fe4 119px,#032ae4 134px,#040ee4 150px,#0405e4 168px,#0404e4)"></i><i style="background:linear-gradient(90deg,#ece30a,#ea880b 8px,#e9500b 15px,#e8220c 31px,#e80e0c 45px,#e8160c 64px,#e81f0c 74px,#e95c0b 86px,#ea830b 90px,#ebc10a 95px,#ece00a 97px,#e7ec0f 98px,#9fe751 102px,#29e0bf 108px,#05dee0 110px,#00d1e4 111px,#019ce4 114px,#027fe4 117px,#026de4 119px,#0329e4 134px,#040ee4 150px,#0405e4 168px,#0404e4)"></i><i style="background:linear-gradient(90deg,#ece30a,#ea880b 8px,#e9500b 15px,#e8220c 31px,#e80e0c 45px,#e8160c 63px,#e8200c 74px,#e95e0b 86px,#ea850b 90px,#ebc40a 95px,#ece30a 97px,#e4ec11 98px,#9ce754 102px,#37e1b2 107px,#01dee3 110px,#0199e4 114px,#0274e4 118px,#026ce4 119px,#0328e4 134px,#040ee4 150px,#0405e4 168px,#0404e4)"></i><i style="background:linear-gradient(90deg,#ece30a,#ea880b 8px,#e9500b 15px,#e8220c 31px,#e80e0c 45px,#e8160c 63px,#e8200c 74px,#e95f0b 86px,#ea880b 90px,#ebc60a 95px,#ece60a 97px,#e1eb14 98px,#98e757 102px,#33e1b5 107px,#00dbe4 110px,#0196e4 114px,#026ae4 119px,#0328e4 134px,#040de4 151px,#0405e4 168px,#0404e4)"></i><i style="background:linear-gradient(90deg,#ece30a,#ea880b 8px,#e9500b 15px,#e8230c 31px,#e80e0c 45px,#e8160c 63px,#e8210c 74px,#e9610b 86px,#ea8a0b 90px,#ebc90a 95px,#ece90a 97px,#ccea28 99px,#95e75b 102px,#2fe1b9 107px,#0bdfda 109px,#00d8e4 110px,#0194e4 114px,#0268e4 119px,#0327e4 134px,#040de4 151px,#0405e4 168px,#0404e4)"></i><i style="background:linear-gradient(90deg,#ece30a,#ea880b 8px,#e9500b 15px,#e8230c 31px,#e80e0c 45px,#e8160c 63px,#e8210c 74px,#ea620b 86px,#ea8c0b 90px,#ebcc0a 95px,#ecec0a 97px,#91e75e 102px,#2be1bd 107px,#07dedd 109px,#00d4e4 110px,#0191e4 114px,#0267e4 119px,#0326e4 134px,#040de4 151px,#0405e4 169px,#0404e4)"></i><i style="background:linear-gradient(90deg,#ece30a,#ea880b 8px,#e9500b 15px,#e8230c 31px,#e80e0c 45px,#e8170c 63px,#e8220c 74px,#ea640b 86px,#ea8f0b 90px,#ebce0a 95px,#e9ec0d 97px,#8de661 102px,#27e0c0 107px,#03dee1 109px,#01c0e4 111px,#018ee4 114px,#0265e4 119px,#0326e4 134px,#040ce4 151px,#0404e4 169px,#0404e4)"></i><i style="background:linear-gradient(90deg,#ece30a,#ea880b 8px,#e9500b 15px,#e8230c 31px,#e80e0c 45px,#e8170c 63px,#e8220c 74px,#ea660b 86px,#ea910b 90px,#ecd10a 95px,#ece10a 96px,#e6ec10 97px,#8ae665 102px,#23e0c4 107px,#00dee4 109px,#028ce4 114px,#0264e4 119px,#0325e4 134px,#040ce4 151px,#0404e4 169px,#0404e4)"></i><i style="background:linear-gradient(90deg,#ece30a,#ea880b 8px,#e9500b 15px,#e8230c 31px,#e80e0c 45px,#e8170c 63px,#e8230c 74px,#ea670b 86px,#ea940b 90px,#ecd40a 95px,#ece40a 96px,#e3eb12 97px,#86e668 102px,#1fe0c8 107px,#0ddfd8 108px,#00dae4 109px,#0289e4 114px,#0262e4 119px,#0324e4 134px,#040ce4 151px,#0404e4 169px,#0404e4)"></i><i style="background:linear-gradient(90deg,#ece30a,#ea880b 8px,#e9500b 15px,#e8230c 31px,#e80e0c 45px,#e8160c 62px,#e8240c 74px,#ea690b 86px,#ea960b 90px,#ecd60a 95px,#ece70a 96px,#e0eb15 97px,#83e66b 102px,#1be0cb 107px,#09dfdb 108px,#00d7e4 109px,#0286e4 114px,#0260e4 119px,#0324e4 134px,#040ce4 151px,#0404e4 169px,#0404e4)"></i><i style="background:linear-gradient(90deg,#ece30a,#ea880b 8px,#e9500b 15px,#e8230c 31px,#e80e0c 45px,#e8160c 62px,#e8240c 74px,#ea6a0b 86px,#eba50b 91px,#ecd90a 95px,#ecea0a 96px,#b8e93a 99px,#7fe66f 102px,#17dfcf 107px,#05dedf 108px,#00d3e4 109px,#0192e4 113px,#0284e4 114px,#025fe4 119px,#0323e4 134px,#040be4 151px,#0404e4 169px,#0404e4)"></i><i style="background:linear-gradient(90deg,#ece30a,#ea880b 8px,#e9500b 15px,#e8230c 31px,#e80e0c 45px,#e8170c 62px,#e8250c 74px,#ea6c0b 86px,#eba70b 91px,#ecdc0a 95px,#ecec0a 96px,#7be572 102px,#13dfd3 107px,#01dee3 108px,#0281e4 114px,#025de4 119px,#0322e4 134px,#040be4 151px,#0404e4 169px,#0404e4)"></i><i style="background:linear-gradient(90deg,#ece30a,#ea880b 8px,#e9500b 15px,#e8230c 31px,#e80e0c 45px,#e8170c 62px,#e8250c 74px,#ea6e0b 86px,#ebaa0b 91px,#ecde0a 95px,#e9ec0d 96px,#8de662 101px,#0fdfd7 107px,#00dce4 108px,#028ce4 113px,#027ee4 114px,#025ce4 119px,#0322e4 134px,#040be4 151px,#0404e4 170px,#0404e4)"></i><i style="background:linear-gradient(90deg,#ece30a,#ea880b 8px,#e9500b 15px,#e8230c 31px,#e80e0c 45px,#e8170c 62px,#e8260c 74px,#ea6f0b 86px,#ebb90a 92px,#ece10a 95px,#e6ec10 96px,#89e665 101px,#0bdfda 107px,#00d8e4 108px,#0289e4 113px,#027ce4 114px,#025ae4 119px,#0321e4 134px,#040be4 151px,#0404e4 170px,#0404e4)"></i><i style="background:linear-gradient(90deg,#ece30a,#ea880b 8px,#e9500b 15px,#e8230c 31px,#e80e0c 45px,#e8170c 62px,#e8260c 74px,#ea710b 86px,#ebc90a 93px,#ece40a 95px,#e3eb13 96px,#86e668 101px,#07dede 107px,#00d5e4 108px,#0286e4 113px,#0279e4 114px,#0258e4 119px,#0320e4 134px,#040ae4 151px,#0404e4 170px,#0404e4)"></i><i style="background:linear-gradient(90deg,#ece30a,#ea880b 8px,#e9500b 15px,#e8230c 31px,#e80e0c 45px,#e8170c 62px,#e8270c 74px,#ea720b 86px,#ecd90a 94px,#ece60a 95px,#e0eb15 96px,#82e66c 101px,#03dee2 107px,#01a2e4 111px,#0283e4 113px,#0276e4 114px,#0257e4 119px,#0320e4 134px,#040ae4 151px,#0404e4 170px,#0404e4)"></i><i style="background:linear-gradient(90deg,#ece30a,#ea880b 8px,#e9500b 15px,#e8230c 31px,#e80e0c 45px,#e8180c 62px,#e8270c 74px,#ea740b 86px,#ece90a 95px,#caea29 97px,#7fe66f 101px,#12dfd3 106px,#00dde4 107px,#0280e4 113px,#0274e4 114px,#0355e4 119px,#041fe4 134px,#040ae4 151px,#0404e4 170px,#0404e4)"></i><i style="background:linear-gradient(90deg,#ece30a,#ea880b 8px,#e9500b 15px,#e8230c 31px,#e80e0c 45px,#e8180c 62px,#e8280c 74px,#ea760b 86px,#ecec0a 95px,#7be572 101px,#0edfd7 106px,#00d9e4 107px,#027de4 113px,#0271e4 114px,#0350e4 120px,#041ee4 134px,#040ae4 151px,#0404e4 171px,#0404e4)"></i><i style="background:linear-gradient(90deg,#ece30a,#ea880b 8px,#e9500b 15px,#e8230c 31px,#e80e0c 45px,#e8180c 62px,#e8290c 74px,#ea780b 86px,#ece10a 94px,#e9ec0d 95px,#78e575 101px,#0adfdb 106px,#00d6e4 107px,#027be4 113px,#026fe4 114px,#034fe4 120px,#041ee4 134px,#040ae4 151px,#0404e4 171px,#0404e4)"></i><i style="background:linear-gradient(90deg,#ece30a,#ea880b 8px,#e9500b 15px,#e8240c 31px,#e80f0c 45px,#e8190c 62px,#e92b0c 74px,#ea7c0b 86px,#ece50a 94px,#e4ec11 95px,#74e579 101px,#07dedd 106px,#00d3e4 107px,#027ae4 113px,#026ee4 114px,#034ee4 120px,#041de4 134px,#0409e4 151px,#0404e4 171px,#0404e4)"></i><i style="background:linear-gradient(90deg,#ece30a,#ea880b 8px,#e9510b 15px,#e8240c 31px,#e80f0c 45px,#e8190c 61px,#e92d0c 74px,#ea800b 86px,#ecea0a 94px,#e0eb16 95px,#6fe57d 101px,#04dee0 106px,#00d1e4 107px,#0278e4 113px,#026de4 114px,#034de4 120px,#041de4 134px,#0409e4 151px,#0404e4 171px,#0404e4)"></i><i style="background:linear-gradient(90deg,#ece30a,#ea880b 8px,#e9510b 15px,#e8240c 31px,#e80f0c 45px,#e81a0c 61px,#e92f0c 74px,#ea840b 86px,#ece10a 93px,#eaec0c 94px,#c8ea2b 96px,#6be481 101px,#01dee3 106px,#0277e4 113px,#026ce4 114px,#034ce4 120px,#041de4 134px,#0409e4 151px,#0404e4 172px,#0404e4)"></i><i style="background:linear-gradient(90deg,#ece30a,#ea890b 8px,#e9510b 15px,#e8240c 31px,#e80f0c 45px,#e81b0c 61px,#e9310c 74px,#ea880b 86px,#ece50a 93px,#e5ec11 94px,#c3ea2f 96px,#67e485 101px,#00dde4 106px,#0284e4 112px,#026be4 114px,#034be4 120px,#041ce4 134px,#0409e4 151px,#0404e4 172px,#0404e4)"></i><i style="background:linear-gradient(90deg,#ece30a,#ea890b 8px,#e9510b 15px,#e8240c 31px,#e8100c 45px,#e81c0c 61px,#e9330c 74px,#ea8c0b 86px,#ecea0a 93px,#d1ea23 95px,#63e489 101px,#10dfd5 105px,#00dae4 106px,#0283e4 112px,#026ae4 114px,#034ae4 120px,#041ce4 134px,#0409e4 151px,#0404e4 172px,#0404e4)"></i><i style="background:linear-gradient(90deg,#ece30a,#ea890b 8px,#e9510b 15px,#e8240c 31px,#e8100c 45px,#e81c0c 61px,#e9350c 74px,#ea880b 85px,#ea900b 86px,#eaec0c 93px,#ccea27 95px,#5fe48c 101px,#0ddfd8 105px,#00d7e4 106px,#0274e4 113px,#0269e4 114px,#0349e4 120px,#041ce4 134px,#0409e4 151px,#0404e4 173px,#0404e4)"></i><i style="background:linear-gradient(90deg,#ece30a,#ea890b 8px,#e9510b 15px,#e8240c 31px,#e8100c 45px,#e81d0c 61px,#e9380c 74px,#ea8b0b 85px,#ea930b 86px,#ece50a 92px,#e5ec10 93px,#c8ea2c 95px,#46e2a3 102px,#0adfdb 105px,#00d5e4 106px,#0273e4 113px,#0268e4 114px,#0348e4 120px,#041be4 134px,#0409e4 151px,#0404e4 173px,#0404e4)"></i><i style="background:linear-gradient(90deg,#ece30a,#ea890b 8px,#e9510b 15px,#e8250c 31px,#e8110c 45px,#e81e0c 61px,#e93a0c 74px,#ea870b 84px,#ea970b 86px,#ece90a 92px,#d2ea22 94px,#9fe751 97px,#42e2a7 102px,#06dede 105px,#00d2e4 106px,#0272e4 113px,#0267e4 114px,#0348e4 120px,#041ae4 135px,#0409e4 151px,#0404e4 173px,#0404e4)"></i><i style="background:linear-gradient(90deg,#ece30a,#ea890b 8px,#e9510b 15px,#e8250c 31px,#e8110c 45px,#e81f0c 61px,#e93c0c 74px,#ea8a0b 84px,#eb9b0b 86px,#ebec0b 92px,#bee935 95px,#3ee2aa 102px,#03dee1 105px,#01c0e4 107px,#0270e4 113px,#0266e4 114px,#034ae4 119px,#041ae4 134px,#0409e4 151px,#0404e4 174px,#0404e4)"></i><i style="background:linear-gradient(90deg,#ece30a,#ea890b 8px,#e9520b 15px,#e8250c 31px,#e8110c 45px,#e8200c 61px,#e93e0c 74px,#ea8e0b 84px,#eb9f0b 86px,#ece40a 91px,#e6ec10 92px,#b9e939 95px,#3ae1ae 102px,#00dee4 105px,#01bee4 107px,#026fe4 113px,#0265e4 114px,#0349e4 119px,#0419e4 135px,#0408e4 152px,#0404e4 175px,#0404e4)"></i><i style="background:linear-gradient(90deg,#ece30a,#ea8a0b 8px,#e9520b 15px,#e8250c 31px,#e8110c 45px,#e8210c 61px,#e93c0c 73px,#e9470b 75px,#eb9a0b 85px,#ebb00b 87px,#ece80a 91px,#e1eb14 92px,#b4e93d 95px,#36e1b2 102px,#0fdfd6 104px,#00dbe4 105px,#01bbe4 107px,#026ee4 113px,#0264e4 114px,#0348e4 119px,#0418e4 135px,#0408e4 152px,#0404e4 176px,#0404e4)"></i><i style="background:linear-gradient(90deg,#ece30a,#ea8a0b 8px,#e9520b 15px,#e8250c 31px,#e8120c 45px,#e8220c 61px,#e93e0c 73px,#e9490b 75px,#ea950b 84px,#eba70b 86px,#ecec0a 91px,#b0e842 95px,#32e1b5 102px,#0bdfd9 104px,#00d8e4 105px,#01ace4 108px,#026de4 113px,#0263e4 114px,#0347e4 119px,#0418e4 135px,#0408e4 152px,#0404e4 177px,#0404e4)"></i><i style="background:linear-gradient(90deg,#ece30a,#ea8a0b 8px,#e9520b 15px,#e8250c 31px,#e8120c 45px,#e8230c 61px,#e9400c 73px,#e94b0b 75px,#ea990b 84px,#ebab0b 86px,#ece20a 90px,#e7ec0e 91px,#99e756 96px,#2ee1b9 102px,#08dedd 104px,#00d5e4 105px,#01aae4 108px,#026ce4 113px,#0262e4 114px,#0346e4 119px,#0418e4 135px,#0408e4 152px,#0404e4 177px,#0404e4)"></i><i style="background:linear-gradient(90deg,#ece30a,#ea8a0b 8px,#e9520b 15px,#e8250c 31px,#e8120c 45px,#e8240c 61px,#e9420c 73px,#e94e0b 75px,#eb9c0b 84px,#ebaf0b 86px,#ece70a 90px,#e3eb13 91px,#95e75b 96px,#2ae1bd 102px,#04dee0 104px,#00d2e4 105px,#01a8e4 108px,#0261e4 114px,#0345e4 119px,#0417e4 135px,#0408e4 152px,#0404e4 178px,#0404e4)"></i><i style="background:linear-gradient(90deg,#ece30a,#ea8a0b 8px,#e9520b 15px,#e8260c 31px,#e8130c 45px,#e8250c 61px,#e9440c 73px,#e9500b 75px,#ea960b 83px,#ebb30b 86px,#eceb0a 90px,#90e75f 96px,#26e0c1 102px,#01dee3 104px,#01b2e4 107px,#0260e4 114px,#0344e4 119px,#0417e4 135px,#0408e4 152px,#0404e4 179px,#0404e4)"></i><i style="background:linear-gradient(90deg,#ece30a,#ea8a0b 8px,#e9520b 15px,#e8260c 31px,#e8130c 45px,#e8230c 60px,#e9460b 73px,#e95b0b 76px,#eb990b 83px,#ebb70a 86px,#ece10a 89px,#e9ec0d 90px,#8be663 96px,#22e0c4 102px,#0fdfd6 103px,#00dbe4 104px,#01afe4 107px,#025fe4 114px,#0343e4 119px,#0417e4 135px,#0407e4 152px,#0404e4 180px,#0404e4)"></i><i style="background:linear-gradient(90deg,#ece30a,#ea8a0b 8px,#e9530b 15px,#e8260c 31px,#e8130c 45px,#e8240c 60px,#e9480b 73px,#e95d0b 76px,#eb9d0b 83px,#ebbb0a 86px,#ece50a 89px,#e4ec11 90px,#87e668 96px,#1ee0c8 102px,#0bdfda 103px,#00d8e4 104px,#01ade4 107px,#025ee4 114px,#0342e4 119px,#0416e4 135px,#0407e4 152px,#0404e4 182px,#0404e4)"></i><i style="background:linear-gradient(90deg,#ece30a,#ea8a0b 8px,#e9530b 15px,#e8260c 31px,#e8130c 45px,#e8250c 60px,#e94a0b 73px,#e9600b 76px,#eba00b 83px,#ebbf0a 86px,#ece90a 89px,#d0ea24 91px,#82e66c 96px,#1ae0cc 102px,#07dedd 103px,#00d5e4 104px,#01aae4 107px,#025de4 114px,#0341e4 119px,#0416e4 135px,#0407e4 152px,#0404e4 183px,#0404e4)"></i><i style="background:linear-gradient(90deg,#ece30a,#ea8b0b 8px,#e9530b 15px,#e8260c 31px,#e8140c 45px,#e8260c 60px,#e94b0b 73px,#ea620b 76px,#eba40b 83px,#ebc30a 86px,#ebec0b 89px,#7de570 96px,#16dfcf 102px,#04dee1 103px,#00c3e4 105px,#019de4 108px,#025ce4 114px,#0341e4 119px,#0415e4 135px,#0407e4 152px,#0404e4 185px,#0404e4)"></i><i style="background:linear-gradient(90deg,#ece30a,#ea8b0b 8px,#e9530b 15px,#e8260c 31px,#e8140c 45px,#e8270c 60px,#e94d0b 73px,#ea640b 76px,#eba70b 83px,#ebc70a 86px,#ece30a 88px,#e6ec0f 89px,#68e484 97px,#12dfd3 102px,#00dee4 103px,#01a6e4 107px,#025be4 114px,#0340e4 119px,#0415e4 135px,#0407e4 152px,#0404e4 187px,#0404e4)"></i><i style="background:linear-gradient(90deg,#ece30a,#ea8b0b 8px,#e9530b 15px,#e8260c 31px,#e8140c 45px,#e8270c 60px,#e94f0b 73px,#ea670b 76px,#eba00b 82px,#ebcb0a 86px,#ece70a 88px,#e2eb13 89px,#63e488 97px,#0edfd7 102px,#00dae4 103px,#01a3e4 107px,#025ae4 114px,#033fe4 119px,#0415e4 135px,#0407e4 152px,#0404e4 190px,#0404e4)"></i><i style="background:linear-gradient(90deg,#ece30a,#ea8b0b 8px,#e9530b 15px,#e8270c 31px,#e8140c 45px,#e8280c 60px,#e9510b 73px,#ea690b 76px,#eba30b 82px,#ebcf0a 86px,#eceb0a 88px,#5fe48d 97px,#0bdfda 102px,#00d7e4 103px,#01a1e4 107px,#0259e4 114px,#033ee4 119px,#0414e4 135px,#0407e4 152px,#0404e4 194px,#0404e4)"></i><i style="background:linear-gradient(90deg,#ece30a,#ea8b0b 8px,#e9530b 15px,#e8270c 31px,#e8150c 45px,#e8290c 60px,#e9530b 73px,#ea750b 77px,#eba60b 82px,#ecd30a 86px,#e9ec0d 88px,#39e1af 99px,#07dede 102px,#00d3e4 103px,#019ee4 107px,#0258e4 114px,#033de4 119px,#0414e4 135px,#0407e4 152px,#0404e4 198px,#0404e4)"></i><i style="background:linear-gradient(90deg,#ece30a,#ea8b0b 8px,#e9540b 15px,#e8270c 31px,#e8150c 45px,#e92a0c 60px,#e9550b 73px,#ea780b 77px,#eba90b 82px,#ece50a 87px,#e4ec11 88px,#14dfd1 101px,#03dee2 102px,#01a7e4 106px,#0257e4 114px,#033ce4 119px,#0413e4 135px,#0407e4 152px,#0404e4 204px,#0404e4)"></i><i style="background:linear-gradient(90deg,#ece30a,#ea8b0b 8px,#e9540b 15px,#e8270c 31px,#e8150c 45px,#e92b0c 60px,#e9570b 73px,#ea7a0b 77px,#ebac0b 82px,#ece90a 87px,#d0ea24 89px,#00dde4 102px,#01b1e4 105px,#0286e4 109px,#0356e4 114px,#033be4 119px,#0413e4 135px,#0406e4 152px,#0404e4 213px,#0404e4)"></i><i style="background:linear-gradient(90deg,#ece30a,#ea8c0b 8px,#e9540b 15px,#e8270c 31px,#e8160c 45px,#e92c0c 60px,#e9590b 73px,#ea7d0b 77px,#ebaf0b 82px,#ebec0b 87px,#0cdfd9 101px,#00d9e4 102px,#01bae4 104px,#018de4 108px,#0355e4 114px,#033ae4 119px,#0413e4 135px,#0406e4 153px,#0404e4)"></i><i style="background:linear-gradient(90deg,#ece30a,#ea8c0b 8px,#e9540b 15px,#e8270c 31px,#e8160c 45px,#e92d0c 60px,#e95b0b 73px,#ea890b 78px,#ebb30b 82px,#ece30a 86px,#e7ec0f 87px,#08dedd 101px,#00d5e4 102px,#01b7e4 104px,#028be4 108px,#0354e4 114px,#0339e4 119px,#0412e4 135px,#0406e4 153px,#0404e4)"></i><i style="background:linear-gradient(90deg,#ece30a,#ea8c0b 8px,#e9540b 15px,#e8270c 31px,#e8160c 45px,#e92d0c 60px,#e95d0b 73px,#ea8c0b 78px,#ebb60a 82px,#ece70a 86px,#e3eb13 87px,#04dee1 101px,#01c2e4 103px,#019de4 106px,#0353e4 114px,#0338e4 119px,#0412e4 135px,#0406e4 153px,#0404e4)"></i><i style="background:linear-gradient(90deg,#ece30a,#ea8c0b 8px,#e9540b 15px,#e8280c 31px,#e8160c 45px,#e92e0c 60px,#e95e0b 73px,#ea990b 79px,#ebc50a 83px,#eceb0a 86px,#8ee661 92px,#00dee4 101px,#01b1e4 104px,#0287e4 108px,#0352e4 114px,#0337e4 119px,#0412e4 135px,#0406e4 153px,#0404e4)"></i><i style="background:linear-gradient(90deg,#ece30a,#ea8c0b 8px,#e9540b 15px,#e8280c 31px,#e8170c 45px,#e92f0c 60px,#e9600b 73px,#eb9b0b 79px,#ebbc0a 82px,#ece20a 85px,#e9ec0c 86px,#0bdfda 100px,#00dae4 101px,#01ade4 104px,#0285e4 108px,#0351e4 114px,#0336e4 119px,#0411e4 135px,#0406e4 153px,#0404e4)"></i><i style="background:linear-gradient(90deg,#ece30a,#ea8c0b 8px,#e9540b 15px,#e8280c 31px,#e8170c 45px,#e9300c 60px,#ea620b 73px,#eba90b 80px,#ece60a 85px,#e5ec10 86px,#07dede 100px,#00d6e4 101px,#01aae4 104px,#027ae4 109px,#0350e4 114px,#0335e4 119px,#0411e4 135px,#0406e4 153px,#0404e4)"></i><i style="background:linear-gradient(90deg,#ece30a,#ea8c0b 8px,#e9550b 15px,#e8280c 31px,#e8170c 45px,#e9310c 60px,#ea640b 73px,#ebb60a 81px,#ece90a 85px,#e1eb14 86px,#12dfd3 99px,#02dee2 100px,#00c3e4 102px,#01a7e4 104px,#0278e4 109px,#034fe4 114px,#0334e4 119px,#0410e4 135px,#0406e4 153px,#0404e4)"></i><i style="background:linear-gradient(90deg,#ece30a,#ea8d0b 8px,#e9550b 15px,#e8280c 31px,#e8180c 45px,#e9320c 60px,#ea660b 73px,#ebb90a 81px,#ebec0b 85px,#8ce663 91px,#0edfd7 99px,#00dce4 100px,#01a3e4 104px,#0276e4 109px,#034ee4 114px,#0334e4 119px,#0410e4 135px,#0406e4 153px,#0404e4)"></i><i style="background:linear-gradient(90deg,#ece30a,#ea8d0b 8px,#e9550b 15px,#e8280c 31px,#e8180c 45px,#e9320c 60px,#ea680b 73px,#ebbc0a 81px,#ece40a 84px,#e7ec0f 85px,#77e576 92px,#09dfdb 99px,#00d8e4 100px,#01a0e4 104px,#026ce4 110px,#034de4 114px,#0333e4 119px,#0410e4 135px,#0405e4 153px,#0404e4)"></i><i style="background:linear-gradient(90deg,#ece30a,#ea8d0b 8px,#e9550b 15px,#e8290c 31px,#e8180c 45px,#e9330c 60px,#ea640b 72px,#ea730b 74px,#ebcc0a 82px,#ece70a 84px,#e3eb13 85px,#52e399 94px,#05dee0 99px,#00d5e4 100px,#019de4 104px,#026ae4 110px,#034ce4 114px,#0332e4 119px,#040fe4 135px,#0405e4 153px,#0404e4)"></i><i style="background:linear-gradient(90deg,#ece30a,#ea8d0b 8px,#e9550b 15px,#e8290c 31px,#e8180c 45px,#e9340c 60px,#ea650b 72px,#ea750b 74px,#ebcf0a 82px,#eceb0a 84px,#c0e932 87px,#2ee1ba 96px,#00dee4 99px,#019ae4 104px,#0261e4 111px,#0345e4 115px,#0331e4 119px,#040fe4 135px,#0405e4 153px,#0404e4)"></i><i style="background:linear-gradient(90deg,#ece30a,#ea8d0b 8px,#e9550b 15px,#e8290c 31px,#e8190c 45px,#e9350c 60px,#ea670b 72px,#ea770b 74px,#ecd20a 82px,#eaec0c 84px,#9be755 89px,#29e0be 96px,#0bdfda 98px,#00dae4 99px,#0196e4 104px,#0258e4 112px,#033fe4 116px,#0330e4 119px,#040fe4 135px,#0405e4 154px,#0404e4)"></i><i style="background:linear-gradient(90deg,#ece30a,#ea8d0b 8px,#e9550b 15px,#e8290c 31px,#e8190c 45px,#e9360c 60px,#ea690b 72px,#ea7a0b 74px,#ebc80a 81px,#ece40a 83px,#e6ec10 84px,#86e668 90px,#24e0c3 96px,#07dede 98px,#00d6e4 99px,#0193e4 104px,#034fe4 113px,#032fe4 119px,#040ee4 135px,#0405e4 154px,#0404e4)"></i><i style="background:linear-gradient(90deg,#ece30a,#ea8d0b 8px,#e9560b 15px,#e8290c 31px,#e8190c 45px,#e9370c 60px,#ea6b0b 72px,#ea7c0b 74px,#ebcb0a 81px,#ece70a 83px,#e2eb13 84px,#71e57c 91px,#1fe0c7 96px,#02dee2 98px,#0190e4 104px,#034ee4 113px,#032ee4 119px,#040ee4 135px,#0405e4 154px,#0404e4)"></i><i style="background:linear-gradient(90deg,#ece30a,#ea8d0b 8px,#e9560b 15px,#e8290c 31px,#e81a0c 45px,#e9380c 60px,#ea6c0b 72px,#ea7e0b 74px,#ebce0a 81px,#eceb0a 83px,#9ee752 88px,#1be0cb 96px,#00dce4 98px,#0197e4 103px,#0285e4 105px,#0346e4 114px,#032de4 119px,#040de4 135px,#0405e4 154px,#0404e4)"></i><i style="background:linear-gradient(90deg,#ece30a,#ea8e0b 8px,#e9560b 15px,#e8290c 31px,#e81a0c 45px,#e9380c 60px,#ea6e0b 72px,#ea800b 74px,#ecd10a 81px,#eaec0c 83px,#78e575 90px,#16dfd0 96px,#08dedd 97px,#00d8e4 98px,#0194e4 103px,#0282e4 105px,#0340e4 115px,#032ce4 119px,#040de4 135px,#0405e4 154px,#0404e4)"></i><i style="background:linear-gradient(90deg,#ece30a,#ea8e0b 8px,#e9560b 15px,#e82a0c 31px,#e81a0c 45px,#e9390c 60px,#ea700b 72px,#ea820b 74px,#ecd40a 81px,#ece20a 82px,#e6ec0f 83px,#52e398 92px,#11dfd4 96px,#03dee1 97px,#00c6e4 99px,#0190e4 103px,#027fe4 105px,#033fe4 115px,#032be4 119px,#040de4 135px,#0405e4 154px,#0404e4)"></i><i style="background:linear-gradient(90deg,#ece30a,#ea8e0b 8px,#e9560b 15px,#e82a0c 31px,#e81a0c 45px,#e93a0c 60px,#ea720b 72px,#ea840b 74px,#ecd70a 81px,#ece60a 82px,#e3eb12 83px,#1be0cb 95px,#00dde4 97px,#018de4 103px,#027ce4 105px,#033ee4 115px,#032ae4 119px,#040ce4 135px,#0405e4 154px,#0404e4)"></i><i style="background:linear-gradient(90deg,#ece30a,#ea8e0b 8px,#e9560b 15px,#e92a0c 31px,#e81b0c 45px,#e93b0c 60px,#ea730b 72px,#ea860b 74px,#ecda0a 81px,#ece90a 82px,#cfea25 84px,#16dfcf 95px,#08dedd 96px,#00d8e4 97px,#0289e4 103px,#0279e4 105px,#0338e4 116px,#0329e4 119px,#040ce4 135px,#0404e4 155px,#0404e4)"></i><i style="background:linear-gradient(90deg,#ece30a,#ea8e0b 8px,#e9560b 15px,#e92a0c 31px,#e81b0c 45px,#e93c0c 60px,#ea750b 72px,#ea7d0b 73px,#ecdd0a 81px,#ecec0a 82px,#11dfd4 95px,#03dee1 96px,#00c7e4 98px,#0286e4 103px,#0276e4 105px,#0332e4 117px,#0328e4 119px,#040ce4 135px,#0404e4 155px,#0404e4)"></i><i style="background:linear-gradient(90deg,#ece30a,#ea8e0b 8px,#e9560b 15px,#e92a0c 31px,#e81b0c 45px,#e93d0c 60px,#ea770b 72px,#ea7f0b 73px,#ece00a 81px,#e9ec0d 82px,#0ddfd8 95px,#00dde4 96px,#0282e4 103px,#0273e4 105px,#0327e4 119px,#040be4 135px,#0404e4 155px,#0404e4)"></i><i style="background:linear-gradient(90deg,#ece30a,#ea8e0b 8px,#e9570b 15px,#e92a0c 31px,#e81c0c 45px,#e93d0c 60px,#ea790b 72px,#ea810b 73px,#ece30a 81px,#e5ec10 82px,#08dedd 95px,#00d8e4 96px,#027fe4 103px,#0270e4 105px,#0327e4 119px,#040be4 135px,#0404e4 155px,#0404e4)"></i><i style="background:linear-gradient(90deg,#ece30a,#ea8f0b 8px,#e9570b 15px,#e92a0c 31px,#e81c0c 45px,#e93e0c 60px,#ea7b0b 72px,#ea830b 73px,#ece60a 81px,#e2eb13 82px,#03dee1 95px,#00c7e4 97px,#027be4 103px,#026de4 105px,#0326e4 119px,#040ae4 135px,#0404e4 155px,#0404e4)"></i><i style="background:linear-gradient(90deg,#ece30a,#ea8f0b 8px,#e9570b 15px,#e92b0c 31px,#e81c0c 45px,#e93f0c 60px,#ea7d0b 72px,#ea850b 73px,#ece90a 81px,#cdea26 83px,#00dce4 95px,#0278e4 103px,#026fe4 104px,#0325e4 119px,#040ae4 135px,#0404e4 155px,#0404e4)"></i><i style="background:linear-gradient(90deg,#ece30a,#ea900b 8px,#e9590b 15px,#e92e0c 30px,#e8200c 45px,#e9450c 60px,#ea840b 72px,#ea8c0b 73px,#ece40a 80px,#e8ec0e 81px,#0bdfda 94px,#00d9e4 95px,#0276e4 103px,#0268e4 105px,#0324e4 119px,#040ae4 135px,#0404e4 156px,#0404e4)"></i><i style="background:linear-gradient(90deg,#ece40a,#ea920b 8px,#e95c0b 15px,#e9300c 30px,#e8250c 45px,#e94b0b 60px,#ea8c0b 72px,#ea940b 73px,#eceb0a 80px,#e0eb15 81px,#06dede 94px,#00d5e4 95px,#0274e4 103px,#0266e4 105px,#0323e4 119px,#040ae4 135px,#0404e4 156px,#0404e4)"></i><i style="background:linear-gradient(90deg,#ece40a,#ea930b 8px,#e95e0b 15px,#e9320c 30px,#e8290c 45px,#e9510b 60px,#ea930b 72px,#eb9b0b 73px,#ece50a 79px,#e6ec10 80px,#c9ea2a 82px,#02dee2 94px,#0271e4 103px,#0264e4 105px,#0323e4 119px,#040ae4 135px,#0404e4 156px,#0404e4)"></i><i style="background:linear-gradient(90deg,#ece40a,#ea950b 8px,#e9600b 15px,#e9340c 30px,#e92d0c 45px,#e9560b 60px,#eb9b0b 72px,#eba30b 73px,#ecec0a 79px,#c2ea31 82px,#0edfd7 93px,#00dce4 94px,#01b5e4 97px,#026fe4 103px,#0262e4 105px,#0322e4 119px,#040ae4 135px,#0404e4 156px,#0404e4)"></i><i style="background:linear-gradient(90deg,#ece40a,#ea960b 8px,#ea620b 15px,#e9360c 30px,#e9310c 45px,#e95c0b 60px,#eba20b 72px,#ebb70a 74px,#ece70a 78px,#e4ec11 79px,#bbe937 82px,#09dfdc 93px,#00d8e4 94px,#01b2e4 97px,#026de4 103px,#0260e4 105px,#0321e4 119px,#0409e4 135px,#0404e4 157px,#0404e4)"></i><i style="background:linear-gradient(90deg,#ece50a,#ea980b 8px,#ea650b 15px,#e9390c 30px,#e9350c 45px,#ea620b 60px,#ebaa0b 72px,#ebbf0a 74px,#ece30a 77px,#e9ec0d 78px,#b4e93e 82px,#05dee0 93px,#00d4e4 94px,#01aee4 97px,#026be4 103px,#025ee4 105px,#0321e4 119px,#0409e4 135px,#0404e4 157px,#0404e4)"></i><i style="background:linear-gradient(90deg,#ece50a,#eb9a0b 8px,#ea670b 15px,#e93b0c 30px,#e9390c 45px,#ea680b 60px,#ebb10b 72px,#ebc60a 74px,#ecea0a 77px,#bce937 81px,#00dee4 93px,#01b6e4 96px,#0269e4 103px,#025ce4 105px,#0320e4 119px,#0409e4 136px,#0404e4 158px,#0404e4)"></i><i style="background:linear-gradient(90deg,#ece50a,#eb9b0b 8px,#ea690b 15px,#e93d0c 30px,#e93d0c 45px,#ea6e0b 60px,#ebc10a 73px,#ece50a 76px,#e7ec0f 77px,#a6e84b 82px,#0adfda 92px,#00dae4 93px,#01b3e4 96px,#0267e4 103px,#025be4 105px,#031fe4 119px,#0409e4 136px,#0404e4 158px,#0404e4)"></i><i style="background:linear-gradient(90deg,#ece60a,#eb9d0b 8px,#ea6c0b 15px,#e93f0c 30px,#e9410c 45px,#ea730b 60px,#ebc90a 73px,#ebec0b 76px,#9ee752 82px,#06dedf 92px,#00d5e4 93px,#01afe4 96px,#0265e4 103px,#0259e4 105px,#041fe4 119px,#0409e4 136px,#0404e4 159px,#0404e4)"></i><i style="background:linear-gradient(90deg,#ece60a,#eb9e0b 8px,#ea6e0b 15px,#e9410c 30px,#e9450c 45px,#ea790b 60px,#ecd10a 73px,#ece80a 75px,#d7eb1d 77px,#97e758 82px,#01dee3 92px,#01abe4 96px,#0262e4 103px,#0257e4 105px,#041ee4 119px,#0408e4 136px,#0404e4 159px,#0404e4)"></i><i style="background:linear-gradient(90deg,#ece60a,#eba00b 8px,#ea700b 15px,#e9430c 30px,#e9490b 45px,#ea7f0b 60px,#ebca0a 71px,#ecd80a 73px,#ece40a 74px,#e8ec0e 75px,#90e75f 82px,#0adfdb 91px,#00dae4 92px,#01a8e4 96px,#0260e4 103px,#0355e4 105px,#041de4 119px,#0408e4 136px,#0404e4 160px,#0404e4)"></i><i style="background:linear-gradient(90deg,#ece60a,#eba10b 8px,#ea730b 15px,#e9450c 30px,#e94e0b 45px,#ea850b 60px,#ecd10a 71px,#ece00a 73px,#ecec0a 74px,#89e665 82px,#05dedf 91px,#00d5e4 92px,#01a4e4 96px,#025ee4 103px,#0353e4 105px,#041de4 119px,#0408e4 136px,#0404e4 160px,#0404e4)"></i><i style="background:linear-gradient(90deg,#ece70a,#eba30b 8px,#ea750b 15px,#e9470b 30px,#e9520b 45px,#ea8a0b 60px,#ecd20a 70px,#ece70a 73px,#e4ec11 74px,#82e66c 82px,#00dee4 91px,#01a0e4 96px,#025ce4 103px,#034de4 106px,#041ce4 119px,#0408e4 136px,#0404e4 161px,#0404e4)"></i><i style="background:linear-gradient(90deg,#ece70a,#eba40b 8px,#ea770b 15px,#e94a0b 30px,#e9560b 45px,#ea900b 60px,#ecd90a 70px,#ece60a 72px,#e9ec0d 73px,#7be573 82px,#08dedc 90px,#00d9e4 91px,#019de4 96px,#025ae4 103px,#034be4 106px,#041be4 119px,#0408e4 136px,#0404e4 161px,#0404e4)"></i><i style="background:linear-gradient(90deg,#ece70a,#eba60b 8px,#ea790b 15px,#e94c0b 30px,#e95a0b 45px,#ea960b 60px,#ece10a 70px,#eaec0c 72px,#d4eb20 74px,#74e579 82px,#03dee1 90px,#01bbe4 93px,#0199e4 96px,#0258e4 103px,#0349e4 106px,#041be4 119px,#0408e4 136px,#0404e4 162px,#0404e4)"></i><i style="background:linear-gradient(90deg,#ece70a,#eba80b 8px,#ea7c0b 15px,#e94e0b 30px,#e95e0b 45px,#eb9c0b 60px,#ece80a 70px,#e9ec0d 71px,#d9eb1c 73px,#6de480 82px,#0bdfda 89px,#00dce4 90px,#0195e4 96px,#0356e4 103px,#0347e4 106px,#041ae4 119px,#0408e4 136px,#0404e4 163px,#0404e4)"></i><i style="background:linear-gradient(90deg,#ece80a,#eba90b 8px,#ea7e0b 15px,#e9500b 30px,#ea620b 45px,#eba10b 60px,#ece90a 69px,#e1eb14 71px,#d0ea23 73px,#65e486 82px,#05dedf 89px,#00d7e4 90px,#0192e4 96px,#0353e4 103px,#0342e4 107px,#0419e4 119px,#0408e4 136px,#0404e4 164px,#0404e4)"></i><i style="background:linear-gradient(90deg,#ece80a,#ebab0b 8px,#ea800b 15px,#e9520b 30px,#ea660b 45px,#eba70b 60px,#ece90a 68px,#e0eb15 70px,#c8ea2b 73px,#5ee48d 82px,#00dde4 89px,#018ee4 96px,#0351e4 103px,#0340e4 107px,#0418e4 120px,#0408e4 136px,#0404e4 165px,#0404e4)"></i><i style="background:linear-gradient(90deg,#ece80a,#ebac0b 8px,#ea830b 15px,#e9540b 30px,#ea6a0b 45px,#ebad0b 60px,#ece80a 67px,#e8ec0e 68px,#c0e932 73px,#57e393 82px,#07dedd 88px,#00d8e4 89px,#028ae4 96px,#034fe4 103px,#033be4 108px,#0417e4 120px,#0407e4 137px,#0404e4 169px,#0404e4)"></i><i style="background:linear-gradient(90deg,#ece90a,#eba80b 9px,#ea850b 15px,#e9560b 30px,#ea6e0b 45px,#ebb30b 60px,#ece60a 66px,#e9ec0d 67px,#b8e93a 73px,#50e39a 82px,#01dee3 88px,#0287e4 96px,#0347e4 104px,#041de4 117px,#0415e4 121px,#0407e4 137px,#0404e4 171px,#0404e4)"></i><i style="background:linear-gradient(90deg,#ece90a,#ebaa0b 9px,#ea870b 15px,#e9580b 30px,#ea720b 45px,#ebb90a 60px,#ebec0b 66px,#c1e931 71px,#b0e841 73px,#49e2a1 82px,#08dedc 87px,#00dae4 88px,#0283e4 96px,#0345e4 104px,#041fe4 116px,#0416e4 120px,#0407e4 137px,#0404e4 174px,#0404e4)"></i><i style="background:linear-gradient(90deg,#ece90a,#ebab0b 9px,#ea8a0b 15px,#e95b0b 30px,#ea770b 45px,#ebbe0a 60px,#eceb0a 65px,#b9e939 71px,#a8e849 73px,#42e2a7 82px,#02dee2 87px,#027fe4 96px,#0343e4 104px,#041ee4 116px,#0415e4 120px,#0407e4 137px,#0404e4 177px,#0404e4)"></i><i style="background:linear-gradient(90deg,#ece90a,#ebad0b 9px,#ea890b 16px,#e95d0b 30px,#ea7b0b 45px,#ebbd0a 59px,#ece80a 64px,#dceb18 66px,#b9e939 70px,#a0e750 73px,#2ee1b9 83px,#09dfdc 86px,#00dae4 87px,#0284e4 95px,#0347e4 103px,#032ae4 111px,#0414e4 120px,#0407e4 137px,#0404e4 181px,#0404e4)"></i><i style="background:linear-gradient(90deg,#ecea0a,#ebae0b 9px,#ea8b0b 16px,#e95f0b 30px,#ea7f0b 45px,#ebc30a 59px,#ece60a 63px,#e9ec0d 64px,#b9e939 69px,#98e758 73px,#27e0c0 83px,#02dee2 86px,#019fe4 92px,#0278e4 96px,#033fe4 104px,#041fe4 115px,#0414e4 120px,#0407e4 137px,#0404e4 186px,#0404e4)"></i><i style="background:linear-gradient(90deg,#ecea0a,#ebb00b 9px,#ea8d0b 16px,#e9610b 30px,#ea830b 45px,#ebc80a 59px,#ecec0a 63px,#b2e940 69px,#90e75f 73px,#20e0c6 83px,#08dedc 85px,#00dae4 86px,#0190e4 93px,#026ce4 97px,#033de4 104px,#0320e4 114px,#0413e4 120px,#0406e4 138px,#0404e4 217px,#0404e4)"></i><i style="background:linear-gradient(90deg,#ecea0a,#ebb20b 9px,#ea8f0b 16px,#ea630b 30px,#ea870b 45px,#ebce0a 59px,#ece90a 62px,#dbeb1a 64px,#aae847 69px,#88e667 73px,#1ae0cc 83px,#02dee2 85px,#0282e4 94px,#0262e4 98px,#033be4 104px,#041fe4 114px,#0413e4 120px,#0406e4 138px,#0404e4)"></i><i style="background:linear-gradient(90deg,#ecea0a,#ebb30b 9px,#ea920b 16px,#ea650b 30px,#ea8b0b 45px,#ecd40a 59px,#e9ec0d 62px,#a2e84e 69px,#80e66e 73px,#07dede 84px,#00dae4 85px,#019be4 91px,#0265e4 97px,#0339e4 104px,#041ee4 114px,#0412e4 120px,#0406e4 138px,#0404e4)"></i><i style="background:linear-gradient(90deg,#eceb0a,#ebb50a 9px,#ea940b 16px,#ea670b 30px,#ea8f0b 45px,#ecd90a 59px,#eceb0a 61px,#9ae755 69px,#78e575 73px,#00dee4 84px,#0196e4 91px,#0262e4 97px,#0337e4 104px,#041fe4 113px,#0411e4 120px,#0406e4 138px,#0404e4)"></i><i style="background:linear-gradient(90deg,#eceb0a,#ebb20b 10px,#ea960b 16px,#ea6a0b 30px,#ea930b 45px,#ecdf0a 59px,#ece70a 60px,#e7ec0f 61px,#93e75d 69px,#70e57d 73px,#05dee0 83px,#00d8e4 84px,#0191e4 91px,#025ee4 97px,#0335e4 104px,#041ee4 113px,#0410e4 121px,#0406e4 139px,#0404e4)"></i><i style="background:linear-gradient(90deg,#eceb0a,#ebb40b 10px,#ea990b 16px,#ea6c0b 30px,#ea970b 45px,#ecec0a 60px,#8be664 69px,#67e484 73px,#00dce4 83px,#018de4 91px,#025be4 97px,#0333e4 104px,#041ce4 113px,#040fe4 121px,#0406e4 139px,#0404e4)"></i><i style="background:linear-gradient(90deg,#ecec0a,#ebb50a 10px,#ea980b 17px,#ea6e0b 30px,#eb9b0b 45px,#ecea0a 59px,#e5ec10 60px,#83e66b 69px,#5fe48c 73px,#02dee2 82px,#0288e4 91px,#0257e4 97px,#0331e4 104px,#041be4 113px,#040fe4 121px,#0405e4 140px,#0404e4)"></i><i style="background:linear-gradient(90deg,#ecec0a,#ebb70a 10px,#eb9a0b 17px,#ea700b 30px,#eb9f0b 45px,#ecea0a 58px,#e8ec0e 59px,#bde935 63px,#7be572 69px,#57e393 73px,#05dedf 81px,#00d9e4 82px,#028be4 90px,#0354e4 97px,#032fe4 104px,#041ae4 113px,#040ee4 121px,#0405e4 140px,#0404e4)"></i><i style="background:linear-gradient(90deg,#ecec0a,#ebb40b 11px,#ea990b 18px,#ea720b 30px,#eba40b 45px,#ecea0a 57px,#e2eb13 59px,#b7e93b 63px,#74e579 69px,#4fe39b 73px,#07dedd 80px,#00dce4 81px,#0286e4 90px,#0350e4 97px,#032de4 104px,#0419e4 113px,#040ee4 121px,#0405e4 141px,#0404e4)"></i><i style="background:linear-gradient(90deg,#ecec0a,#ebb60a 11px,#ea980b 19px,#ea740b 30px,#eba80b 45px,#ece90a 56px,#e2eb13 58px,#d3eb21 60px,#75e578 68px,#47e2a2 73px,#00dee4 80px,#0281e4 90px,#034de4 97px,#032be4 104px,#0419e4 112px,#040de4 121px,#0405e4 142px,#0404e4)"></i><i style="background:linear-gradient(90deg,#ebec0b,#ebb40b 12px,#ea7b0b 28px,#ea760b 30px,#ebac0b 45px,#ece80a 55px,#e3eb12 57px,#cdea27 60px,#6ee57f 68px,#3fe2aa 73px,#02dee2 79px,#01b3e4 84px,#027ce4 90px,#0349e4 97px,#0329e4 104px,#0417e4 112px,#040ce4 122px,#0405e4 143px,#0404e4)"></i><i style="background:linear-gradient(90deg,#ebec0b,#ebae0b 14px,#ea780b 30px,#ebb00b 45px,#eaec0c 55px,#d0ea24 59px,#afe843 62px,#66e486 68px,#2ce1bc 74px,#05dee0 78px,#00d9e4 79px,#0277e4 90px,#0346e4 97px,#0327e4 104px,#0416e4 112px,#040be4 122px,#0405e4 144px,#0404e4)"></i><i style="background:linear-gradient(90deg,#ebec0b,#ebac0b 15px,#ea7b0b 30px,#ebb40b 45px,#ebec0b 54px,#caea29 59px,#a8e849 62px,#5ee48d 68px,#06dede 77px,#00dbe4 78px,#0272e4 90px,#0342e4 97px,#0325e4 104px,#0415e4 112px,#040be4 122px,#0404e4 146px,#0404e4)"></i><i style="background:linear-gradient(90deg,#eaec0b,#ebab0b 16px,#ea7d0b 30px,#ebb80a 45px,#eceb0a 53px,#c4ea2f 59px,#a2e84f 62px,#57e394 68px,#00dde4 77px,#026de4 90px,#033fe4 97px,#0321e4 105px,#0413e4 112px,#040ae4 123px,#0404e4 150px,#0404e4)"></i><i style="background:linear-gradient(90deg,#eaec0c,#eba30b 19px,#ea7f0b 30px,#ebbc0a 45px,#ecea0a 52px,#d3eb21 56px,#bee934 59px,#9be755 62px,#4fe39b 68px,#00dee4 76px,#0268e4 90px,#033be4 97px,#041fe4 105px,#0412e4 112px,#0409e4 124px,#0404e4 154px,#0404e4)"></i><i style="background:linear-gradient(90deg,#eaec0c,#eba20b 20px,#ea810b 30px,#ebc00a 45px,#ece80a 51px,#e9ec0d 52px,#b8e93a 59px,#95e75b 62px,#48e2a2 68px,#02dee2 75px,#0263e4 90px,#0338e4 97px,#041de4 105px,#0411e4 112px,#0408e4 125px,#0404e4 165px,#0404e4)"></i><i style="background:linear-gradient(90deg,#eaec0c,#ecda0a 5px,#ea850b 29px,#ea830b 30px,#ebc40a 45px,#ebec0b 51px,#b2e93f 59px,#8ee661 62px,#40e2a9 68px,#04dee1 74px,#00d0e4 76px,#025ee4 90px,#0334e4 97px,#041be4 105px,#040fe4 112px,#0407e4 127px,#0404e4 188px,#0404e4)"></i><i style="background:linear-gradient(90deg,#e9ec0c,#ece30a 3px,#ea850b 30px,#ebc80a 45px,#eceb0a 50px,#ace845 59px,#88e667 62px,#38e1b0 68px,#07dede 73px,#00dae4 74px,#0260e4 89px,#0331e4 97px,#0417e4 106px,#040ee4 112px,#0406e4 130px,#0404e4)"></i><i style="background:linear-gradient(90deg,#e9ec0d,#ece40a 3px,#ea870b 30px,#ebcd0a 45px,#ece80a 49px,#e1eb14 51px,#a6e84b 59px,#8ee660 61px,#31e1b7 68px,#00dde4 73px,#0199e4 81px,#0354e4 90px,#032de4 97px,#0416e4 106px,#040ce4 112px,#0405e4 134px,#0404e4)"></i><i style="background:linear-gradient(90deg,#e9ec0d,#ece80a 2px,#ea890b 30px,#ecd10a 45px,#ebec0b 49px,#a0e850 59px,#88e666 61px,#29e0be 68px,#01dee3 72px,#01a2e4 79px,#034fe4 90px,#032ae4 97px,#0410e4 108px,#0409e4 116px,#0404e4 154px,#0404e4)"></i><i style="background:linear-gradient(90deg,#e8ec0d,#ece90a 2px,#ea8c0b 30px,#ecd50a 45px,#ecea0a 48px,#9ae756 59px,#82e66c 61px,#22e0c5 68px,#03dee1 71px,#00c4e4 74px,#026ee4 85px,#034ae4 90px,#0326e4 97px,#040be4 110px,#0404e4 140px,#0404e4)"></i><i style="background:linear-gradient(90deg,#e8ec0e,#ece90a 2px,#eba80b 22px,#ea8e0b 30px,#ecd90a 45px,#e9ec0d 48px,#94e75b 59px,#7be572 61px,#1ae0cc 68px,#05dedf 70px,#00d9e4 71px,#01ace4 76px,#0352e4 88px,#032ce4 95px,#0321e4 98px,#0409e4 110px,#0404e4 155px,#0404e4)"></i><i style="background:linear-gradient(90deg,#e8ec0e,#ece70a 3px,#ebb50a 19px,#ea900b 30px,#ecdd0a 45px,#ecec0a 47px,#8ee661 59px,#75e578 61px,#12dfd3 68px,#00dbe4 70px,#01a4e4 76px,#025ae4 86px,#0340e4 90px,#041fe4 97px,#0407e4 111px,#0404e4 190px,#0404e4)"></i><i style="background:linear-gradient(90deg,#e8ec0e,#ece70a 3px,#ebbb0a 18px,#ea930b 29px,#ea920b 30px,#ece10a 45px,#ece90a 46px,#e0eb15 48px,#88e666 59px,#6fe57e 61px,#0bdfda 68px,#00dee4 69px,#01a5e4 75px,#0262e4 84px,#033be4 90px,#041ce4 97px,#0406e4 111px,#0404e4)"></i><i style="background:linear-gradient(90deg,#e7ec0e,#ece80a 3px,#ebc00a 17px,#ea950b 29px,#ea940b 30px,#ebec0b 46px,#82e66c 59px,#69e483 61px,#03dee1 68px,#00cde4 70px,#019ee4 75px,#025ce4 84px,#0336e4 90px,#0418e4 97px,#0404e4 111px,#0404e4)"></i><i style="background:linear-gradient(90deg,#e0eb15,#eceb0a 5px,#ebca0a 17px,#eba00b 29px,#eb9f0b 30px,#ece80a 44px,#eaec0c 45px,#7be572 59px,#62e48a 61px,#00dce4 68px,#019ae4 75px,#0259e4 84px,#0334e4 90px,#0417e4 97px,#0404e4 111px,#0404e4)"></i><i style="background:linear-gradient(90deg,#d7eb1e,#ecea0a 9px,#ecd10a 18px,#ebab0b 30px,#ebec0b 43px,#cfea24 47px,#73e579 59px,#5be390 61px,#07dedd 67px,#00d8e4 68px,#0196e4 75px,#0257e4 84px,#0333e4 90px,#0416e4 97px,#0404e4 111px,#0404e4)"></i><i style="background:linear-gradient(90deg,#cdea26,#ecea0a 13px,#ebb70a 30px,#eaec0c 41px,#cdea27 46px,#6ce480 59px,#54e397 61px,#02dee2 67px,#0193e4 75px,#0355e4 84px,#0331e4 90px,#0416e4 97px,#0404e4 111px,#0404e4)"></i><i style="background:linear-gradient(90deg,#c4ea2f,#ecea0a 17px,#ebc40a 30px,#ecea0a 38px,#c9ea2a 45px,#64e487 59px,#4de39d 61px,#0adfda 66px,#00dbe4 67px,#01bce4 70px,#0190e4 75px,#034ce4 85px,#0330e4 90px,#0415e4 97px,#0404e4 111px,#0404e4)"></i><i style="background:linear-gradient(90deg,#bbe937,#e3eb13 17px,#ecec0a 20px,#ebd00a 30px,#ecec0a 36px,#bee934 45px,#5de38e 59px,#39e1b0 62px,#05dedf 66px,#00d7e4 67px,#01b9e4 70px,#018de4 75px,#034ae4 85px,#032ee4 90px,#0413e4 98px,#0404e4 112px,#0404e4)"></i><i style="background:linear-gradient(90deg,#b2e940,#d7eb1d 17px,#ecec0a 24px,#ecdd0a 30px,#ecea0a 33px,#b3e93e 45px,#55e395 59px,#32e1b6 62px,#00dee4 66px,#01bde4 69px,#028ae4 75px,#0347e4 85px,#032de4 90px,#0412e4 98px,#0404e4 112px,#0404e4)"></i><i style="background:linear-gradient(90deg,#a9e848,#ccea28 17px,#ebec0b 28px,#ece90a 30px,#e6ec10 32px,#a9e848 45px,#4de39c 59px,#2ce1bc 62px,#07dede 65px,#00d9e4 66px,#01b9e4 69px,#0286e4 75px,#033fe4 86px,#0328e4 91px,#0411e4 98px,#0404e4 112px,#0404e4)"></i><i style="background:linear-gradient(90deg,#9fe751,#c0e933 17px,#e2eb13 30px,#9ee752 45px,#46e2a3 59px,#25e0c2 62px,#01dee3 65px,#01b5e4 69px,#0283e4 75px,#033de4 86px,#0326e4 91px,#0410e4 98px,#0404e4 112px,#0404e4)"></i><i style="background:linear-gradient(90deg,#96e759,#b5e93d 17px,#d5eb1f 30px,#93e75c 45px,#3ee2ab 59px,#1ee0c8 62px,#07dedd 64px,#00dae4 65px,#01b1e4 69px,#0280e4 75px,#033be4 86px,#0325e4 91px,#0410e4 98px,#0404e4 112px,#0404e4)"></i><i style="background:linear-gradient(90deg,#8de662,#a9e848 17px,#c8ea2c 30px,#82e66c 46px,#37e1b2 59px,#18dfce 62px,#01dee3 64px,#01ade4 69px,#0276e4 76px,#0334e4 87px,#041ae4 94px,#040fe4 98px,#0404e4 112px,#0404e4)"></i><i style="background:linear-gradient(90deg,#84e66a,#9ee753 17px,#bae938 30px,#78e575 46px,#2fe1b9 59px,#11dfd4 62px,#06dede 63px,#00d9e4 64px,#01a9e4 69px,#0273e4 76px,#0332e4 87px,#0413e4 96px,#040be4 102px,#0404e4 113px,#0404e4)"></i><i style="background:linear-gradient(90deg,#7be573,#92e75d 17px,#ade844 30px,#6de47f 46px,#27e0c0 59px,#00dee4 63px,#01a5e4 69px,#0270e4 76px,#0330e4 87px,#040fe4 97px,#0404e4 112px,#0404e4)"></i><i style="background:linear-gradient(90deg,#71e57b,#86e668 17px,#a0e750 30px,#62e489 46px,#20e0c7 59px,#04dee1 62px,#00cee4 64px,#01a1e4 69px,#026de4 76px,#032ee4 87px,#040ee4 97px,#0404e4 113px,#0404e4)"></i><i style="background:linear-gradient(90deg,#68e484,#7be572 17px,#93e75c 30px,#58e393 46px,#18dfce 59px,#00dbe4 62px,#019ce4 69px,#026ae4 76px,#032ce4 87px,#040ee4 97px,#0404e4 113px,#0404e4)"></i><i style="background:linear-gradient(90deg,#5fe48c,#6fe57d 17px,#86e669 30px,#4de39d 46px,#11dfd5 59px,#00dee4 61px,#0198e4 69px,#0267e4 76px,#032ae4 87px,#040be4 98px,#0404e4 114px,#0404e4)"></i><i style="background:linear-gradient(90deg,#56e395,#64e488 17px,#78e575 30px,#43e2a6 46px,#09dfdc 59px,#02dee2 60px,#019ce4 68px,#0264e4 76px,#0328e4 87px,#040be4 98px,#0404e4 115px,#0404e4)"></i><i style="background:linear-gradient(90deg,#4de39d,#58e392 17px,#6be481 30px,#38e1b0 46px,#01dee3 59px,#00d1e4 61px,#0289e4 70px,#0261e4 76px,#0326e4 87px,#040ae4 98px,#0404e4 116px,#0404e4)"></i><i style="background:linear-gradient(90deg,#43e2a6,#4de39d 17px,#5ee48d 30px,#29e0be 47px,#00dce4 58px,#00d3e4 60px,#0285e4 70px,#025ee4 76px,#0324e4 87px,#0409e4 98px,#0404e4 117px,#0404e4)"></i><i style="background:linear-gradient(90deg,#3ae1ae,#41e2a8 17px,#51e399 30px,#1fe0c7 47px,#01dee3 55px,#00cce4 60px,#027ae4 71px,#0355e4 77px,#0322e4 87px,#0408e4 98px,#0404e4 119px,#0404e4)"></i><i style="background:linear-gradient(90deg,#31e1b7,#36e1b2 17px,#44e2a5 30px,#15dfd1 47px,#00dee4 53px,#00c5e4 60px,#0270e4 72px,#0342e4 80px,#0320e4 87px,#0407e4 99px,#0404e4 128px,#0404e4)"></i><i style="background:linear-gradient(90deg,#28e0bf,#2ae1bd 17px,#36e1b2 30px,#0adfdb 47px,#00dee4 50px,#01bee4 60px,#025fe4 74px,#041ee4 87px,#0407e4 99px,#0404e4 150px,#0404e4)"></i><i style="background:linear-gradient(90deg,#1fe0c8,#1fe0c7 17px,#29e0be 30px,#00dee4 47px,#01b8e4 60px,#0257e4 75px,#041ce4 87px,#0406e4 99px,#0404e4)"></i><i style="background:linear-gradient(90deg,#15dfd0,#13dfd2 17px,#1ce0ca 30px,#00dee4 43px,#01b1e4 60px,#0353e4 75px,#041ae4 87px,#0405e4 99px,#0404e4)"></i><i style="background:linear-gradient(90deg,#0cdfd9,#08dedd 17px,#0fdfd6 30px,#00dde4 38px,#01b8e4 55px,#01aae4 60px,#034be4 76px,#041be4 86px,#0405e4 99px,#0404e4)"></i><i style="background:linear-gradient(90deg,#03dee2,#00dbe4 18px,#02dee2 30px,#01bfe4 48px,#01a3e4 60px,#0348e4 76px,#0419e4 86px,#0404e4 99px,#0404e4)"></i><i style="background:linear-gradient(90deg,#00d7e4,#00d1e4 17px,#00d6e4 30px,#01ade4 53px,#019de4 60px,#0345e4 76px,#0418e4 86px,#0404e4 99px,#0404e4)"></i><i style="background:linear-gradient(90deg,#00cde4,#00c8e4 18px,#00cce4 30px,#01a2e4 55px,#0197e4 60px,#033ee4 77px,#0414e4 87px,#0404e4 99px,#0404e4)"></i><i style="background:linear-gradient(90deg,#00c3e4,#01bfe4 18px,#01c1e4 31px,#0195e4 58px,#028be4 61px,#033be4 77px,#0413e4 87px,#0404e4 99px,#0404e4)"></i><i style="background:linear-gradient(90deg,#01b9e4,#01b5e4 18px,#01b8e4 31px,#018de4 59px,#0334e4 78px,#0413e4 87px,#0404e4 99px,#0404e4)"></i><i style="background:linear-gradient(90deg,#01afe4,#01ace4 18px,#01aee4 31px,#0287e4 59px,#0332e4 78px,#0412e4 87px,#0404e4 100px,#0404e4)"></i><i style="background:linear-gradient(90deg,#01a6e4,#01a2e4 19px,#01a4e4 31px,#027de4 60px,#032fe4 78px,#0411e4 87px,#0404e4 100px,#0404e4)"></i><i style="background:linear-gradient(90deg,#019ce4,#0199e4 19px,#019ae4 31px,#0277e4 60px,#032de4 78px,#0411e4 86px,#0404e4 100px,#0404e4)"></i><i style="background:linear-gradient(90deg,#0192e4,#0190e4 20px,#0191e4 31px,#0270e4 60px,#0327e4 79px,#040fe4 87px,#0404e4 100px,#0404e4)"></i><i style="background:linear-gradient(90deg,#0288e4,#0286e4 21px,#0286e4 32px,#026ae4 60px,#0321e4 80px,#040ee4 87px,#0404e4 101px,#0404e4)"></i><i style="background:linear-gradient(90deg,#027fe4,#027de4 21px,#027de4 32px,#0264e4 60px,#0418e4 82px,#040de4 87px,#0404e4 101px,#0404e4)"></i><i style="background:linear-gradient(90deg,#0275e4,#0273e4 23px,#0272e4 33px,#025de4 60px,#0414e4 83px,#040be4 89px,#0404e4 102px,#0404e4)"></i><i style="background:linear-gradient(90deg,#026be4,#026ae4 25px,#0267e4 35px,#0257e4 60px,#0410e4 84px,#0406e4 95px,#0404e4)"></i><i style="background:linear-gradient(90deg,#0261e4,#0261e4 27px,#0351e4 60px,#040ee4 84px,#0404e4 99px,#0404e4)"></i><i style="background:linear-gradient(90deg,#0257e4,#0355e4 34px,#034ae4 60px,#040de4 84px,#0404e4 102px,#0404e4)"></i><i style="background:linear-gradient(90deg,#034ee4,#034be4 36px,#0344e4 60px,#040be4 84px,#0404e4 103px,#0404e4)"></i><i style="background:linear-gradient(90deg,#0344e4,#0341e4 38px,#033ee4 60px,#0409e4 84px,#0404e4 106px,#0404e4)"></i><i style="background:linear-gradient(90deg,#033ae4,#0337e4 42px,#0337e4 60px,#0408e4 84px,#0404e4 113px,#0404e4)"></i><i style="background:linear-gradient(90deg,#0330e4,#0330e4 53px,#0331e4 60px,#0406e4 84px,#0404e4 191px,#0404e4)"></i><i style="background:linear-gradient(90deg,#0326e4,#0328e4 50px,#032ae4 60px,#0405e4 84px,#0404e4)"></i>
</div>
<div class="t yt" style="left:390.3px;top:221.4px">2</div>
<div class="tk" style="left:424.3px;top:227px;width:2px;height:1px"></div>
<div class="tk" style="left:660.1px;top:227px;width:2px;height:1px"></div>
<div class="t yt" style="left:390.3px;top:270.631px">1.5</div>
<div class="tk" style="left:424.3px;top:276px;width:2px;height:1px"></div>
<div class="tk" style="left:660.1px;top:276px;width:2px;height:1px"></div>
<div class="t yt" style="left:390.3px;top:319.862px">1</div>
<div class="tk" style="left:424.3px;top:325px;width:2px;height:1px"></div>
<div class="tk" style="left:660.1px;top:325px;width:2px;height:1px"></div>
<div class="t yt" style="left:390.3px;top:369.092px">0.5</div>
<div class="tk" style="left:424.3px;top:374px;width:2px;height:1px"></div>
<div class="tk" style="left:660.1px;top:374px;width:2px;height:1px"></div>
<div class="tk" style="left:424.3px;top:227px;width:1px;height:2px"></div>
<div class="tk" style="left:424.3px;top:417px;width:1px;height:2px"></div>
<div class="tk" style="left:483px;top:227px;width:1px;height:2px"></div>
<div class="tk" style="left:483px;top:417px;width:1px;height:2px"></div>
<div class="tk" style="left:543px;top:227px;width:1px;height:2px"></div>
<div class="tk" style="left:543px;top:417px;width:1px;height:2px"></div>
<div class="tk" style="left:602px;top:227px;width:1px;height:2px"></div>
<div class="tk" style="left:602px;top:417px;width:1px;height:2px"></div>
<div class="tk" style="left:661.1px;top:227px;width:1px;height:2px"></div>
<div class="tk" style="left:661.1px;top:417px;width:1px;height:2px"></div>
<div class="l yl" style="left:396.2px;top:322.5px">Charging current  /  C</div>
<div class="t xt" style="left:404.6px;top:423.7px">-20</div>
<div class="t xt" style="left:464.05px;top:423.7px">0</div>
<div class="t xt" style="left:523.5px;top:423.7px">20</div>
<div class="t xt" style="left:582.95px;top:423.7px">40</div>
<div class="t xt" style="left:642.4px;top:423.7px">60</div>
<div class="l" style="left:543.5px;top:437.9px;transform:translateX(-50%)">Temperature  /  °C</div>
<div class="cb" style="left:673.2px;top:227px;width:9px;height:192px;background:linear-gradient(0deg,#0404e4 0.00%,#00dee4 33.33%,#ecec0a 66.67%,#e80e0c 100.00%)"></div>
<div class="t ct" style="left:685.2px;top:222px">100</div>
<div class="tk" style="left:679.7px;top:227px;width:2px;height:1px"></div>
<div class="t ct" style="left:685.2px;top:260.4px">80</div>
<div class="tk" style="left:679.7px;top:264.9px;width:2px;height:1px"></div>
<div class="t ct" style="left:685.2px;top:298.8px">60</div>
<div class="tk" style="left:679.7px;top:303.3px;width:2px;height:1px"></div>
<div class="t ct" style="left:685.2px;top:337.2px">40</div>
<div class="tk" style="left:679.7px;top:341.7px;width:2px;height:1px"></div>
<div class="t ct" style="left:685.2px;top:375.6px">20</div>
<div class="tk" style="left:679.7px;top:380.1px;width:2px;height:1px"></div>
<div class="t ct" style="left:685.2px;top:414px">0</div>
<div class="tk" style="left:679.7px;top:418px;width:2px;height:1px"></div>
<div class="l yl cl" style="left:712px;top:323px">Capacity loss % after 1 day</div>
</body></html>
